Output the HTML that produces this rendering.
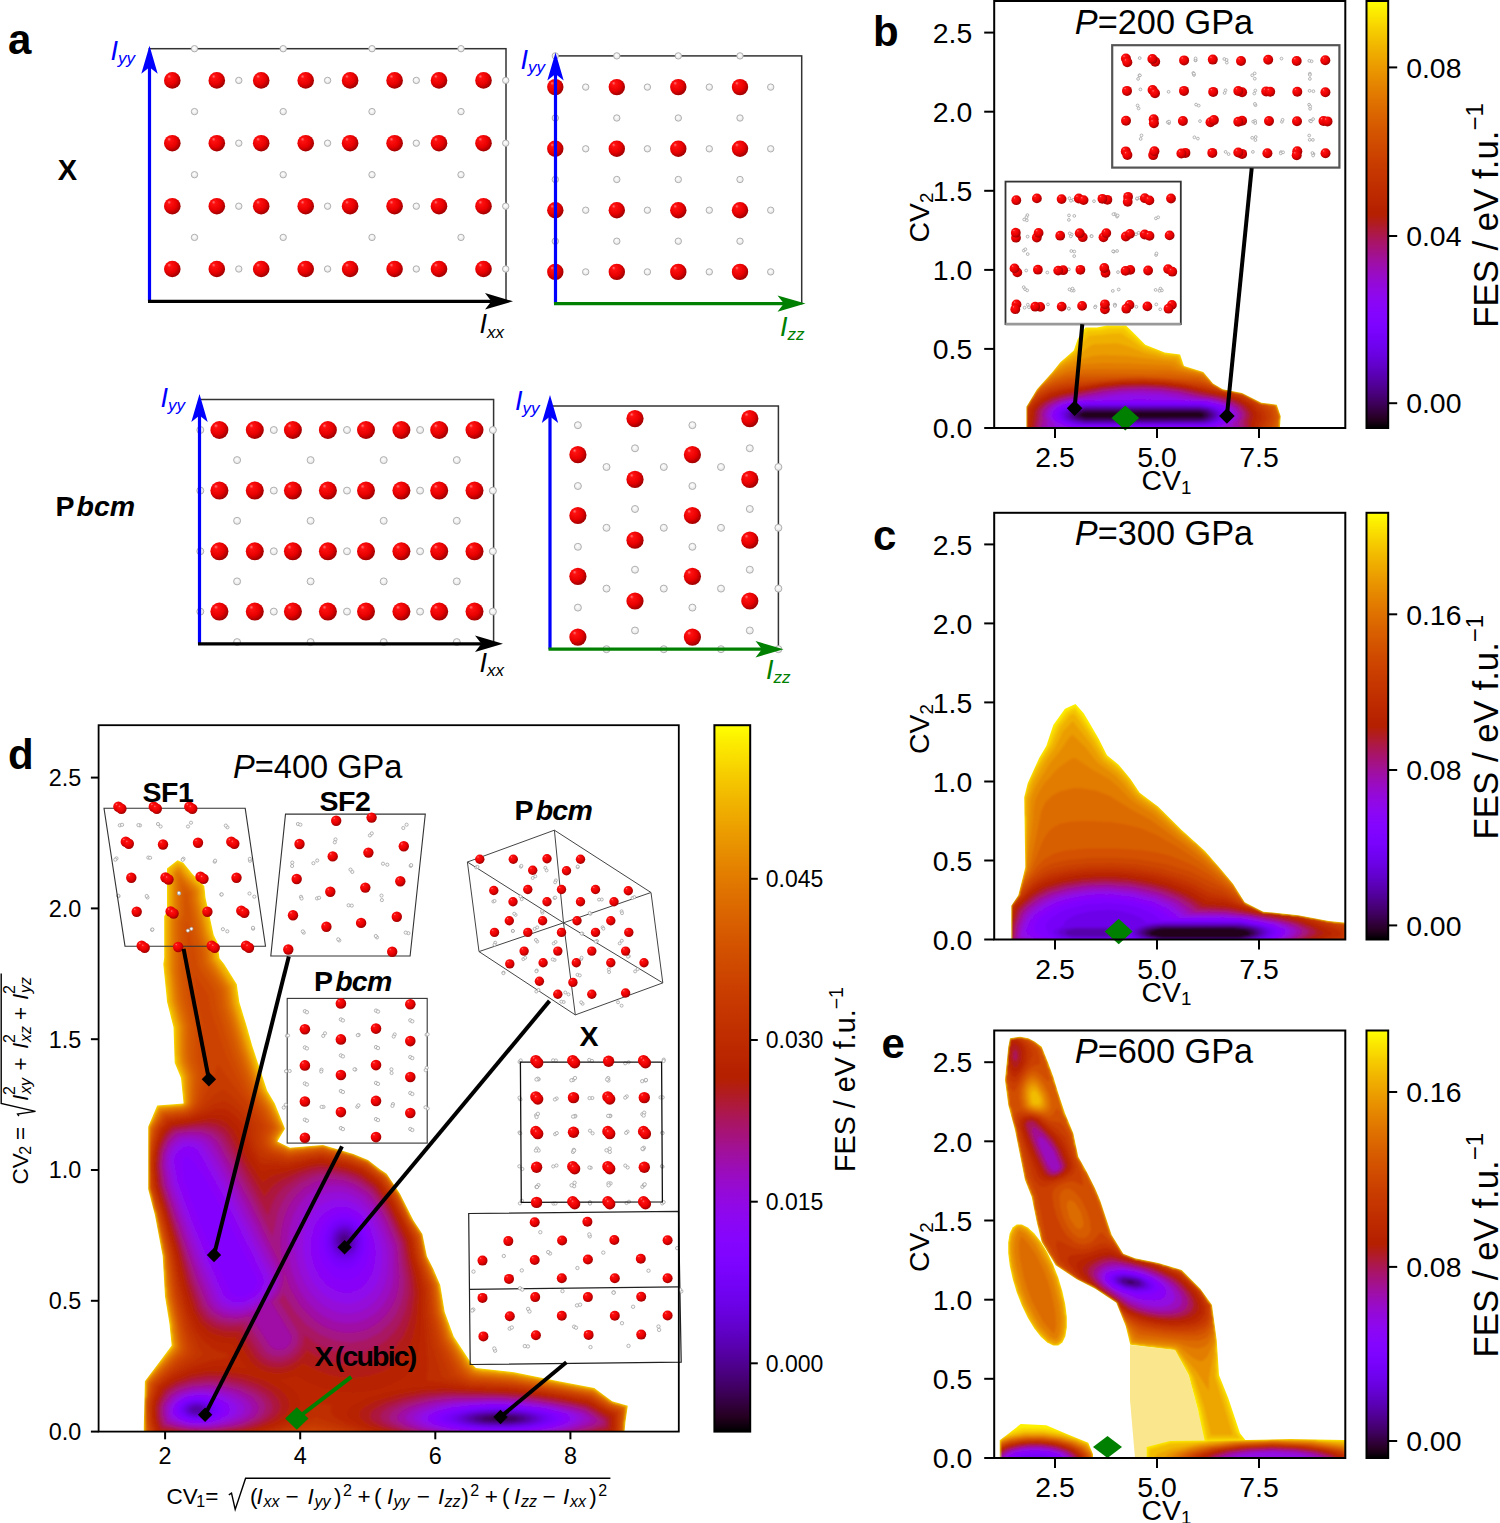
<!DOCTYPE html><html><head><meta charset="utf-8"><style>html,body{margin:0;padding:0;background:#fff;overflow:hidden}svg{display:block}</style></head><body><svg width="1500" height="1523" viewBox="0 0 1500 1523" font-family='"Liberation Sans", sans-serif'><defs><radialGradient id="rg" cx="0.4" cy="0.38" r="0.62" fx="0.3" fy="0.25"><stop offset="0" stop-color="#ff7878"/><stop offset="0.18" stop-color="#ff1010"/><stop offset="0.65" stop-color="#e80000"/><stop offset="1" stop-color="#a00000"/></radialGradient><radialGradient id="gg" cx="0.45" cy="0.4" r="0.6"><stop offset="0" stop-color="#ffffff"/><stop offset="1" stop-color="#e4e4e4"/></radialGradient><linearGradient id="cmapg" x1="0" y1="1" x2="0" y2="0"><stop offset="0" stop-color="#000000"/><stop offset="0.021" stop-color="#250021"/><stop offset="0.042" stop-color="#340042"/><stop offset="0.062" stop-color="#400062"/><stop offset="0.083" stop-color="#4a007f"/><stop offset="0.104" stop-color="#52009b"/><stop offset="0.125" stop-color="#5a00b4"/><stop offset="0.146" stop-color="#6101ca"/><stop offset="0.167" stop-color="#6801dd"/><stop offset="0.188" stop-color="#6e02ec"/><stop offset="0.208" stop-color="#7402f6"/><stop offset="0.229" stop-color="#7a03fd"/><stop offset="0.25" stop-color="#8004ff"/><stop offset="0.271" stop-color="#8505fd"/><stop offset="0.292" stop-color="#8a06f6"/><stop offset="0.312" stop-color="#8f08ec"/><stop offset="0.333" stop-color="#9309dd"/><stop offset="0.354" stop-color="#980bca"/><stop offset="0.375" stop-color="#9c0db4"/><stop offset="0.396" stop-color="#a0109b"/><stop offset="0.417" stop-color="#a5127f"/><stop offset="0.438" stop-color="#a91562"/><stop offset="0.458" stop-color="#ad1942"/><stop offset="0.479" stop-color="#b11c21"/><stop offset="0.5" stop-color="#b42000"/><stop offset="0.521" stop-color="#b82400"/><stop offset="0.542" stop-color="#bc2900"/><stop offset="0.562" stop-color="#bf2d00"/><stop offset="0.583" stop-color="#c33300"/><stop offset="0.604" stop-color="#c63800"/><stop offset="0.625" stop-color="#ca3e00"/><stop offset="0.646" stop-color="#cd4500"/><stop offset="0.667" stop-color="#d04c00"/><stop offset="0.688" stop-color="#d35300"/><stop offset="0.708" stop-color="#d75b00"/><stop offset="0.729" stop-color="#da6300"/><stop offset="0.75" stop-color="#dd6c00"/><stop offset="0.771" stop-color="#e07500"/><stop offset="0.792" stop-color="#e37f00"/><stop offset="0.812" stop-color="#e68900"/><stop offset="0.833" stop-color="#e99400"/><stop offset="0.854" stop-color="#ec9f00"/><stop offset="0.875" stop-color="#efab00"/><stop offset="0.896" stop-color="#f1b700"/><stop offset="0.917" stop-color="#f4c400"/><stop offset="0.938" stop-color="#f7d200"/><stop offset="0.958" stop-color="#fae000"/><stop offset="0.979" stop-color="#fcef00"/><stop offset="1" stop-color="#ffff00"/></linearGradient><clipPath id="clipdm"><path d="M143.8 1445 143.8 1425.9 144.9 1381.3 158.3 1363.4 171.7 1345.5 169.4 1323.2 165 1296.4 162.7 1256 154.9 1215 148.2 1189.3 148.2 1126.8 157.2 1105.6 183.6 1103.4 181 1078 174.7 1062.8 173.5 1027.3 167.1 1002 163.3 964 164.2 958 164.2 916.3 167 911.7 167 868.5 177.5 860.3 183.3 862.7 192.7 874.3 204.3 886 205.5 897.7 213.7 935 217.2 942 219.5 958.3 224.1 964 236.8 984.3 239.3 1002 247 1027.3 252 1045 257 1060.3 267.2 1090.7 274.8 1103.4 285 1128.7 277.3 1141.4 290 1147.7 323 1145 353.4 1154 368 1160 380 1169.2 386.7 1173.7 400 1193.8 413.5 1220.5 422.4 1234 426.9 1256.3 433.6 1269.6 440.3 1285.3 444.7 1312 453.7 1336.6 462.6 1350 471.5 1363.4 476 1367.9 514 1372.3 558.6 1381.3 594.3 1388 612.1 1401.3 627.8 1405.8 625.5 1421.4 623.3 1445Z"/></clipPath><clipPath id="clipd"><rect x="98.6" y="725.2" width="580.2" height="706.4"/></clipPath><filter id="bld" x="-5%" y="-5%" width="110%" height="110%"><feGaussianBlur stdDeviation="1.5"/></filter><clipPath id="clipbm"><path d="M1026.4 445 1026.4 426 1026.4 406.7 1037 389.3 1052.5 371.9 1060.3 362.2 1073.8 350.6 1077.7 339 1085.4 327.4 1097 327.4 1106.7 325.5 1126 325.5 1135.7 335.1 1145.3 344.8 1164.7 352.5 1180.1 354.5 1184 366 1203.3 371.9 1213 383.5 1222.7 389.3 1242 393.1 1261.4 402.8 1276.8 404.7 1280.7 416.3 1278.8 445Z"/></clipPath><clipPath id="clipb"><rect x="994.2" y="1" width="351.1" height="427"/></clipPath><filter id="blb" x="-5%" y="-5%" width="110%" height="110%"><feGaussianBlur stdDeviation="1"/></filter><clipPath id="clipcm"><path d="M1011.3 945 1011.3 937.3 1011.3 905.8 1018.3 895.3 1023 876.7 1025.3 867.3 1024.2 797.3 1027.7 783.3 1039.3 757.7 1046.3 746 1053.3 725 1065 708.7 1075.5 704 1083.7 713.3 1090.7 725 1098.8 739 1107 755.3 1118.7 764.7 1130.3 778.7 1139.7 792.7 1158.3 806.7 1181.7 830 1205 851 1221.3 869.7 1233 883.7 1244.7 902.3 1263.3 911.7 1298.3 915.2 1328.7 921 1350 923.3 1350 945Z"/></clipPath><clipPath id="clipc"><rect x="994.2" y="512.8" width="351.1" height="426.7"/></clipPath><filter id="blc" x="-5%" y="-5%" width="110%" height="110%"><feGaussianBlur stdDeviation="1"/></filter><clipPath id="clipe1m"><path d="M1010 1038.3 1020 1036.7 1028.3 1038.3 1035 1041.7 1041.7 1046.7 1048.3 1063.3 1053.3 1076.7 1058.3 1093.3 1065 1113.3 1073.3 1133.3 1078.3 1156.7 1086.7 1171.7 1095 1188.3 1100 1200 1111.7 1235 1123.3 1253.7 1135 1258.3 1158.3 1263 1181.7 1270 1200.3 1288.7 1212 1305 1216.7 1340 1219 1375 1228.3 1398.3 1240 1433.3 1247 1442 1205 1442 1198 1410 1188.7 1375 1175 1350 1130.3 1344.7 1125.7 1326 1116.3 1302.7 1095.3 1288.7 1076.7 1279.3 1055.7 1265.3 1041.7 1242 1036.7 1221.7 1031.7 1196.7 1025 1180 1020 1155 1015 1130 1008.3 1105 1005 1080 1008.3 1046.7Z"/></clipPath><clipPath id="clipe1"><rect x="994.2" y="1030.5" width="351.1" height="427.5"/></clipPath><filter id="ble1" x="-5%" y="-5%" width="110%" height="110%"><feGaussianBlur stdDeviation="1"/></filter><clipPath id="clipe2m"><path d="M1058.3 1345.5 1053.2 1345.6 1047.2 1342.6 1040.8 1336.8 1034.2 1328.3 1027.8 1317.7 1021.9 1305.4 1016.7 1292.2 1012.6 1278.5 1009.7 1265.2 1008.2 1252.9 1008.2 1242.2 1009.7 1233.6 1012.6 1227.6 1016.7 1224.5 1021.8 1224.4 1027.8 1227.4 1034.2 1233.2 1040.8 1241.7 1047.2 1252.3 1053.1 1264.6 1058.3 1277.8 1062.4 1291.5 1065.3 1304.8 1066.8 1317.1 1066.8 1327.8 1065.3 1336.4 1062.4 1342.4Z"/></clipPath><clipPath id="clipe2"><rect x="994.2" y="1030.5" width="351.1" height="427.5"/></clipPath><filter id="ble2" x="-5%" y="-5%" width="110%" height="110%"><feGaussianBlur stdDeviation="1"/></filter><clipPath id="clipe3m"><path d="M999.7 1465 999.7 1440.3 1009 1433.3 1020.7 1424 1046.3 1425.2 1065 1433.3 1088.3 1442.7 1093 1454.3 1093 1465Z"/></clipPath><clipPath id="clipe3"><rect x="994.2" y="1030.5" width="351.1" height="427.5"/></clipPath><filter id="ble3" x="-5%" y="-5%" width="110%" height="110%"><feGaussianBlur stdDeviation="1"/></filter><clipPath id="clipe4m"><path d="M1146.7 1465 1146.7 1447 1170 1441 1247 1440 1290 1439 1343.8 1440 1350 1440 1350 1465Z"/></clipPath><clipPath id="clipe4"><rect x="994.2" y="1030.5" width="351.1" height="427.5"/></clipPath><filter id="ble4" x="-5%" y="-5%" width="110%" height="110%"><feGaussianBlur stdDeviation="1"/></filter></defs><rect width="1500" height="1523" fill="#fff"/>
<rect x="149.3" y="48.7" width="356.7" height="252.3" fill="none" stroke="#333" stroke-width="1.5"/>
<circle cx="238.8" cy="80.4" r="3.2" fill="url(#gg)" stroke="#a8a8a8" stroke-width="0.9"/>
<circle cx="327.6" cy="80.4" r="3.2" fill="url(#gg)" stroke="#a8a8a8" stroke-width="0.9"/>
<circle cx="416.3" cy="80.4" r="3.2" fill="url(#gg)" stroke="#a8a8a8" stroke-width="0.9"/>
<circle cx="505.7" cy="80.4" r="3.2" fill="url(#gg)" stroke="#a8a8a8" stroke-width="0.9"/>
<circle cx="238.8" cy="143.2" r="3.2" fill="url(#gg)" stroke="#a8a8a8" stroke-width="0.9"/>
<circle cx="327.6" cy="143.2" r="3.2" fill="url(#gg)" stroke="#a8a8a8" stroke-width="0.9"/>
<circle cx="416.3" cy="143.2" r="3.2" fill="url(#gg)" stroke="#a8a8a8" stroke-width="0.9"/>
<circle cx="505.7" cy="143.2" r="3.2" fill="url(#gg)" stroke="#a8a8a8" stroke-width="0.9"/>
<circle cx="238.8" cy="206.2" r="3.2" fill="url(#gg)" stroke="#a8a8a8" stroke-width="0.9"/>
<circle cx="327.6" cy="206.2" r="3.2" fill="url(#gg)" stroke="#a8a8a8" stroke-width="0.9"/>
<circle cx="416.3" cy="206.2" r="3.2" fill="url(#gg)" stroke="#a8a8a8" stroke-width="0.9"/>
<circle cx="505.7" cy="206.2" r="3.2" fill="url(#gg)" stroke="#a8a8a8" stroke-width="0.9"/>
<circle cx="238.8" cy="269" r="3.2" fill="url(#gg)" stroke="#a8a8a8" stroke-width="0.9"/>
<circle cx="327.6" cy="269" r="3.2" fill="url(#gg)" stroke="#a8a8a8" stroke-width="0.9"/>
<circle cx="416.3" cy="269" r="3.2" fill="url(#gg)" stroke="#a8a8a8" stroke-width="0.9"/>
<circle cx="505.7" cy="269" r="3.2" fill="url(#gg)" stroke="#a8a8a8" stroke-width="0.9"/>
<circle cx="194.5" cy="48.7" r="3.2" fill="url(#gg)" stroke="#a8a8a8" stroke-width="0.9"/>
<circle cx="283.2" cy="48.7" r="3.2" fill="url(#gg)" stroke="#a8a8a8" stroke-width="0.9"/>
<circle cx="372" cy="48.7" r="3.2" fill="url(#gg)" stroke="#a8a8a8" stroke-width="0.9"/>
<circle cx="461" cy="48.7" r="3.2" fill="url(#gg)" stroke="#a8a8a8" stroke-width="0.9"/>
<circle cx="194.5" cy="111.6" r="3.2" fill="url(#gg)" stroke="#a8a8a8" stroke-width="0.9"/>
<circle cx="283.2" cy="111.6" r="3.2" fill="url(#gg)" stroke="#a8a8a8" stroke-width="0.9"/>
<circle cx="372" cy="111.6" r="3.2" fill="url(#gg)" stroke="#a8a8a8" stroke-width="0.9"/>
<circle cx="461" cy="111.6" r="3.2" fill="url(#gg)" stroke="#a8a8a8" stroke-width="0.9"/>
<circle cx="194.5" cy="174.7" r="3.2" fill="url(#gg)" stroke="#a8a8a8" stroke-width="0.9"/>
<circle cx="283.2" cy="174.7" r="3.2" fill="url(#gg)" stroke="#a8a8a8" stroke-width="0.9"/>
<circle cx="372" cy="174.7" r="3.2" fill="url(#gg)" stroke="#a8a8a8" stroke-width="0.9"/>
<circle cx="461" cy="174.7" r="3.2" fill="url(#gg)" stroke="#a8a8a8" stroke-width="0.9"/>
<circle cx="194.5" cy="237.4" r="3.2" fill="url(#gg)" stroke="#a8a8a8" stroke-width="0.9"/>
<circle cx="283.2" cy="237.4" r="3.2" fill="url(#gg)" stroke="#a8a8a8" stroke-width="0.9"/>
<circle cx="372" cy="237.4" r="3.2" fill="url(#gg)" stroke="#a8a8a8" stroke-width="0.9"/>
<circle cx="461" cy="237.4" r="3.2" fill="url(#gg)" stroke="#a8a8a8" stroke-width="0.9"/>
<circle cx="172.3" cy="80.4" r="8.3" fill="url(#rg)"/>
<circle cx="216.8" cy="80.4" r="8.3" fill="url(#rg)"/>
<circle cx="261.2" cy="80.4" r="8.3" fill="url(#rg)"/>
<circle cx="305.7" cy="80.4" r="8.3" fill="url(#rg)"/>
<circle cx="350.1" cy="80.4" r="8.3" fill="url(#rg)"/>
<circle cx="394.6" cy="80.4" r="8.3" fill="url(#rg)"/>
<circle cx="439" cy="80.4" r="8.3" fill="url(#rg)"/>
<circle cx="483.5" cy="80.4" r="8.3" fill="url(#rg)"/>
<circle cx="172.3" cy="143.2" r="8.3" fill="url(#rg)"/>
<circle cx="216.8" cy="143.2" r="8.3" fill="url(#rg)"/>
<circle cx="261.2" cy="143.2" r="8.3" fill="url(#rg)"/>
<circle cx="305.7" cy="143.2" r="8.3" fill="url(#rg)"/>
<circle cx="350.1" cy="143.2" r="8.3" fill="url(#rg)"/>
<circle cx="394.6" cy="143.2" r="8.3" fill="url(#rg)"/>
<circle cx="439" cy="143.2" r="8.3" fill="url(#rg)"/>
<circle cx="483.5" cy="143.2" r="8.3" fill="url(#rg)"/>
<circle cx="172.3" cy="206.2" r="8.3" fill="url(#rg)"/>
<circle cx="216.8" cy="206.2" r="8.3" fill="url(#rg)"/>
<circle cx="261.2" cy="206.2" r="8.3" fill="url(#rg)"/>
<circle cx="305.7" cy="206.2" r="8.3" fill="url(#rg)"/>
<circle cx="350.1" cy="206.2" r="8.3" fill="url(#rg)"/>
<circle cx="394.6" cy="206.2" r="8.3" fill="url(#rg)"/>
<circle cx="439" cy="206.2" r="8.3" fill="url(#rg)"/>
<circle cx="483.5" cy="206.2" r="8.3" fill="url(#rg)"/>
<circle cx="172.3" cy="269" r="8.3" fill="url(#rg)"/>
<circle cx="216.8" cy="269" r="8.3" fill="url(#rg)"/>
<circle cx="261.2" cy="269" r="8.3" fill="url(#rg)"/>
<circle cx="305.7" cy="269" r="8.3" fill="url(#rg)"/>
<circle cx="350.1" cy="269" r="8.3" fill="url(#rg)"/>
<circle cx="394.6" cy="269" r="8.3" fill="url(#rg)"/>
<circle cx="439" cy="269" r="8.3" fill="url(#rg)"/>
<circle cx="483.5" cy="269" r="8.3" fill="url(#rg)"/>
<line x1="149.5" y1="301" x2="149.5" y2="67.3" stroke="#0000ff" stroke-width="3.2"/><path d="M149.5 45.7 L157.7 73.7 L149.5 67.3 L141.3 73.7 Z" fill="#0000ff"/>
<line x1="148" y1="301.3" x2="491.4" y2="301.3" stroke="#000" stroke-width="3.2"/><path d="M513 301.3 L485 309.5 L491.4 301.3 L485 293.1 Z" fill="#000"/>
<text x="110.5" y="59.5" font-size="27" font-style="italic" fill="#0000ff">I<tspan font-size="17" dy="4.5">yy</tspan></text>
<text x="479.5" y="333" font-size="27" font-style="italic" fill="#000">I<tspan font-size="17" dy="4.5">xx</tspan></text>
<rect x="555.5" y="55.9" width="246.2" height="247.7" fill="none" stroke="#333" stroke-width="1.5"/>
<circle cx="585.7" cy="87.1" r="3.2" fill="url(#gg)" stroke="#a8a8a8" stroke-width="0.9"/>
<circle cx="647.4" cy="87.1" r="3.2" fill="url(#gg)" stroke="#a8a8a8" stroke-width="0.9"/>
<circle cx="709.3" cy="87.1" r="3.2" fill="url(#gg)" stroke="#a8a8a8" stroke-width="0.9"/>
<circle cx="770.7" cy="87.1" r="3.2" fill="url(#gg)" stroke="#a8a8a8" stroke-width="0.9"/>
<circle cx="585.7" cy="148.8" r="3.2" fill="url(#gg)" stroke="#a8a8a8" stroke-width="0.9"/>
<circle cx="647.4" cy="148.8" r="3.2" fill="url(#gg)" stroke="#a8a8a8" stroke-width="0.9"/>
<circle cx="709.3" cy="148.8" r="3.2" fill="url(#gg)" stroke="#a8a8a8" stroke-width="0.9"/>
<circle cx="770.7" cy="148.8" r="3.2" fill="url(#gg)" stroke="#a8a8a8" stroke-width="0.9"/>
<circle cx="585.7" cy="210.2" r="3.2" fill="url(#gg)" stroke="#a8a8a8" stroke-width="0.9"/>
<circle cx="647.4" cy="210.2" r="3.2" fill="url(#gg)" stroke="#a8a8a8" stroke-width="0.9"/>
<circle cx="709.3" cy="210.2" r="3.2" fill="url(#gg)" stroke="#a8a8a8" stroke-width="0.9"/>
<circle cx="770.7" cy="210.2" r="3.2" fill="url(#gg)" stroke="#a8a8a8" stroke-width="0.9"/>
<circle cx="585.7" cy="271.9" r="3.2" fill="url(#gg)" stroke="#a8a8a8" stroke-width="0.9"/>
<circle cx="647.4" cy="271.9" r="3.2" fill="url(#gg)" stroke="#a8a8a8" stroke-width="0.9"/>
<circle cx="709.3" cy="271.9" r="3.2" fill="url(#gg)" stroke="#a8a8a8" stroke-width="0.9"/>
<circle cx="770.7" cy="271.9" r="3.2" fill="url(#gg)" stroke="#a8a8a8" stroke-width="0.9"/>
<circle cx="555.3" cy="55.9" r="3.2" fill="url(#gg)" stroke="#a8a8a8" stroke-width="0.9"/>
<circle cx="616.8" cy="55.9" r="3.2" fill="url(#gg)" stroke="#a8a8a8" stroke-width="0.9"/>
<circle cx="678.3" cy="55.9" r="3.2" fill="url(#gg)" stroke="#a8a8a8" stroke-width="0.9"/>
<circle cx="740" cy="55.9" r="3.2" fill="url(#gg)" stroke="#a8a8a8" stroke-width="0.9"/>
<circle cx="555.3" cy="118" r="3.2" fill="url(#gg)" stroke="#a8a8a8" stroke-width="0.9"/>
<circle cx="616.8" cy="118" r="3.2" fill="url(#gg)" stroke="#a8a8a8" stroke-width="0.9"/>
<circle cx="678.3" cy="118" r="3.2" fill="url(#gg)" stroke="#a8a8a8" stroke-width="0.9"/>
<circle cx="740" cy="118" r="3.2" fill="url(#gg)" stroke="#a8a8a8" stroke-width="0.9"/>
<circle cx="555.3" cy="179.5" r="3.2" fill="url(#gg)" stroke="#a8a8a8" stroke-width="0.9"/>
<circle cx="616.8" cy="179.5" r="3.2" fill="url(#gg)" stroke="#a8a8a8" stroke-width="0.9"/>
<circle cx="678.3" cy="179.5" r="3.2" fill="url(#gg)" stroke="#a8a8a8" stroke-width="0.9"/>
<circle cx="740" cy="179.5" r="3.2" fill="url(#gg)" stroke="#a8a8a8" stroke-width="0.9"/>
<circle cx="555.3" cy="241.2" r="3.2" fill="url(#gg)" stroke="#a8a8a8" stroke-width="0.9"/>
<circle cx="616.8" cy="241.2" r="3.2" fill="url(#gg)" stroke="#a8a8a8" stroke-width="0.9"/>
<circle cx="678.3" cy="241.2" r="3.2" fill="url(#gg)" stroke="#a8a8a8" stroke-width="0.9"/>
<circle cx="740" cy="241.2" r="3.2" fill="url(#gg)" stroke="#a8a8a8" stroke-width="0.9"/>
<circle cx="555.3" cy="87.1" r="8.2" fill="url(#rg)"/>
<circle cx="616.8" cy="87.1" r="8.2" fill="url(#rg)"/>
<circle cx="678.3" cy="87.1" r="8.2" fill="url(#rg)"/>
<circle cx="740" cy="87.1" r="8.2" fill="url(#rg)"/>
<circle cx="555.3" cy="148.8" r="8.2" fill="url(#rg)"/>
<circle cx="616.8" cy="148.8" r="8.2" fill="url(#rg)"/>
<circle cx="678.3" cy="148.8" r="8.2" fill="url(#rg)"/>
<circle cx="740" cy="148.8" r="8.2" fill="url(#rg)"/>
<circle cx="555.3" cy="210.2" r="8.2" fill="url(#rg)"/>
<circle cx="616.8" cy="210.2" r="8.2" fill="url(#rg)"/>
<circle cx="678.3" cy="210.2" r="8.2" fill="url(#rg)"/>
<circle cx="740" cy="210.2" r="8.2" fill="url(#rg)"/>
<circle cx="555.3" cy="271.9" r="8.2" fill="url(#rg)"/>
<circle cx="616.8" cy="271.9" r="8.2" fill="url(#rg)"/>
<circle cx="678.3" cy="271.9" r="8.2" fill="url(#rg)"/>
<circle cx="740" cy="271.9" r="8.2" fill="url(#rg)"/>
<line x1="555.5" y1="303.6" x2="555.5" y2="74.1" stroke="#0000ff" stroke-width="3.2"/><path d="M555.5 52.5 L563.7 80.5 L555.5 74.1 L547.3 80.5 Z" fill="#0000ff"/>
<line x1="554" y1="303.6" x2="783.9" y2="303.6" stroke="#008000" stroke-width="3.2"/><path d="M805.5 303.6 L777.5 311.8 L783.9 303.6 L777.5 295.4 Z" fill="#008000"/>
<text x="520.5" y="68.5" font-size="27" font-style="italic" fill="#0000ff">I<tspan font-size="17" dy="4.5">yy</tspan></text>
<text x="780" y="335.5" font-size="27" font-style="italic" fill="#008000">I<tspan font-size="17" dy="4.5">zz</tspan></text>
<rect x="199.5" y="399.5" width="294.1" height="244.3" fill="none" stroke="#333" stroke-width="1.5"/>
<circle cx="200.3" cy="430" r="3.5" fill="url(#gg)" stroke="#a8a8a8" stroke-width="0.9"/>
<circle cx="273.8" cy="430" r="3.5" fill="url(#gg)" stroke="#a8a8a8" stroke-width="0.9"/>
<circle cx="347" cy="430" r="3.5" fill="url(#gg)" stroke="#a8a8a8" stroke-width="0.9"/>
<circle cx="420.1" cy="430" r="3.5" fill="url(#gg)" stroke="#a8a8a8" stroke-width="0.9"/>
<circle cx="492.9" cy="430" r="3.5" fill="url(#gg)" stroke="#a8a8a8" stroke-width="0.9"/>
<circle cx="200.3" cy="490.6" r="3.5" fill="url(#gg)" stroke="#a8a8a8" stroke-width="0.9"/>
<circle cx="273.8" cy="490.6" r="3.5" fill="url(#gg)" stroke="#a8a8a8" stroke-width="0.9"/>
<circle cx="347" cy="490.6" r="3.5" fill="url(#gg)" stroke="#a8a8a8" stroke-width="0.9"/>
<circle cx="420.1" cy="490.6" r="3.5" fill="url(#gg)" stroke="#a8a8a8" stroke-width="0.9"/>
<circle cx="492.9" cy="490.6" r="3.5" fill="url(#gg)" stroke="#a8a8a8" stroke-width="0.9"/>
<circle cx="200.3" cy="551.3" r="3.5" fill="url(#gg)" stroke="#a8a8a8" stroke-width="0.9"/>
<circle cx="273.8" cy="551.3" r="3.5" fill="url(#gg)" stroke="#a8a8a8" stroke-width="0.9"/>
<circle cx="347" cy="551.3" r="3.5" fill="url(#gg)" stroke="#a8a8a8" stroke-width="0.9"/>
<circle cx="420.1" cy="551.3" r="3.5" fill="url(#gg)" stroke="#a8a8a8" stroke-width="0.9"/>
<circle cx="492.9" cy="551.3" r="3.5" fill="url(#gg)" stroke="#a8a8a8" stroke-width="0.9"/>
<circle cx="200.3" cy="611.6" r="3.5" fill="url(#gg)" stroke="#a8a8a8" stroke-width="0.9"/>
<circle cx="273.8" cy="611.6" r="3.5" fill="url(#gg)" stroke="#a8a8a8" stroke-width="0.9"/>
<circle cx="347" cy="611.6" r="3.5" fill="url(#gg)" stroke="#a8a8a8" stroke-width="0.9"/>
<circle cx="420.1" cy="611.6" r="3.5" fill="url(#gg)" stroke="#a8a8a8" stroke-width="0.9"/>
<circle cx="492.9" cy="611.6" r="3.5" fill="url(#gg)" stroke="#a8a8a8" stroke-width="0.9"/>
<circle cx="237.1" cy="460.1" r="3.5" fill="url(#gg)" stroke="#a8a8a8" stroke-width="0.9"/>
<circle cx="310.6" cy="460.1" r="3.5" fill="url(#gg)" stroke="#a8a8a8" stroke-width="0.9"/>
<circle cx="383.7" cy="460.1" r="3.5" fill="url(#gg)" stroke="#a8a8a8" stroke-width="0.9"/>
<circle cx="456.8" cy="460.1" r="3.5" fill="url(#gg)" stroke="#a8a8a8" stroke-width="0.9"/>
<circle cx="237.1" cy="520.8" r="3.5" fill="url(#gg)" stroke="#a8a8a8" stroke-width="0.9"/>
<circle cx="310.6" cy="520.8" r="3.5" fill="url(#gg)" stroke="#a8a8a8" stroke-width="0.9"/>
<circle cx="383.7" cy="520.8" r="3.5" fill="url(#gg)" stroke="#a8a8a8" stroke-width="0.9"/>
<circle cx="456.8" cy="520.8" r="3.5" fill="url(#gg)" stroke="#a8a8a8" stroke-width="0.9"/>
<circle cx="237.1" cy="581.4" r="3.5" fill="url(#gg)" stroke="#a8a8a8" stroke-width="0.9"/>
<circle cx="310.6" cy="581.4" r="3.5" fill="url(#gg)" stroke="#a8a8a8" stroke-width="0.9"/>
<circle cx="383.7" cy="581.4" r="3.5" fill="url(#gg)" stroke="#a8a8a8" stroke-width="0.9"/>
<circle cx="456.8" cy="581.4" r="3.5" fill="url(#gg)" stroke="#a8a8a8" stroke-width="0.9"/>
<circle cx="237.1" cy="642.1" r="3.5" fill="url(#gg)" stroke="#a8a8a8" stroke-width="0.9"/>
<circle cx="310.6" cy="642.1" r="3.5" fill="url(#gg)" stroke="#a8a8a8" stroke-width="0.9"/>
<circle cx="383.7" cy="642.1" r="3.5" fill="url(#gg)" stroke="#a8a8a8" stroke-width="0.9"/>
<circle cx="456.8" cy="642.1" r="3.5" fill="url(#gg)" stroke="#a8a8a8" stroke-width="0.9"/>
<circle cx="219.4" cy="430" r="9" fill="url(#rg)"/>
<circle cx="254.8" cy="430" r="9" fill="url(#rg)"/>
<circle cx="292.9" cy="430" r="9" fill="url(#rg)"/>
<circle cx="327.9" cy="430" r="9" fill="url(#rg)"/>
<circle cx="366" cy="430" r="9" fill="url(#rg)"/>
<circle cx="401.4" cy="430" r="9" fill="url(#rg)"/>
<circle cx="439.2" cy="430" r="9" fill="url(#rg)"/>
<circle cx="474.5" cy="430" r="9" fill="url(#rg)"/>
<circle cx="219.4" cy="490.6" r="9" fill="url(#rg)"/>
<circle cx="254.8" cy="490.6" r="9" fill="url(#rg)"/>
<circle cx="292.9" cy="490.6" r="9" fill="url(#rg)"/>
<circle cx="327.9" cy="490.6" r="9" fill="url(#rg)"/>
<circle cx="366" cy="490.6" r="9" fill="url(#rg)"/>
<circle cx="401.4" cy="490.6" r="9" fill="url(#rg)"/>
<circle cx="439.2" cy="490.6" r="9" fill="url(#rg)"/>
<circle cx="474.5" cy="490.6" r="9" fill="url(#rg)"/>
<circle cx="219.4" cy="551.3" r="9" fill="url(#rg)"/>
<circle cx="254.8" cy="551.3" r="9" fill="url(#rg)"/>
<circle cx="292.9" cy="551.3" r="9" fill="url(#rg)"/>
<circle cx="327.9" cy="551.3" r="9" fill="url(#rg)"/>
<circle cx="366" cy="551.3" r="9" fill="url(#rg)"/>
<circle cx="401.4" cy="551.3" r="9" fill="url(#rg)"/>
<circle cx="439.2" cy="551.3" r="9" fill="url(#rg)"/>
<circle cx="474.5" cy="551.3" r="9" fill="url(#rg)"/>
<circle cx="219.4" cy="611.6" r="9" fill="url(#rg)"/>
<circle cx="254.8" cy="611.6" r="9" fill="url(#rg)"/>
<circle cx="292.9" cy="611.6" r="9" fill="url(#rg)"/>
<circle cx="327.9" cy="611.6" r="9" fill="url(#rg)"/>
<circle cx="366" cy="611.6" r="9" fill="url(#rg)"/>
<circle cx="401.4" cy="611.6" r="9" fill="url(#rg)"/>
<circle cx="439.2" cy="611.6" r="9" fill="url(#rg)"/>
<circle cx="474.5" cy="611.6" r="9" fill="url(#rg)"/>
<line x1="199.5" y1="643.8" x2="199.5" y2="415.6" stroke="#0000ff" stroke-width="3.2"/><path d="M199.5 394 L207.7 422 L199.5 415.6 L191.3 422 Z" fill="#0000ff"/>
<line x1="198" y1="643.8" x2="481.4" y2="643.8" stroke="#000" stroke-width="3.2"/><path d="M503 643.8 L475 652 L481.4 643.8 L475 635.6 Z" fill="#000"/>
<text x="160.5" y="406.5" font-size="27" font-style="italic" fill="#0000ff">I<tspan font-size="17" dy="4.5">yy</tspan></text>
<text x="479.5" y="671.5" font-size="27" font-style="italic" fill="#000">I<tspan font-size="17" dy="4.5">xx</tspan></text>
<rect x="549.7" y="406" width="228.7" height="243.2" fill="none" stroke="#333" stroke-width="1.5"/>
<circle cx="577.9" cy="425.2" r="3.5" fill="url(#gg)" stroke="#a8a8a8" stroke-width="0.9"/>
<circle cx="577.9" cy="486" r="3.5" fill="url(#gg)" stroke="#a8a8a8" stroke-width="0.9"/>
<circle cx="577.9" cy="546.8" r="3.5" fill="url(#gg)" stroke="#a8a8a8" stroke-width="0.9"/>
<circle cx="577.9" cy="607.6" r="3.5" fill="url(#gg)" stroke="#a8a8a8" stroke-width="0.9"/>
<circle cx="692.4" cy="425.2" r="3.5" fill="url(#gg)" stroke="#a8a8a8" stroke-width="0.9"/>
<circle cx="692.4" cy="486" r="3.5" fill="url(#gg)" stroke="#a8a8a8" stroke-width="0.9"/>
<circle cx="692.4" cy="546.8" r="3.5" fill="url(#gg)" stroke="#a8a8a8" stroke-width="0.9"/>
<circle cx="692.4" cy="607.6" r="3.5" fill="url(#gg)" stroke="#a8a8a8" stroke-width="0.9"/>
<circle cx="635" cy="448.3" r="3.5" fill="url(#gg)" stroke="#a8a8a8" stroke-width="0.9"/>
<circle cx="635" cy="509" r="3.5" fill="url(#gg)" stroke="#a8a8a8" stroke-width="0.9"/>
<circle cx="635" cy="569.7" r="3.5" fill="url(#gg)" stroke="#a8a8a8" stroke-width="0.9"/>
<circle cx="635" cy="630.5" r="3.5" fill="url(#gg)" stroke="#a8a8a8" stroke-width="0.9"/>
<circle cx="749.8" cy="448.3" r="3.5" fill="url(#gg)" stroke="#a8a8a8" stroke-width="0.9"/>
<circle cx="749.8" cy="509" r="3.5" fill="url(#gg)" stroke="#a8a8a8" stroke-width="0.9"/>
<circle cx="749.8" cy="569.7" r="3.5" fill="url(#gg)" stroke="#a8a8a8" stroke-width="0.9"/>
<circle cx="749.8" cy="630.5" r="3.5" fill="url(#gg)" stroke="#a8a8a8" stroke-width="0.9"/>
<circle cx="606.5" cy="467" r="3.5" fill="url(#gg)" stroke="#a8a8a8" stroke-width="0.9"/>
<circle cx="606.5" cy="527.8" r="3.5" fill="url(#gg)" stroke="#a8a8a8" stroke-width="0.9"/>
<circle cx="606.5" cy="588.6" r="3.5" fill="url(#gg)" stroke="#a8a8a8" stroke-width="0.9"/>
<circle cx="606.5" cy="649.2" r="3.5" fill="url(#gg)" stroke="#a8a8a8" stroke-width="0.9"/>
<circle cx="663.8" cy="467" r="3.5" fill="url(#gg)" stroke="#a8a8a8" stroke-width="0.9"/>
<circle cx="663.8" cy="527.8" r="3.5" fill="url(#gg)" stroke="#a8a8a8" stroke-width="0.9"/>
<circle cx="663.8" cy="588.6" r="3.5" fill="url(#gg)" stroke="#a8a8a8" stroke-width="0.9"/>
<circle cx="663.8" cy="649.2" r="3.5" fill="url(#gg)" stroke="#a8a8a8" stroke-width="0.9"/>
<circle cx="721" cy="467" r="3.5" fill="url(#gg)" stroke="#a8a8a8" stroke-width="0.9"/>
<circle cx="721" cy="527.8" r="3.5" fill="url(#gg)" stroke="#a8a8a8" stroke-width="0.9"/>
<circle cx="721" cy="588.6" r="3.5" fill="url(#gg)" stroke="#a8a8a8" stroke-width="0.9"/>
<circle cx="721" cy="649.2" r="3.5" fill="url(#gg)" stroke="#a8a8a8" stroke-width="0.9"/>
<circle cx="778.4" cy="467" r="3.5" fill="url(#gg)" stroke="#a8a8a8" stroke-width="0.9"/>
<circle cx="778.4" cy="527.8" r="3.5" fill="url(#gg)" stroke="#a8a8a8" stroke-width="0.9"/>
<circle cx="778.4" cy="588.6" r="3.5" fill="url(#gg)" stroke="#a8a8a8" stroke-width="0.9"/>
<circle cx="778.4" cy="649.2" r="3.5" fill="url(#gg)" stroke="#a8a8a8" stroke-width="0.9"/>
<circle cx="577.9" cy="454.7" r="8.6" fill="url(#rg)"/>
<circle cx="577.9" cy="515.5" r="8.6" fill="url(#rg)"/>
<circle cx="577.9" cy="576.3" r="8.6" fill="url(#rg)"/>
<circle cx="577.9" cy="637.1" r="8.6" fill="url(#rg)"/>
<circle cx="692.4" cy="454.7" r="8.6" fill="url(#rg)"/>
<circle cx="692.4" cy="515.5" r="8.6" fill="url(#rg)"/>
<circle cx="692.4" cy="576.3" r="8.6" fill="url(#rg)"/>
<circle cx="692.4" cy="637.1" r="8.6" fill="url(#rg)"/>
<circle cx="635" cy="418.6" r="8.6" fill="url(#rg)"/>
<circle cx="635" cy="479.4" r="8.6" fill="url(#rg)"/>
<circle cx="635" cy="540.2" r="8.6" fill="url(#rg)"/>
<circle cx="635" cy="601" r="8.6" fill="url(#rg)"/>
<circle cx="749.8" cy="418.6" r="8.6" fill="url(#rg)"/>
<circle cx="749.8" cy="479.4" r="8.6" fill="url(#rg)"/>
<circle cx="749.8" cy="540.2" r="8.6" fill="url(#rg)"/>
<circle cx="749.8" cy="601" r="8.6" fill="url(#rg)"/>
<line x1="550" y1="649.2" x2="550" y2="416.6" stroke="#0000ff" stroke-width="3.2"/><path d="M550 395 L558.2 423 L550 416.6 L541.8 423 Z" fill="#0000ff"/>
<line x1="548.5" y1="649.2" x2="761.9" y2="649.2" stroke="#008000" stroke-width="3.2"/><path d="M783.5 649.2 L755.5 657.4 L761.9 649.2 L755.5 641 Z" fill="#008000"/>
<text x="515" y="409.5" font-size="27" font-style="italic" fill="#0000ff">I<tspan font-size="17" dy="4.5">yy</tspan></text>
<text x="766" y="678.5" font-size="27" font-style="italic" fill="#008000">I<tspan font-size="17" dy="4.5">zz</tspan></text>
<text x="8" y="54" font-size="42" font-weight="bold">a</text>
<text x="57.8" y="179.5" font-size="29" font-weight="bold">X</text>
<text x="55.5" y="515.5" font-size="28.5" font-weight="bold">P<tspan font-style="italic" dx="2">bcm</tspan></text>
<g clip-path="url(#clipb)"><g clip-path="url(#clipbm)"><g filter="url(#blb)"><rect x="1018" y="317" width="271" height="119" fill="#fdf200"/><path d="M1279.8 430.5 1279.8 419.5 1280.8 418.5 1280.8 416.5 1276.5 405.2 1274.5 404.2 1261.5 403.1 1242.5 393.1 1221.5 389.1 1219.5 387.1 1213.5 384.2 1203.5 372.3 1184.5 366.3 1182.6 364.5 1179.5 354.4 1165.5 353.4 1145.5 345.5 1128.5 328.5 1124.5 325.7 1108.5 325.7 1101.5 327.6 1086.5 327.6 1079.5 336.5 1074.4 350.5 1058.4 364.5 1058.4 365.5 1048.3 376.5 1048.3 377.5 1039.2 386.5 1026.1 407.5 1026.5 430.9Z" fill="#f9db00" fill-rule="evenodd"/><path d="M1279.7 430.5 1279.7 419.5 1280.7 418.5 1280.7 416.5 1276.5 405.2 1274.5 404.2 1261.5 403.2 1242.5 393.2 1221.5 389.2 1219.5 387.2 1213.5 384.2 1203.5 372.3 1184.5 366.4 1182.6 364.5 1179.5 354.5 1165.5 353.5 1159.5 350.5 1144.5 345.8 1123.5 328.5 1109.5 328.5 1101.5 330.3 1087.5 330.7 1078.9 341.5 1074.5 350.5 1058.4 364.5 1058.4 365.5 1048.3 376.5 1048.3 377.5 1039.3 386.5 1026.2 407.5 1026.5 430.9Z" fill="#f4c400" fill-rule="evenodd"/><path d="M1279.7 430.5 1279.7 419.5 1280.7 418.5 1280.7 416.5 1276.5 405.3 1274.5 404.3 1261.5 403.2 1242.5 393.2 1221.5 389.2 1219.5 387.2 1213.5 384.3 1203.5 372.4 1184.5 366.4 1182.5 364.5 1181.5 359.7 1178.5 355.9 1164.5 354.8 1143.5 348.4 1121.5 333.3 1110.5 333.4 1102.5 334.8 1089.6 335.5 1083.5 341.6 1076 352.5 1062.5 360.5 1058.5 364.5 1054.4 370.5 1036.3 390.5 1026.2 407.5 1026.5 430.8Z" fill="#f0b000" fill-rule="evenodd"/><path d="M1279.6 430.5 1279.7 419.5 1280.7 418.5 1280.7 416.5 1276.5 405.3 1274.5 404.3 1261.5 403.3 1242.5 393.3 1221.5 389.2 1219.5 387.3 1213.5 384.3 1203.5 372.4 1186.5 367.5 1182.5 365.5 1176.5 358.2 1164.5 357.5 1144.5 352.8 1127.5 346.1 1117.5 343.3 1095.5 343.9 1092.5 344.8 1087.5 347.6 1078.5 354.9 1060.5 364.6 1054.5 369.5 1048.4 377.5 1039.3 386.5 1026.2 407.5 1026.5 430.8Z" fill="#eb9d00" fill-rule="evenodd"/><path d="M1279.6 430.5 1279.6 419.5 1280.6 418.5 1280.6 416.5 1276.6 405.5 1274.5 404.4 1261.5 403.3 1242.5 393.3 1221.5 389.3 1219.5 387.3 1213.5 384.3 1203.5 372.5 1182.5 367.8 1174.5 361.8 1126.5 355.7 1102.5 355.1 1092.5 356 1074.5 361 1063.5 365.7 1050.5 374.5 1039.4 386.5 1026.3 407.5 1026.5 430.8Z" fill="#e68b00" fill-rule="evenodd"/><path d="M1279.5 430.5 1279.6 419.5 1280.6 418.5 1280.6 416.5 1276.5 405.4 1274.5 404.4 1261.5 403.3 1242.5 393.3 1221.5 389.3 1219.5 387.4 1213.5 384.4 1206.5 376.5 1202.5 373.8 1181.5 370 1170.5 365.5 1129.5 363.4 1101.5 363.2 1083.5 364.3 1067.9 367.5 1058.5 371.8 1046.5 379.5 1036.4 390.5 1026.3 407.5 1026.5 430.7Z" fill="#e27b00" fill-rule="evenodd"/><path d="M1278.8 430.5 1279.5 419.5 1280.5 418.5 1280.5 416.5 1276.5 405.5 1274.5 404.5 1261.5 403.4 1242.5 393.4 1221.5 389.4 1219.5 387.4 1213.5 384.4 1209.5 380.5 1209.5 379.5 1201.5 375.5 1167.5 369.8 1095.5 369 1080.5 369.6 1068.5 371.4 1053.5 377.2 1041.5 384.5 1034.4 393.5 1033.4 396.5 1031.4 398.5 1026.3 407.5 1026.5 430.7Z" fill="#dd6c00" fill-rule="evenodd"/><path d="M1276.5 430.5 1279.7 417.5 1277.2 408.5 1274.5 404.9 1261.5 403.4 1242.5 393.4 1221.5 389.4 1211.5 382.5 1199.5 377.3 1169.5 374.2 1086.5 373.6 1065.5 375.8 1054.2 379.5 1038.5 388.5 1034.5 393.5 1033.4 396.5 1031.4 398.5 1026.4 407.5 1026.5 430.7Z" fill="#d85e00" fill-rule="evenodd"/><path d="M1273.4 430.5 1277.3 417.5 1276 411.5 1273.5 406.8 1266.1 403.5 1261.5 403.5 1242.5 393.5 1234.5 392.4 1233.5 391.5 1229.5 391.4 1228.5 390.5 1224.5 390.4 1215.5 385.5 1197.5 379.4 1140.5 376.4 1083.5 377.3 1068.5 378.6 1055.5 381.8 1045.5 386.1 1038.3 390.5 1034.5 393.5 1033.5 396.5 1031.5 398.5 1026.4 407.5 1026.5 430.6Z" fill="#d35100" fill-rule="evenodd"/><path d="M1269 430.5 1272.5 424.8 1274.4 417.5 1272.5 409.3 1242.5 393.7 1234.5 392.5 1233.5 391.5 1229.5 391.5 1228.5 390.5 1224.5 390.5 1203.5 383 1196.5 381.6 1161.5 378.4 1139.5 377.7 1067.5 381.8 1052.5 385.4 1039.5 391.7 1031.5 398.5 1026.5 407.5 1026.5 430.6Z" fill="#ce4600" fill-rule="evenodd"/><path d="M1264.5 430.5 1270.3 420.5 1271 417.5 1270.3 412.5 1264.5 407.4 1249.5 398.7 1237.5 393.7 1220.5 390 1202.5 384.9 1167.5 380.2 1146.5 379 1124.5 379.3 1062.5 385.3 1050.5 388.5 1041.5 392.7 1032.8 399.5 1026.5 407.5 1026.5 430.5Z" fill="#c83c00" fill-rule="evenodd"/><path d="M1261.4 430.5 1262.3 426.5 1266.7 418.5 1265.7 413.5 1263.5 410.4 1256.5 405 1242.5 397 1212.5 389 1189.5 384.5 1168.5 381.5 1149.5 380.3 1128.5 380.3 1107.5 381.8 1083.5 385.5 1065.5 387.2 1049.5 391.2 1039.5 396.2 1030.5 404.5 1027.6 409.5 1026.5 423.4 1026.5 430.5Z" fill="#c33300" fill-rule="evenodd"/><path d="M1258.3 430.5 1258.8 424.5 1261.8 418.5 1261 413.5 1253.7 405.5 1240.5 397.9 1215.5 391.3 1185.5 385.1 1164.5 382.4 1143.5 381.4 1123.5 381.8 1103.5 383.6 1063.5 389.8 1049.5 393.5 1039.5 398.7 1030.6 407.5 1029.1 411.5 1027.7 427.5 1027.8 430.5 1031.5 430.6Z" fill="#bd2a00" fill-rule="evenodd"/><path d="M1254.9 430.5 1255.1 423.5 1257.2 417.5 1256.1 412.5 1250 405.5 1239.9 399.5 1226.5 395.4 1185.8 386.5 1164.5 383.7 1143.5 382.7 1121.5 383.2 1100.5 385.3 1061.5 392.3 1049.5 395.8 1038.5 402 1032.5 408.5 1031.1 412.5 1029.5 427.5 1029.6 430.5 1032.5 430.5Z" fill="#b72300" fill-rule="evenodd"/><path d="M1251.4 430.5 1251.4 421.5 1253 416.5 1252.2 412.5 1247.4 406.5 1239.5 401.3 1225.5 396.7 1186.5 388.1 1165.5 385.2 1143.5 384 1122.5 384.5 1101.5 386.6 1062.5 394.1 1050.8 397.5 1040.5 403.2 1034.7 409.5 1031.6 427.5 1031.7 430.5 1032.5 430.5Z" fill="#b11d1b" fill-rule="evenodd"/><path d="M1247.6 430.5 1248.2 426.5 1247.3 421.5 1249.1 416.5 1248.4 412.5 1243.6 406.5 1235.5 401.6 1220.5 397 1184.5 389.3 1163.8 386.5 1143.5 385.5 1121.5 386.1 1100.5 388.3 1062.5 396 1052.5 399 1043.9 403.5 1037.8 409.5 1036.5 412.5 1036.5 417.5 1034.1 427.5 1034.2 430.5Z" fill="#ab174f" fill-rule="evenodd"/><path d="M1243.4 430.5 1244 426.5 1243.1 421.5 1245.3 416.5 1244.7 412.5 1240.5 407.1 1232.8 402.5 1219.5 398.3 1201.5 395.3 1181.5 390.5 1162.5 388 1143.5 387.1 1124.5 387.5 1104.3 389.5 1064.5 397.3 1054.5 400.3 1046.4 404.5 1040.5 410.5 1037.3 427.5 1037.4 430.5Z" fill="#a5127f" fill-rule="evenodd"/><path d="M1238.4 430.5 1239.2 426.5 1238.6 422.5 1241.4 417.5 1241.5 413.5 1237.5 407.7 1229.5 403 1213.5 398.4 1198.5 396.6 1177.5 391.8 1160.5 389.8 1143.5 388.9 1123.5 389.4 1104.5 391.5 1080.5 396.6 1067.5 398.4 1057.5 401.2 1048.9 405.5 1043.9 410.5 1042.5 414.5 1043.3 419.5 1041.2 427.5 1041.6 430.5Z" fill="#9e0eab" fill-rule="evenodd"/><path d="M1232.3 430.5 1232.9 423.5 1237 419.5 1238.2 414.5 1235.7 409.5 1229.5 405 1221.5 401.9 1211.5 399.4 1193.5 397.8 1178.5 394.4 1159.5 392 1140.5 391.2 1120.5 392 1069.5 399.6 1060.5 402 1052.8 405.5 1048 409.5 1045.8 414.5 1046.2 417.5 1047.9 420.5 1046.8 425.5 1047.7 430.5Z" fill="#970bce" fill-rule="evenodd"/><path d="M1223.7 430.5 1225.1 425.5 1231.5 421.5 1234.8 416.5 1233.8 411.5 1228.2 406.5 1220.5 403.2 1210.5 400.7 1185.5 399.2 1159.5 395.1 1127.5 394.6 1109.5 396.4 1094.5 399.2 1072.5 400.6 1062.5 403.1 1055.5 406.3 1050.7 410.5 1049 414.5 1050.6 419.5 1055 423.5 1055.1 427.5 1056.3 430.5Z" fill="#8f08e9" fill-rule="evenodd"/><path d="M1206.5 430.5 1208.8 428.5 1222.7 424.5 1228.5 421 1230.8 418.5 1231.7 415.5 1229.8 410.5 1226.1 407.5 1220.5 404.8 1205.5 401.3 1135.5 399.5 1120.3 400.5 1083.5 400.8 1073.5 401.8 1065.5 403.8 1058.5 406.8 1054 410.5 1052.2 414.5 1053.2 418.5 1056.1 421.5 1064.5 425.8 1070.4 427.5 1073.5 430.5Z" fill="#8806f9" fill-rule="evenodd"/><path d="M1203.7 427.5 1215.5 425.4 1224.3 421.5 1228.4 416.5 1227.3 411.5 1223.5 408.2 1217.5 405.4 1201.5 402.2 1085.5 402 1074.5 403.1 1064.5 405.9 1058.3 409.5 1055.3 414.5 1056.5 418.5 1061.5 422.6 1069.5 425.7 1080.5 427.5Z" fill="#8004ff" fill-rule="evenodd"/><path d="M1199.9 426.5 1211.5 425 1220.5 421.6 1224.9 417.5 1225.5 414.5 1224.8 412.5 1221.9 409.5 1216.1 406.5 1201.5 403.5 1086.5 403.3 1076.5 404.1 1067.3 406.5 1060.6 410.5 1058.4 414.5 1059.8 418.5 1064.5 422.1 1072.5 425 1081.5 426.3Z" fill="#7703f9" fill-rule="evenodd"/><path d="M1207 424.5 1214.5 422.5 1219.5 419.8 1222.2 416.5 1222.1 413.5 1219.8 410.5 1214.5 407.5 1200.5 404.7 1082.5 404.7 1074.5 405.9 1067.5 408.2 1062.9 411.5 1061.5 414.5 1063 418.5 1067.2 421.5 1073.5 423.8 1082.5 425.2 1197.5 425.3Z" fill="#6d02e9" fill-rule="evenodd"/><path d="M1205 423.5 1212.7 421.5 1217.7 418.5 1219.4 415.5 1217.6 411.5 1210.5 407.8 1199.5 405.9 1085.5 405.8 1077.5 406.7 1071.1 408.5 1066.2 411.5 1064.6 414.5 1065.4 417.5 1069.1 420.5 1075.5 422.8 1083.5 424Z" fill="#6301ce" fill-rule="evenodd"/><path d="M1202.5 422.5 1209.5 420.9 1214.2 418.5 1216.2 415.5 1215.2 412.5 1208.5 408.7 1198.5 407.2 1086.5 407.1 1073.5 409.4 1069.7 411.5 1067.8 414.5 1068.7 417.5 1072.5 420.1 1084.5 422.8Z" fill="#5700ab" fill-rule="evenodd"/><path d="M1205.4 420.5 1211.7 417.5 1212.9 415.5 1212.5 413.5 1207.5 410.1 1198.5 408.5 1085.5 408.5 1075.4 410.5 1072.2 412.5 1071.1 414.5 1072.3 417.5 1075.5 419.5 1085.5 421.4 1197.5 421.5Z" fill="#4a0080" fill-rule="evenodd"/><path d="M1202.2 419.5 1207.6 417.5 1209.2 414.5 1205.7 411.5 1198.5 410 1085.5 410 1078.2 411.5 1074.8 414.5 1075.3 416.5 1077.5 418.1 1085.5 419.9Z" fill="#39004f" fill-rule="evenodd"/><path d="M1201.3 417.5 1203.6 416.5 1204.5 414.5 1201.5 412.5 1197.5 411.9 1086.5 411.9 1082.5 412.5 1079.5 414.5 1080.5 416.5 1086.5 418Z" fill="#21001b" fill-rule="evenodd"/></g></g></g>
<rect x="1112.2" y="45.2" width="227.2" height="122.4" fill="#fff" stroke="#fff" stroke-width="1.3"/>
<circle cx="1139.7" cy="58.1" r="1.4" fill="#fbfbfb" stroke="#9a9a9a" stroke-width="0.7"/>
<circle cx="1195.6" cy="60.4" r="1.4" fill="#fbfbfb" stroke="#9a9a9a" stroke-width="0.7"/><circle cx="1195.5" cy="60.1" r="1.4" fill="#fbfbfb" stroke="#9a9a9a" stroke-width="0.7"/><circle cx="1195.6" cy="58.4" r="1.4" fill="#fbfbfb" stroke="#9a9a9a" stroke-width="0.7"/>
<circle cx="1224.3" cy="59" r="1.4" fill="#fbfbfb" stroke="#9a9a9a" stroke-width="0.7"/><circle cx="1226.8" cy="62.6" r="1.4" fill="#fbfbfb" stroke="#9a9a9a" stroke-width="0.7"/><circle cx="1226.6" cy="59.9" r="1.4" fill="#fbfbfb" stroke="#9a9a9a" stroke-width="0.7"/>
<circle cx="1281.5" cy="58.6" r="1.4" fill="#fbfbfb" stroke="#9a9a9a" stroke-width="0.7"/>
<circle cx="1311.6" cy="61.3" r="1.4" fill="#fbfbfb" stroke="#9a9a9a" stroke-width="0.7"/><circle cx="1309.3" cy="60.8" r="1.4" fill="#fbfbfb" stroke="#9a9a9a" stroke-width="0.7"/>
<circle cx="1140.4" cy="89.4" r="1.4" fill="#fbfbfb" stroke="#9a9a9a" stroke-width="0.7"/>
<circle cx="1168.6" cy="91.8" r="1.4" fill="#fbfbfb" stroke="#9a9a9a" stroke-width="0.7"/>
<circle cx="1225.5" cy="90.3" r="1.4" fill="#fbfbfb" stroke="#9a9a9a" stroke-width="0.7"/><circle cx="1224.6" cy="93" r="1.4" fill="#fbfbfb" stroke="#9a9a9a" stroke-width="0.7"/>
<circle cx="1254.3" cy="93.5" r="1.4" fill="#fbfbfb" stroke="#9a9a9a" stroke-width="0.7"/><circle cx="1255.3" cy="90.5" r="1.4" fill="#fbfbfb" stroke="#9a9a9a" stroke-width="0.7"/>
<circle cx="1309.6" cy="90.8" r="1.4" fill="#fbfbfb" stroke="#9a9a9a" stroke-width="0.7"/><circle cx="1313.4" cy="91.2" r="1.4" fill="#fbfbfb" stroke="#9a9a9a" stroke-width="0.7"/>
<circle cx="1169" cy="123.1" r="1.4" fill="#fbfbfb" stroke="#9a9a9a" stroke-width="0.7"/><circle cx="1167.7" cy="122.2" r="1.4" fill="#fbfbfb" stroke="#9a9a9a" stroke-width="0.7"/><circle cx="1169.1" cy="121.6" r="1.4" fill="#fbfbfb" stroke="#9a9a9a" stroke-width="0.7"/>
<circle cx="1200" cy="121.1" r="1.4" fill="#fbfbfb" stroke="#9a9a9a" stroke-width="0.7"/>
<circle cx="1253.2" cy="121.6" r="1.4" fill="#fbfbfb" stroke="#9a9a9a" stroke-width="0.7"/><circle cx="1255.1" cy="120.9" r="1.4" fill="#fbfbfb" stroke="#9a9a9a" stroke-width="0.7"/><circle cx="1255.3" cy="123.1" r="1.4" fill="#fbfbfb" stroke="#9a9a9a" stroke-width="0.7"/>
<circle cx="1281.9" cy="121.8" r="1.4" fill="#fbfbfb" stroke="#9a9a9a" stroke-width="0.7"/><circle cx="1282.6" cy="119.8" r="1.4" fill="#fbfbfb" stroke="#9a9a9a" stroke-width="0.7"/>
<circle cx="1310" cy="120.7" r="1.4" fill="#fbfbfb" stroke="#9a9a9a" stroke-width="0.7"/><circle cx="1313.1" cy="119.1" r="1.4" fill="#fbfbfb" stroke="#9a9a9a" stroke-width="0.7"/><circle cx="1311" cy="121.4" r="1.4" fill="#fbfbfb" stroke="#9a9a9a" stroke-width="0.7"/>
<circle cx="1228.6" cy="154.1" r="1.4" fill="#fbfbfb" stroke="#9a9a9a" stroke-width="0.7"/><circle cx="1225.6" cy="151.9" r="1.4" fill="#fbfbfb" stroke="#9a9a9a" stroke-width="0.7"/>
<circle cx="1252.9" cy="151.9" r="1.4" fill="#fbfbfb" stroke="#9a9a9a" stroke-width="0.7"/>
<circle cx="1281" cy="152.1" r="1.4" fill="#fbfbfb" stroke="#9a9a9a" stroke-width="0.7"/><circle cx="1280.8" cy="153.4" r="1.4" fill="#fbfbfb" stroke="#9a9a9a" stroke-width="0.7"/><circle cx="1283.1" cy="152.3" r="1.4" fill="#fbfbfb" stroke="#9a9a9a" stroke-width="0.7"/>
<circle cx="1313.5" cy="154" r="1.4" fill="#fbfbfb" stroke="#9a9a9a" stroke-width="0.7"/><circle cx="1312.4" cy="153" r="1.4" fill="#fbfbfb" stroke="#9a9a9a" stroke-width="0.7"/><circle cx="1313.1" cy="155.5" r="1.4" fill="#fbfbfb" stroke="#9a9a9a" stroke-width="0.7"/>
<circle cx="1139.4" cy="75.4" r="1.4" fill="#fbfbfb" stroke="#9a9a9a" stroke-width="0.7"/><circle cx="1139.9" cy="75.4" r="1.4" fill="#fbfbfb" stroke="#9a9a9a" stroke-width="0.7"/><circle cx="1138.1" cy="78.9" r="1.4" fill="#fbfbfb" stroke="#9a9a9a" stroke-width="0.7"/>
<circle cx="1194" cy="75" r="1.4" fill="#fbfbfb" stroke="#9a9a9a" stroke-width="0.7"/><circle cx="1193.3" cy="73" r="1.4" fill="#fbfbfb" stroke="#9a9a9a" stroke-width="0.7"/><circle cx="1193.9" cy="73.6" r="1.4" fill="#fbfbfb" stroke="#9a9a9a" stroke-width="0.7"/>
<circle cx="1254.7" cy="73.4" r="1.4" fill="#fbfbfb" stroke="#9a9a9a" stroke-width="0.7"/><circle cx="1252.2" cy="75.3" r="1.4" fill="#fbfbfb" stroke="#9a9a9a" stroke-width="0.7"/><circle cx="1254.8" cy="78.7" r="1.4" fill="#fbfbfb" stroke="#9a9a9a" stroke-width="0.7"/>
<circle cx="1309.8" cy="73.7" r="1.4" fill="#fbfbfb" stroke="#9a9a9a" stroke-width="0.7"/><circle cx="1309.9" cy="78.9" r="1.4" fill="#fbfbfb" stroke="#9a9a9a" stroke-width="0.7"/><circle cx="1309.9" cy="74.9" r="1.4" fill="#fbfbfb" stroke="#9a9a9a" stroke-width="0.7"/>
<circle cx="1137.6" cy="105.5" r="1.4" fill="#fbfbfb" stroke="#9a9a9a" stroke-width="0.7"/><circle cx="1138.6" cy="108.4" r="1.4" fill="#fbfbfb" stroke="#9a9a9a" stroke-width="0.7"/>
<circle cx="1196.1" cy="104.6" r="1.4" fill="#fbfbfb" stroke="#9a9a9a" stroke-width="0.7"/><circle cx="1198.7" cy="105.6" r="1.4" fill="#fbfbfb" stroke="#9a9a9a" stroke-width="0.7"/>
<circle cx="1255.5" cy="105.2" r="1.4" fill="#fbfbfb" stroke="#9a9a9a" stroke-width="0.7"/><circle cx="1254.9" cy="103.9" r="1.4" fill="#fbfbfb" stroke="#9a9a9a" stroke-width="0.7"/>
<circle cx="1310.1" cy="108.8" r="1.4" fill="#fbfbfb" stroke="#9a9a9a" stroke-width="0.7"/><circle cx="1309.1" cy="104.7" r="1.4" fill="#fbfbfb" stroke="#9a9a9a" stroke-width="0.7"/><circle cx="1310.2" cy="106.4" r="1.4" fill="#fbfbfb" stroke="#9a9a9a" stroke-width="0.7"/>
<circle cx="1140.7" cy="138.9" r="1.4" fill="#fbfbfb" stroke="#9a9a9a" stroke-width="0.7"/><circle cx="1141.5" cy="135.4" r="1.4" fill="#fbfbfb" stroke="#9a9a9a" stroke-width="0.7"/>
<circle cx="1197.9" cy="138.6" r="1.4" fill="#fbfbfb" stroke="#9a9a9a" stroke-width="0.7"/><circle cx="1194.4" cy="137.3" r="1.4" fill="#fbfbfb" stroke="#9a9a9a" stroke-width="0.7"/>
<circle cx="1255.4" cy="140.1" r="1.4" fill="#fbfbfb" stroke="#9a9a9a" stroke-width="0.7"/><circle cx="1255.7" cy="137" r="1.4" fill="#fbfbfb" stroke="#9a9a9a" stroke-width="0.7"/><circle cx="1252.2" cy="137.8" r="1.4" fill="#fbfbfb" stroke="#9a9a9a" stroke-width="0.7"/>
<circle cx="1309.7" cy="139.8" r="1.4" fill="#fbfbfb" stroke="#9a9a9a" stroke-width="0.7"/><circle cx="1312.9" cy="139.9" r="1.4" fill="#fbfbfb" stroke="#9a9a9a" stroke-width="0.7"/><circle cx="1309.2" cy="135.5" r="1.4" fill="#fbfbfb" stroke="#9a9a9a" stroke-width="0.7"/>
<circle cx="1125.9" cy="58.5" r="5" fill="url(#rg)"/>
<circle cx="1127.3" cy="62.3" r="5" fill="url(#rg)"/>
<circle cx="1155.2" cy="61.8" r="5" fill="url(#rg)"/>
<circle cx="1152.4" cy="59" r="5" fill="url(#rg)"/>
<circle cx="1184.1" cy="60.4" r="5" fill="url(#rg)"/>
<circle cx="1212.8" cy="59.6" r="5" fill="url(#rg)"/>
<circle cx="1241" cy="61" r="5" fill="url(#rg)"/>
<circle cx="1268.2" cy="59.8" r="5" fill="url(#rg)"/>
<circle cx="1296.7" cy="61" r="5" fill="url(#rg)"/>
<circle cx="1325.3" cy="60.2" r="5" fill="url(#rg)"/>
<circle cx="1127" cy="90.9" r="5" fill="url(#rg)"/>
<circle cx="1152.6" cy="90" r="5" fill="url(#rg)"/>
<circle cx="1155" cy="93.2" r="5" fill="url(#rg)"/>
<circle cx="1184" cy="90.9" r="5" fill="url(#rg)"/>
<circle cx="1213.2" cy="91.9" r="5" fill="url(#rg)"/>
<circle cx="1242.1" cy="92.2" r="5" fill="url(#rg)"/>
<circle cx="1238.3" cy="91" r="5" fill="url(#rg)"/>
<circle cx="1266.2" cy="91.4" r="5" fill="url(#rg)"/>
<circle cx="1270.2" cy="91.8" r="5" fill="url(#rg)"/>
<circle cx="1297.3" cy="91.7" r="5" fill="url(#rg)"/>
<circle cx="1325.4" cy="92.3" r="5" fill="url(#rg)"/>
<circle cx="1126" cy="120.7" r="5" fill="url(#rg)"/>
<circle cx="1153.7" cy="119.2" r="5" fill="url(#rg)"/>
<circle cx="1153.9" cy="123.2" r="5" fill="url(#rg)"/>
<circle cx="1182.9" cy="121" r="5" fill="url(#rg)"/>
<circle cx="1210.5" cy="122.3" r="5" fill="url(#rg)"/>
<circle cx="1213.9" cy="120.1" r="5" fill="url(#rg)"/>
<circle cx="1242.1" cy="120.7" r="5" fill="url(#rg)"/>
<circle cx="1238.3" cy="121.7" r="5" fill="url(#rg)"/>
<circle cx="1269" cy="121" r="5" fill="url(#rg)"/>
<circle cx="1297" cy="121.3" r="5" fill="url(#rg)"/>
<circle cx="1323.5" cy="121" r="5" fill="url(#rg)"/>
<circle cx="1327.5" cy="121.4" r="5" fill="url(#rg)"/>
<circle cx="1125.8" cy="151.4" r="5" fill="url(#rg)"/>
<circle cx="1127.4" cy="155" r="5" fill="url(#rg)"/>
<circle cx="1153.2" cy="155.1" r="5" fill="url(#rg)"/>
<circle cx="1154.4" cy="151.3" r="5" fill="url(#rg)"/>
<circle cx="1185.4" cy="152.9" r="5" fill="url(#rg)"/>
<circle cx="1181.4" cy="153.5" r="5" fill="url(#rg)"/>
<circle cx="1212.3" cy="152.9" r="5" fill="url(#rg)"/>
<circle cx="1242.1" cy="153.9" r="5" fill="url(#rg)"/>
<circle cx="1238.3" cy="152.5" r="5" fill="url(#rg)"/>
<circle cx="1267.4" cy="153.3" r="5" fill="url(#rg)"/>
<circle cx="1297.3" cy="151.2" r="5" fill="url(#rg)"/>
<circle cx="1296.7" cy="155.2" r="5" fill="url(#rg)"/>
<circle cx="1325.5" cy="153.3" r="5" fill="url(#rg)"/>
<rect x="1112.2" y="45.2" width="227.2" height="122.4" fill="none" stroke="#555" stroke-width="2.2"/>
<rect x="1005.5" y="181.6" width="175.3" height="142.5" fill="#fff" stroke="#fff" stroke-width="1.3"/>
<circle cx="1073.3" cy="199.8" r="1.4" fill="#fbfbfb" stroke="#9a9a9a" stroke-width="0.7"/><circle cx="1069.4" cy="198.2" r="1.4" fill="#fbfbfb" stroke="#9a9a9a" stroke-width="0.7"/><circle cx="1071" cy="200.8" r="1.4" fill="#fbfbfb" stroke="#9a9a9a" stroke-width="0.7"/>
<circle cx="1094" cy="201.2" r="1.4" fill="#fbfbfb" stroke="#9a9a9a" stroke-width="0.7"/>
<circle cx="1139.5" cy="197.8" r="1.4" fill="#fbfbfb" stroke="#9a9a9a" stroke-width="0.7"/><circle cx="1137.2" cy="198.9" r="1.4" fill="#fbfbfb" stroke="#9a9a9a" stroke-width="0.7"/><circle cx="1137" cy="198.4" r="1.4" fill="#fbfbfb" stroke="#9a9a9a" stroke-width="0.7"/>
<circle cx="1027.6" cy="236.6" r="1.4" fill="#fbfbfb" stroke="#9a9a9a" stroke-width="0.7"/>
<circle cx="1071.7" cy="234.5" r="1.4" fill="#fbfbfb" stroke="#9a9a9a" stroke-width="0.7"/><circle cx="1069.7" cy="233.4" r="1.4" fill="#fbfbfb" stroke="#9a9a9a" stroke-width="0.7"/><circle cx="1070.8" cy="236.4" r="1.4" fill="#fbfbfb" stroke="#9a9a9a" stroke-width="0.7"/>
<circle cx="1091.4" cy="236" r="1.4" fill="#fbfbfb" stroke="#9a9a9a" stroke-width="0.7"/><circle cx="1091.7" cy="236.2" r="1.4" fill="#fbfbfb" stroke="#9a9a9a" stroke-width="0.7"/>
<circle cx="1136" cy="234.3" r="1.4" fill="#fbfbfb" stroke="#9a9a9a" stroke-width="0.7"/><circle cx="1138.6" cy="232.8" r="1.4" fill="#fbfbfb" stroke="#9a9a9a" stroke-width="0.7"/>
<circle cx="1026.2" cy="270.5" r="1.4" fill="#fbfbfb" stroke="#9a9a9a" stroke-width="0.7"/>
<circle cx="1047.3" cy="272.5" r="1.4" fill="#fbfbfb" stroke="#9a9a9a" stroke-width="0.7"/>
<circle cx="1068.9" cy="269.3" r="1.4" fill="#fbfbfb" stroke="#9a9a9a" stroke-width="0.7"/>
<circle cx="1118" cy="272.1" r="1.4" fill="#fbfbfb" stroke="#9a9a9a" stroke-width="0.7"/>
<circle cx="1028.9" cy="307.2" r="1.4" fill="#fbfbfb" stroke="#9a9a9a" stroke-width="0.7"/><circle cx="1027.8" cy="304.7" r="1.4" fill="#fbfbfb" stroke="#9a9a9a" stroke-width="0.7"/><circle cx="1024.6" cy="307.7" r="1.4" fill="#fbfbfb" stroke="#9a9a9a" stroke-width="0.7"/>
<circle cx="1048" cy="304.4" r="1.4" fill="#fbfbfb" stroke="#9a9a9a" stroke-width="0.7"/>
<circle cx="1068.9" cy="308.6" r="1.4" fill="#fbfbfb" stroke="#9a9a9a" stroke-width="0.7"/><circle cx="1068.8" cy="308.6" r="1.4" fill="#fbfbfb" stroke="#9a9a9a" stroke-width="0.7"/>
<circle cx="1095.5" cy="306.4" r="1.4" fill="#fbfbfb" stroke="#9a9a9a" stroke-width="0.7"/><circle cx="1095.1" cy="307.4" r="1.4" fill="#fbfbfb" stroke="#9a9a9a" stroke-width="0.7"/>
<circle cx="1115.1" cy="304.8" r="1.4" fill="#fbfbfb" stroke="#9a9a9a" stroke-width="0.7"/><circle cx="1114.7" cy="304.6" r="1.4" fill="#fbfbfb" stroke="#9a9a9a" stroke-width="0.7"/><circle cx="1114.9" cy="305.9" r="1.4" fill="#fbfbfb" stroke="#9a9a9a" stroke-width="0.7"/>
<circle cx="1136.4" cy="306.8" r="1.4" fill="#fbfbfb" stroke="#9a9a9a" stroke-width="0.7"/>
<circle cx="1160.2" cy="309.3" r="1.4" fill="#fbfbfb" stroke="#9a9a9a" stroke-width="0.7"/><circle cx="1156.3" cy="304.4" r="1.4" fill="#fbfbfb" stroke="#9a9a9a" stroke-width="0.7"/>
<circle cx="1027.4" cy="215.1" r="1.4" fill="#fbfbfb" stroke="#9a9a9a" stroke-width="0.7"/><circle cx="1026.8" cy="220.3" r="1.4" fill="#fbfbfb" stroke="#9a9a9a" stroke-width="0.7"/><circle cx="1024.2" cy="219.5" r="1.4" fill="#fbfbfb" stroke="#9a9a9a" stroke-width="0.7"/><circle cx="1026.5" cy="217.2" r="1.4" fill="#fbfbfb" stroke="#9a9a9a" stroke-width="0.7"/>
<circle cx="1074.3" cy="215.9" r="1.4" fill="#fbfbfb" stroke="#9a9a9a" stroke-width="0.7"/><circle cx="1069" cy="215.4" r="1.4" fill="#fbfbfb" stroke="#9a9a9a" stroke-width="0.7"/><circle cx="1068.9" cy="219.9" r="1.4" fill="#fbfbfb" stroke="#9a9a9a" stroke-width="0.7"/>
<circle cx="1117" cy="216.6" r="1.4" fill="#fbfbfb" stroke="#9a9a9a" stroke-width="0.7"/><circle cx="1114.9" cy="214.1" r="1.4" fill="#fbfbfb" stroke="#9a9a9a" stroke-width="0.7"/><circle cx="1113.4" cy="214.2" r="1.4" fill="#fbfbfb" stroke="#9a9a9a" stroke-width="0.7"/><circle cx="1117.7" cy="215.5" r="1.4" fill="#fbfbfb" stroke="#9a9a9a" stroke-width="0.7"/>
<circle cx="1155.9" cy="218.4" r="1.4" fill="#fbfbfb" stroke="#9a9a9a" stroke-width="0.7"/><circle cx="1158.2" cy="217.3" r="1.4" fill="#fbfbfb" stroke="#9a9a9a" stroke-width="0.7"/>
<circle cx="1027.7" cy="254.1" r="1.4" fill="#fbfbfb" stroke="#9a9a9a" stroke-width="0.7"/><circle cx="1023.8" cy="250.6" r="1.4" fill="#fbfbfb" stroke="#9a9a9a" stroke-width="0.7"/><circle cx="1025.4" cy="249.3" r="1.4" fill="#fbfbfb" stroke="#9a9a9a" stroke-width="0.7"/>
<circle cx="1074.2" cy="256.1" r="1.4" fill="#fbfbfb" stroke="#9a9a9a" stroke-width="0.7"/><circle cx="1071.3" cy="251" r="1.4" fill="#fbfbfb" stroke="#9a9a9a" stroke-width="0.7"/><circle cx="1074.3" cy="251.5" r="1.4" fill="#fbfbfb" stroke="#9a9a9a" stroke-width="0.7"/>
<circle cx="1113.8" cy="251.6" r="1.4" fill="#fbfbfb" stroke="#9a9a9a" stroke-width="0.7"/><circle cx="1113.1" cy="251.3" r="1.4" fill="#fbfbfb" stroke="#9a9a9a" stroke-width="0.7"/><circle cx="1117.1" cy="251" r="1.4" fill="#fbfbfb" stroke="#9a9a9a" stroke-width="0.7"/>
<circle cx="1156.1" cy="255" r="1.4" fill="#fbfbfb" stroke="#9a9a9a" stroke-width="0.7"/><circle cx="1156.5" cy="253.4" r="1.4" fill="#fbfbfb" stroke="#9a9a9a" stroke-width="0.7"/>
<circle cx="1023.7" cy="287.2" r="1.4" fill="#fbfbfb" stroke="#9a9a9a" stroke-width="0.7"/><circle cx="1025.1" cy="289.2" r="1.4" fill="#fbfbfb" stroke="#9a9a9a" stroke-width="0.7"/><circle cx="1027.2" cy="290.4" r="1.4" fill="#fbfbfb" stroke="#9a9a9a" stroke-width="0.7"/>
<circle cx="1073.7" cy="290.6" r="1.4" fill="#fbfbfb" stroke="#9a9a9a" stroke-width="0.7"/><circle cx="1071.7" cy="290.5" r="1.4" fill="#fbfbfb" stroke="#9a9a9a" stroke-width="0.7"/><circle cx="1072.5" cy="288.6" r="1.4" fill="#fbfbfb" stroke="#9a9a9a" stroke-width="0.7"/><circle cx="1069.5" cy="289.4" r="1.4" fill="#fbfbfb" stroke="#9a9a9a" stroke-width="0.7"/>
<circle cx="1112.8" cy="290.9" r="1.4" fill="#fbfbfb" stroke="#9a9a9a" stroke-width="0.7"/><circle cx="1118.7" cy="289.5" r="1.4" fill="#fbfbfb" stroke="#9a9a9a" stroke-width="0.7"/>
<circle cx="1160.4" cy="288.6" r="1.4" fill="#fbfbfb" stroke="#9a9a9a" stroke-width="0.7"/><circle cx="1161.9" cy="290.4" r="1.4" fill="#fbfbfb" stroke="#9a9a9a" stroke-width="0.7"/><circle cx="1159.5" cy="290.8" r="1.4" fill="#fbfbfb" stroke="#9a9a9a" stroke-width="0.7"/><circle cx="1155.6" cy="289.9" r="1.4" fill="#fbfbfb" stroke="#9a9a9a" stroke-width="0.7"/>
<circle cx="1016.3" cy="200.2" r="4.9" fill="url(#rg)"/>
<circle cx="1036.9" cy="198.4" r="4.9" fill="url(#rg)"/>
<circle cx="1061.6" cy="199.1" r="4.9" fill="url(#rg)"/>
<circle cx="1078.8" cy="198.5" r="4.9" fill="url(#rg)"/>
<circle cx="1083.6" cy="200.1" r="4.9" fill="url(#rg)"/>
<circle cx="1107.4" cy="199.8" r="4.9" fill="url(#rg)"/>
<circle cx="1102.4" cy="198.8" r="4.9" fill="url(#rg)"/>
<circle cx="1128.1" cy="196.8" r="4.9" fill="url(#rg)"/>
<circle cx="1127.7" cy="201.8" r="4.9" fill="url(#rg)"/>
<circle cx="1144.8" cy="198.2" r="4.9" fill="url(#rg)"/>
<circle cx="1149.4" cy="200.4" r="4.9" fill="url(#rg)"/>
<circle cx="1171" cy="198.5" r="4.9" fill="url(#rg)"/>
<circle cx="1016" cy="237.7" r="4.9" fill="url(#rg)"/>
<circle cx="1015.8" cy="232.7" r="4.9" fill="url(#rg)"/>
<circle cx="1036.8" cy="237.5" r="4.9" fill="url(#rg)"/>
<circle cx="1038.6" cy="232.9" r="4.9" fill="url(#rg)"/>
<circle cx="1060.2" cy="235.7" r="4.9" fill="url(#rg)"/>
<circle cx="1082.7" cy="237.2" r="4.9" fill="url(#rg)"/>
<circle cx="1079.7" cy="233.2" r="4.9" fill="url(#rg)"/>
<circle cx="1103.5" cy="237.3" r="4.9" fill="url(#rg)"/>
<circle cx="1106.3" cy="233.1" r="4.9" fill="url(#rg)"/>
<circle cx="1125.8" cy="236.5" r="4.9" fill="url(#rg)"/>
<circle cx="1130" cy="233.9" r="4.9" fill="url(#rg)"/>
<circle cx="1144.7" cy="234.5" r="4.9" fill="url(#rg)"/>
<circle cx="1149.5" cy="235.9" r="4.9" fill="url(#rg)"/>
<circle cx="1169.6" cy="235.4" r="4.9" fill="url(#rg)"/>
<circle cx="1017.3" cy="272.4" r="4.9" fill="url(#rg)"/>
<circle cx="1014.5" cy="268.4" r="4.9" fill="url(#rg)"/>
<circle cx="1037.9" cy="269.7" r="4.9" fill="url(#rg)"/>
<circle cx="1063.2" cy="270.2" r="4.9" fill="url(#rg)"/>
<circle cx="1058.2" cy="270.6" r="4.9" fill="url(#rg)"/>
<circle cx="1080.4" cy="269.8" r="4.9" fill="url(#rg)"/>
<circle cx="1105.5" cy="272.8" r="4.9" fill="url(#rg)"/>
<circle cx="1104.3" cy="268" r="4.9" fill="url(#rg)"/>
<circle cx="1130.3" cy="269.9" r="4.9" fill="url(#rg)"/>
<circle cx="1125.5" cy="270.9" r="4.9" fill="url(#rg)"/>
<circle cx="1148.1" cy="270.5" r="4.9" fill="url(#rg)"/>
<circle cx="1168.1" cy="269.1" r="4.9" fill="url(#rg)"/>
<circle cx="1172.3" cy="271.7" r="4.9" fill="url(#rg)"/>
<circle cx="1016.5" cy="304.4" r="4.9" fill="url(#rg)"/>
<circle cx="1015.3" cy="309.2" r="4.9" fill="url(#rg)"/>
<circle cx="1040.2" cy="306.9" r="4.9" fill="url(#rg)"/>
<circle cx="1035.2" cy="306.7" r="4.9" fill="url(#rg)"/>
<circle cx="1061.7" cy="306.6" r="4.9" fill="url(#rg)"/>
<circle cx="1082.1" cy="305.9" r="4.9" fill="url(#rg)"/>
<circle cx="1104.9" cy="309.3" r="4.9" fill="url(#rg)"/>
<circle cx="1104.9" cy="304.3" r="4.9" fill="url(#rg)"/>
<circle cx="1129.5" cy="304.9" r="4.9" fill="url(#rg)"/>
<circle cx="1126.3" cy="308.7" r="4.9" fill="url(#rg)"/>
<circle cx="1147.4" cy="306.4" r="4.9" fill="url(#rg)"/>
<circle cx="1171.9" cy="304.9" r="4.9" fill="url(#rg)"/>
<circle cx="1168.5" cy="308.7" r="4.9" fill="url(#rg)"/>
<rect x="1005.5" y="181.6" width="175.3" height="142.5" fill="none" stroke="#333" stroke-width="1.8"/>
<line x1="1005.5" y1="324.1" x2="1180.8" y2="324.1" stroke="#999" stroke-width="2.6"/>
<line x1="1082.3" y1="324.3" x2="1074.6" y2="408.3" stroke="#000" stroke-width="4"/>
<line x1="1251.7" y1="168.1" x2="1226.9" y2="416" stroke="#000" stroke-width="4"/>
<path d="M1074.6 400.5L1082.4 408.3L1074.6 416.1L1066.8 408.3Z" fill="#000"/>
<path d="M1226.9 408.2L1234.7 416L1226.9 423.8L1219.1 416Z" fill="#000"/>
<path d="M1125.3 405.5L1139.1 418L1125.3 430.5L1111.5 418Z" fill="#008000"/>
<rect x="994.2" y="1" width="351.1" height="427" fill="none" stroke="#000" stroke-width="2"/>
<line x1="984.2" y1="428" x2="994.2" y2="428" stroke="#000" stroke-width="2"/>
<text x="972.2" y="438.2" font-size="28.4" text-anchor="end">0.0</text>
<line x1="984.2" y1="348.9" x2="994.2" y2="348.9" stroke="#000" stroke-width="2"/>
<text x="972.2" y="359.1" font-size="28.4" text-anchor="end">0.5</text>
<line x1="984.2" y1="269.9" x2="994.2" y2="269.9" stroke="#000" stroke-width="2"/>
<text x="972.2" y="280.1" font-size="28.4" text-anchor="end">1.0</text>
<line x1="984.2" y1="190.8" x2="994.2" y2="190.8" stroke="#000" stroke-width="2"/>
<text x="972.2" y="201" font-size="28.4" text-anchor="end">1.5</text>
<line x1="984.2" y1="111.7" x2="994.2" y2="111.7" stroke="#000" stroke-width="2"/>
<text x="972.2" y="121.9" font-size="28.4" text-anchor="end">2.0</text>
<line x1="984.2" y1="32.6" x2="994.2" y2="32.6" stroke="#000" stroke-width="2"/>
<text x="972.2" y="42.9" font-size="28.4" text-anchor="end">2.5</text>
<line x1="1055" y1="428" x2="1055" y2="438" stroke="#000" stroke-width="2"/>
<text x="1055" y="467.4" font-size="28.4" text-anchor="middle">2.5</text>
<line x1="1157" y1="428" x2="1157" y2="438" stroke="#000" stroke-width="2"/>
<text x="1157" y="467.4" font-size="28.4" text-anchor="middle">5.0</text>
<line x1="1259" y1="428" x2="1259" y2="438" stroke="#000" stroke-width="2"/>
<text x="1259" y="467.4" font-size="28.4" text-anchor="middle">7.5</text>
<text x="1166.4" y="490.4" font-size="28.4" text-anchor="middle">CV<tspan font-size="18.7" dy="3.5">1</tspan></text>
<text transform="translate(929 217.5) rotate(-90)" font-size="28.4" text-anchor="middle">CV<tspan font-size="18.7" dy="3.5">2</tspan></text>
<text x="1164" y="33.5" font-size="34.3" text-anchor="middle"><tspan font-style="italic">P</tspan>=200 GPa</text>
<text x="873" y="46.4" font-size="42" font-weight="bold">b</text>
<rect x="1366.5" y="1" width="21.7" height="427" fill="url(#cmapg)"/>
<rect x="1366.5" y="1" width="21.7" height="427" fill="none" stroke="#000" stroke-width="2"/>
<line x1="1388.2" y1="67.4" x2="1397.2" y2="67.4" stroke="#000" stroke-width="2"/>
<text x="1406.2" y="77.6" font-size="28.4">0.08</text>
<line x1="1388.2" y1="236" x2="1397.2" y2="236" stroke="#000" stroke-width="2"/>
<text x="1406.2" y="246.2" font-size="28.4">0.04</text>
<line x1="1388.2" y1="403.2" x2="1397.2" y2="403.2" stroke="#000" stroke-width="2"/>
<text x="1406.2" y="413.4" font-size="28.4">0.00</text>
<text transform="translate(1497.8 215.5) rotate(-90)" font-size="34.8" text-anchor="middle">FES / eV f.u.<tspan font-size="24" dy="-15">−1</tspan></text>
<g clip-path="url(#clipc)"><g clip-path="url(#clipcm)"><g filter="url(#blc)"><rect x="1003" y="696" width="351" height="252" fill="#fdf200"/><path d="M1348.9 942.5 1348.5 923.2 1326.5 921.1 1325.5 920.1 1321.5 920.1 1320.5 919.1 1316.5 919.1 1315.5 918.1 1310.5 918.1 1309.5 917.1 1305.5 917.1 1304.5 916.1 1300.5 916.1 1299.5 915.1 1291.5 915.1 1290.5 914.1 1281.5 914.1 1280.5 913.1 1263.5 912.1 1245.5 903.1 1234.8 887.5 1233.8 884.5 1223.7 873.5 1218.7 866.5 1211.7 859.5 1211.7 858.5 1195.5 842.3 1194.5 842.3 1185.5 833.3 1184.5 833.3 1156.5 805.4 1143.5 796.4 1137.6 790.5 1131.6 780.5 1123.6 771.5 1123.6 770.5 1114.5 761.5 1106.5 755.5 1098.5 738.5 1093.5 732.1 1082.5 714.4 1076.8 707.5 1074.5 706.2 1065.5 710.4 1053 728.5 1049.5 736.5 1047.5 744.5 1041.5 755.5 1039.5 757.5 1038.5 761.5 1029.4 779.5 1029.4 781.5 1027.4 784.5 1027.4 787.5 1026.4 788.5 1025.4 795.5 1024.4 796.5 1024.4 815.5 1025.4 816.5 1025.3 870.5 1024.3 871.5 1024.2 874.5 1023.2 875.5 1023.2 878.5 1022.2 879.5 1022.2 882.5 1021.2 883.5 1021.2 886.5 1019.2 891.5 1019.1 894.5 1011.1 905.5 1011.5 943Z" fill="#f9db00" fill-rule="evenodd"/><path d="M1348.8 942.5 1348.5 923.2 1326.5 921.2 1325.5 920.2 1321.5 920.2 1320.5 919.2 1316.5 919.2 1315.5 918.2 1310.5 918.1 1309.5 917.1 1305.5 917.1 1304.5 916.1 1300.5 916.1 1299.5 915.1 1291.5 915.1 1290.5 914.1 1281.5 914.1 1280.5 913.1 1263.5 912.1 1245.5 903.2 1239.8 895.5 1233.7 884.5 1223.7 873.5 1218.7 866.5 1211.6 859.5 1211.6 858.5 1195.5 842.4 1194.5 842.4 1185.5 833.4 1184.5 833.4 1156.5 805.4 1143.5 796.5 1137.5 790.5 1131.5 780.5 1123.4 770.5 1105.9 756.5 1096.3 739.5 1080.1 715.5 1075.1 709.5 1074.5 708.9 1067.5 712.5 1057.4 725.5 1048.9 745.5 1033.6 770.5 1033.5 772.5 1027.5 784.5 1025.5 795.5 1024.5 796.5 1024.4 815.5 1025.4 816.5 1025.3 870.5 1024.3 871.5 1024.3 874.5 1023.3 875.5 1023.3 878.5 1022.3 879.5 1022.2 882.5 1021.2 883.5 1021.2 886.5 1019.2 891.5 1019.2 894.5 1011.1 905.5 1011.5 942.9Z" fill="#f4c400" fill-rule="evenodd"/><path d="M1348.8 942.5 1348.5 923.2 1326.5 921.2 1325.5 920.2 1321.5 920.2 1320.5 919.2 1316.5 919.2 1315.5 918.2 1310.5 918.2 1309.5 917.2 1305.5 917.2 1304.5 916.2 1300.5 916.2 1299.5 915.2 1291.5 915.2 1290.5 914.2 1281.5 914.2 1280.5 913.2 1263.5 912.1 1245.5 903.2 1239.7 895.5 1233.7 884.5 1223.6 873.5 1218.6 866.5 1211.6 859.5 1211.6 858.5 1195.5 842.4 1194.5 842.4 1185.5 833.5 1184.5 833.5 1156.5 805.6 1142.5 796.7 1136.9 791.5 1129.5 781.1 1121 771.5 1113.5 764.7 1104.5 758.5 1094.2 741.5 1077.1 717.5 1073.5 713.8 1069.7 715.5 1060.5 726.7 1051.3 746.5 1042.5 759.5 1031.2 780.5 1025 797.5 1024.5 815.5 1025.5 816.5 1025.4 870.5 1024.4 871.5 1024.3 874.5 1023.3 875.5 1023.3 878.5 1022.3 879.5 1022.3 882.5 1021.3 883.5 1021.3 886.5 1019.2 891.5 1019.2 894.5 1011.2 905.5 1011.5 942.9Z" fill="#f0b000" fill-rule="evenodd"/><path d="M1348.7 942.5 1348.5 923.3 1326.5 921.2 1325.5 920.2 1321.5 920.2 1320.5 919.2 1316.5 919.2 1315.5 918.2 1310.5 918.2 1309.5 917.2 1305.5 917.2 1304.5 916.2 1300.5 916.2 1299.5 915.2 1291.5 915.2 1290.5 914.2 1281.5 914.2 1280.5 913.2 1263.5 912.2 1245.5 903.3 1239.7 895.5 1233.6 884.5 1223.6 873.5 1218.6 866.5 1211.5 859.5 1211.5 858.5 1195.5 842.5 1194.5 842.5 1182.5 832.5 1155.5 807.9 1141.2 798.5 1135.5 793.5 1127.3 782.5 1118.5 773.1 1102.1 760.5 1090.8 743.5 1073.5 722 1072.5 721.3 1063.5 730.5 1054.5 748.3 1045.1 761.5 1033.8 781.5 1027.3 798.5 1025.5 838.1 1025.4 870.5 1024.4 871.5 1024.4 874.5 1023.4 875.5 1023.4 878.5 1022.4 879.5 1022.3 882.5 1021.3 883.5 1021.3 886.5 1019.3 891.5 1019.3 894.5 1011.2 905.5 1011.5 942.9Z" fill="#eb9d00" fill-rule="evenodd"/><path d="M1348.7 942.5 1348.5 923.3 1326.5 921.3 1325.5 920.3 1321.5 920.3 1320.5 919.3 1316.5 919.3 1315.5 918.3 1310.5 918.3 1309.5 917.3 1305.5 917.3 1304.5 916.3 1300.5 916.2 1299.5 915.3 1291.5 915.2 1290.5 914.2 1281.5 914.2 1280.5 913.2 1263.5 912.2 1245.5 903.3 1239.6 895.5 1233.6 884.5 1216.5 864.5 1194.7 844.5 1182.5 835.4 1154.5 810.6 1139.5 800.9 1133.1 795.5 1124.2 784.5 1115.3 775.5 1097.5 762.6 1085.5 747.1 1072.5 734.6 1069.5 737.1 1060.2 750.5 1049.5 763.5 1034.9 787.5 1030.4 799.5 1025.5 870.5 1024.5 871.5 1024.4 874.5 1023.4 875.5 1023.4 878.5 1022.4 879.5 1022.4 882.5 1021.4 883.5 1021.4 886.5 1019.3 891.5 1019.3 894.5 1011.3 905.5 1011.5 942.9Z" fill="#e68b00" fill-rule="evenodd"/><path d="M1348.7 942.5 1348.5 923.4 1326.5 921.3 1325.5 920.3 1321.5 920.3 1320.5 919.3 1316.5 919.3 1315.5 918.3 1310.5 918.3 1309.5 917.3 1305.5 917.3 1304.5 916.3 1300.5 916.3 1299.5 915.3 1291.5 915.3 1290.5 914.3 1281.5 914.3 1280.5 913.3 1263.5 912.3 1245.5 903.3 1239.6 895.5 1233.5 884.5 1228.4 878.5 1195.5 848.5 1180.5 837.4 1152.5 813.8 1136.5 804 1129.5 798.5 1119.5 787.9 1109.5 779.3 1092.1 769.5 1075.5 758.2 1073.5 758 1069.5 760.1 1057.7 768.5 1043.6 784.5 1038.8 792.5 1035.2 800.5 1033.5 810.1 1033.5 816.5 1026.1 869.5 1023.5 875.5 1023.5 878.5 1022.5 879.5 1022.4 882.5 1020.4 887.5 1019.3 894.5 1011.3 905.5 1011.5 942.8Z" fill="#e27b00" fill-rule="evenodd"/><path d="M1348.6 942.5 1348.5 923.4 1326.5 921.4 1325.5 920.4 1321.5 920.4 1320.5 919.4 1316.5 919.3 1315.5 918.3 1310.5 918.3 1309.5 917.3 1305.5 917.3 1304.5 916.3 1300.5 916.3 1299.5 915.3 1291.5 915.3 1290.5 914.3 1281.5 914.3 1280.5 913.3 1263.5 912.3 1245.5 903.4 1239.6 895.5 1236.5 889.5 1232.5 885 1205.5 861 1191.5 849.7 1150.5 819.7 1130.5 808.9 1109.5 795.7 1095.5 790.6 1082.5 788.6 1074.5 788 1060.5 791.2 1052.5 795.4 1045.3 802.5 1041.5 810.5 1030.8 861.5 1028 870.5 1022.5 879.5 1019.4 894.5 1011.3 905.5 1011.5 942.8Z" fill="#dd6c00" fill-rule="evenodd"/><path d="M1348.6 942.5 1348.5 923.5 1326.5 921.4 1325.5 920.4 1321.5 920.4 1320.5 919.4 1316.5 919.4 1315.5 918.4 1310.5 918.4 1309.5 917.4 1305.5 917.4 1304.5 916.4 1300.5 916.4 1299.5 915.4 1291.5 915.3 1290.5 914.4 1281.5 914.3 1280.5 913.3 1263.5 912.3 1245.5 903.4 1239.5 894.5 1230.5 885.9 1202.2 863.5 1177.5 847 1155.5 834.6 1141.5 828.4 1125.5 824.4 1111.5 822.3 1085.5 820.9 1070.5 821.7 1059.5 824 1051.5 828.7 1047.5 833.1 1043.5 839.5 1030.7 870.5 1021.5 884.3 1019.4 894.5 1011.4 905.5 1011.5 942.8Z" fill="#d85e00" fill-rule="evenodd"/><path d="M1348.5 942.5 1348.5 923.5 1326.5 921.4 1325.5 920.4 1321.5 920.4 1320.5 919.4 1316.5 919.4 1315.5 918.4 1310.5 918.4 1309.5 917.4 1305.5 917.4 1304.5 916.4 1300.5 916.4 1299.5 915.4 1291.5 915.4 1290.5 914.4 1281.5 914.4 1280.5 913.4 1263.5 912.4 1245.5 903.5 1240.5 897.6 1228.5 887.5 1207.4 873.5 1191.5 864.5 1170.5 856 1157.5 852.7 1141.5 850.2 1115.5 848.5 1087.5 848.6 1064.5 850.7 1053.5 853.9 1044.5 859.3 1037.5 866.3 1023.4 884.5 1019.5 891.5 1019.5 894.5 1011.4 905.5 1011.5 942.7Z" fill="#d35100" fill-rule="evenodd"/><path d="M1348 942.5 1348.5 932.5 1347.5 925 1333.5 922.5 1332.5 921.5 1326.5 921.5 1325.5 920.5 1316.5 919.5 1315.5 918.5 1310.5 918.4 1309.5 917.5 1305.5 917.4 1304.5 916.4 1300.5 916.4 1299.5 915.4 1291.5 915.4 1290.5 914.4 1281.5 914.4 1280.5 913.4 1263.5 912.4 1245.5 903.5 1225.5 889.1 1190.5 871.8 1165.5 863.9 1137.5 859.3 1113.5 857.7 1088.5 858 1066.5 860.2 1051.5 863.8 1041.5 869.1 1030.8 878.5 1022.5 888.8 1019.5 894.5 1011.4 905.5 1011.5 942.7Z" fill="#ce4600" fill-rule="evenodd"/><path d="M1337 942.5 1346 940.5 1346.3 931.5 1345.5 927 1315.5 918.6 1310.5 918.5 1309.5 917.5 1305.5 917.5 1304.5 916.5 1300.5 916.5 1299.5 915.5 1291.5 915.5 1290.5 914.5 1281.5 914.4 1280.5 913.4 1263.5 912.4 1252.5 906.5 1242.5 903.3 1222.5 891.5 1208.5 887.1 1197.5 881.1 1185.5 876 1161.5 869 1136.5 864.8 1113.5 863.2 1091.5 863.4 1069.5 865.4 1052.5 869.1 1043.5 872.9 1033.7 879.5 1024.1 889.5 1020.2 895.5 1015.8 899.5 1011.5 905.5 1011.5 942.7Z" fill="#c83c00" fill-rule="evenodd"/><path d="M1325.4 942.5 1343.5 938.6 1343.6 929.5 1314.5 920.1 1298.5 916 1291.5 915.5 1290.3 914.5 1281.5 914.5 1280.5 913.5 1271.5 913.5 1270.5 912.5 1263.5 912.5 1258.5 909.5 1243.5 905.5 1225.5 896.7 1208.5 892.4 1193.5 884.3 1178.5 878.5 1157.5 872.7 1133.5 868.8 1111.5 867.3 1089.5 867.7 1068.5 869.9 1051.5 873.8 1041.5 878 1033.1 883.5 1017 900.5 1011.5 907.7 1011.5 942.6Z" fill="#c33300" fill-rule="evenodd"/><path d="M1315.6 942.5 1340.5 935.5 1340.5 932.5 1338.5 930.8 1329.5 927.2 1302.5 918.5 1279.5 914.2 1263.5 912.5 1242.5 906.7 1225.5 900 1208.5 897.1 1189.5 887.1 1167.5 879.1 1148.5 874.7 1128.5 871.9 1106.5 870.7 1084.5 871.6 1064.5 874.3 1048.5 878.6 1037.5 883.8 1028.8 890.5 1013.7 906.5 1011.5 913.3 1011.5 942.6Z" fill="#bd2a00" fill-rule="evenodd"/><path d="M1307 942.5 1322 938.5 1333.1 933.5 1322.5 927.4 1302.5 920.2 1288.5 916.9 1262.5 913.4 1223.5 902.8 1206.5 900.9 1189.5 891.2 1169.5 883.4 1147.5 877.9 1123.5 874.6 1102.5 873.9 1081.5 875.1 1062.5 878 1046.5 882.7 1038.5 886.5 1031.5 891.3 1017.8 904.5 1015.1 907.5 1011.5 919.6 1011.5 942.6Z" fill="#b72300" fill-rule="evenodd"/><path d="M1299.4 942.5 1316.1 937.5 1321.9 934.5 1323.6 932.5 1312.5 925.8 1296.5 920.2 1278.5 916.6 1262.5 914.6 1227.5 906.4 1204.5 904.3 1186.5 893.7 1165.5 885.5 1141.5 879.9 1116.5 877.1 1095.5 877 1074.5 879 1055.5 882.9 1041.5 888.1 1030.5 895.3 1016.8 908.5 1013.5 918 1011.5 928 1011.5 942.5Z" fill="#b11d1b" fill-rule="evenodd"/><path d="M1292.4 942.5 1308.4 937.5 1315 933.5 1315.7 931.5 1311.5 928.5 1301.5 923.9 1287.5 919.8 1262.5 915.8 1228.5 908.9 1201.5 907.2 1191.5 900.2 1180.5 894.6 1167.5 889.5 1153.5 885.4 1129.5 881.1 1105.5 879.7 1083.5 880.8 1063.5 884 1046.5 889.1 1034.5 895.4 1023.5 904.5 1018.5 910 1013.7 924.5 1011.7 942.5Z" fill="#ab174f" fill-rule="evenodd"/><path d="M1285.9 942.5 1301.6 937.5 1306.6 934.5 1309.1 931.5 1305.5 928.7 1296.5 924.2 1277.5 919.2 1228.5 911 1197.5 909.6 1188.1 902.5 1179 897.5 1165.5 892.1 1150.5 887.7 1128.5 883.8 1105.5 882.5 1084.5 883.5 1065.5 886.5 1048.5 891.4 1036.5 897.4 1025.5 905.9 1020 912.5 1015.4 925.5 1013.4 942.5Z" fill="#a5127f" fill-rule="evenodd"/><path d="M1279.7 942.5 1290.6 939.5 1297.4 936.5 1301.1 933.5 1302.1 930.5 1295.5 926.3 1286.5 923 1250.5 915.7 1224.5 912.6 1194.5 912 1177.4 900.5 1157.5 892.7 1132.5 887.2 1106.5 885.3 1086.5 886.1 1067.5 889 1051.5 893.5 1038.5 899.5 1027.8 907.5 1022.5 913.5 1017.5 926 1015.3 940.5 1019.5 942.5Z" fill="#9e0eab" fill-rule="evenodd"/><path d="M1273.8 942.5 1289.8 937.5 1294.3 934.5 1296.3 930.5 1287.5 925.5 1277.5 922.3 1249.5 916.9 1222.5 914.3 1189.5 913.8 1173.5 902.6 1156.5 895.7 1133.5 890.4 1108.5 888.2 1090.5 888.7 1072.5 891.1 1056.5 895 1043.1 900.5 1031.3 908.5 1025.5 914.5 1020.5 924.9 1017.9 937.5 1019.8 939.5 1027.1 942.5Z" fill="#970bce" fill-rule="evenodd"/><path d="M1267.9 942.5 1284.6 937.5 1289 934.5 1290.6 930.5 1286.5 927.4 1276.5 923.7 1246.5 917.8 1220.5 915.9 1185.5 915.9 1170.5 905.5 1155.5 898.9 1133.5 893.5 1110.5 891.3 1093.5 891.5 1076.5 893.5 1061.5 896.8 1048.8 901.5 1037 908.5 1030 914.5 1024.5 923.3 1021.1 934.5 1022.5 936.5 1026.5 939.1 1037 942.5Z" fill="#8f08e9" fill-rule="evenodd"/><path d="M1261.8 942.5 1273.5 939.9 1281.5 936.5 1284.8 933.5 1284.9 929.5 1273 924.5 1244.5 918.9 1221.5 917.5 1179 917.5 1166.9 908.5 1151.5 901.5 1133.5 896.9 1113.5 894.7 1097.5 894.6 1082.5 896 1066.5 899 1056 902.5 1045.5 907.7 1035.7 914.5 1029.5 922.2 1025.9 930.5 1028.5 934.8 1034.5 938.5 1042.5 940.9 1053.2 942.5Z" fill="#8806f9" fill-rule="evenodd"/><path d="M1255.2 942.5 1266.1 940.5 1275 937.5 1279.3 934.5 1280.4 932.5 1280.3 930.5 1276.3 927.5 1266.5 924.3 1243.5 920.1 1225.5 919.1 1172.5 918.9 1160.3 910.5 1147.5 904.8 1132 900.5 1115.5 898.4 1100.5 898.1 1086.5 899.2 1074.5 901.3 1063.3 904.5 1051.6 909.5 1042.3 915.5 1036.4 921.5 1034.1 927.5 1035.7 932.5 1041.5 936.5 1049.5 938.8 1064.5 941.1 1101.5 941.8 1134.5 941.1 1144.8 942.5Z" fill="#8004ff" fill-rule="evenodd"/><path d="M1247.1 942.5 1260.9 940.5 1270.5 937.5 1274.9 934.5 1275.9 932.5 1275.6 930.5 1273.5 928.5 1265.5 925.5 1241.5 921.2 1162 920.5 1152.8 913.5 1139.5 907.8 1124.5 904.3 1107.5 902.7 1085.5 904.3 1065.7 909.5 1057.2 913.5 1051.2 917.5 1046.5 922.5 1045.1 926.5 1047.9 933.5 1050.5 935.8 1057.6 938.5 1069.5 940.3 1111.5 940.5 1129.5 937.7 1139.5 940.6 1152.9 942.5Z" fill="#7703f9" fill-rule="evenodd"/><path d="M1248.4 941.5 1259.5 939.6 1266.5 937.3 1270.7 934.5 1271.6 932.5 1271.1 930.5 1267.5 928 1259.5 925.5 1238.5 922.1 1165.5 921.9 1146.5 922.8 1140.5 917.6 1132.5 914 1121.5 911.2 1109.5 909.8 1091.5 910.7 1075.5 914.7 1066.8 919.5 1064 922.5 1063.5 925.5 1054.6 929.5 1052.8 932.5 1055.4 935.5 1059.5 937.2 1073.5 939.3 1113.5 939.1 1123.5 937.5 1129.5 934.9 1133.9 937.5 1140 939.5 1158.5 942.1 1234.5 942.3Z" fill="#6d02e9" fill-rule="evenodd"/><path d="M1248.9 940.5 1258.5 938.6 1263.9 936.5 1266.5 934.5 1267.2 931.5 1264.2 928.5 1259.5 926.9 1240.5 923.5 1165.5 923.2 1153.5 923.9 1142.5 925.9 1135.5 928.7 1133.3 930.5 1132.6 932.5 1134.6 935.5 1139.5 937.9 1157.5 941.1 1234.5 941.4ZM1115.3 937.5 1123.5 935.1 1125.3 933.5 1125.3 931.5 1120.5 928.6 1112.5 927.1 1076.5 926.9 1063.9 928.5 1059.6 930.5 1058.4 932.5 1061.5 935.6 1071.5 937.8Z" fill="#6301ce" fill-rule="evenodd"/><path d="M1238.6 940.5 1248.9 939.5 1257.2 937.5 1262.5 934.5 1263 931.5 1261 929.5 1256.5 927.5 1241.5 924.8 1165.5 924.5 1154.5 925.1 1145.5 926.8 1139 929.5 1136.7 932.5 1138.6 935.5 1142.8 937.5 1158.5 940.3ZM1114.9 935.5 1118.8 933.5 1118.4 931.5 1109.5 929.1 1074.5 929.1 1067.5 930.4 1064.9 932.5 1067.5 934.9 1074.5 936.3 1107.5 936.4Z" fill="#5700ab" fill-rule="evenodd"/><path d="M1240.2 939.5 1254.5 936.8 1258.4 934.5 1259.2 932.5 1256.3 929.5 1250.6 927.5 1233.5 925.8 1159.5 926 1146 928.5 1142.2 930.5 1140.8 932.5 1141.6 934.5 1145.5 936.8 1159.8 939.5Z" fill="#4a0080" fill-rule="evenodd"/><path d="M1240.1 938.5 1250.6 936.5 1254.3 934.5 1255 932.5 1253.2 930.5 1247.8 928.5 1233.5 927 1161.5 927.2 1150.5 929 1146.8 930.5 1145 932.5 1145.7 934.5 1149.4 936.5 1161.5 938.6Z" fill="#39004f" fill-rule="evenodd"/><path d="M1238.6 937.5 1248.1 935.5 1249.8 934.5 1250.5 932.5 1244.7 929.5 1233.5 928.4 1163.5 928.5 1154.5 929.7 1149.5 932.5 1150.2 934.5 1151.9 935.5 1162.5 937.6Z" fill="#21001b" fill-rule="evenodd"/></g></g></g>
<path d="M1118.7 918.7L1132.7 931.5L1118.7 944.3L1104.7 931.5Z" fill="#008000"/>
<rect x="994.2" y="512.8" width="351.1" height="426.7" fill="none" stroke="#000" stroke-width="2"/>
<line x1="984.2" y1="939.5" x2="994.2" y2="939.5" stroke="#000" stroke-width="2"/>
<text x="972.2" y="949.7" font-size="28.4" text-anchor="end">0.0</text>
<line x1="984.2" y1="860.5" x2="994.2" y2="860.5" stroke="#000" stroke-width="2"/>
<text x="972.2" y="870.7" font-size="28.4" text-anchor="end">0.5</text>
<line x1="984.2" y1="781.5" x2="994.2" y2="781.5" stroke="#000" stroke-width="2"/>
<text x="972.2" y="791.7" font-size="28.4" text-anchor="end">1.0</text>
<line x1="984.2" y1="702.4" x2="994.2" y2="702.4" stroke="#000" stroke-width="2"/>
<text x="972.2" y="712.7" font-size="28.4" text-anchor="end">1.5</text>
<line x1="984.2" y1="623.4" x2="994.2" y2="623.4" stroke="#000" stroke-width="2"/>
<text x="972.2" y="633.6" font-size="28.4" text-anchor="end">2.0</text>
<line x1="984.2" y1="544.4" x2="994.2" y2="544.4" stroke="#000" stroke-width="2"/>
<text x="972.2" y="554.6" font-size="28.4" text-anchor="end">2.5</text>
<line x1="1055" y1="939.5" x2="1055" y2="949.5" stroke="#000" stroke-width="2"/>
<text x="1055" y="978.9" font-size="28.4" text-anchor="middle">2.5</text>
<line x1="1157" y1="939.5" x2="1157" y2="949.5" stroke="#000" stroke-width="2"/>
<text x="1157" y="978.9" font-size="28.4" text-anchor="middle">5.0</text>
<line x1="1259" y1="939.5" x2="1259" y2="949.5" stroke="#000" stroke-width="2"/>
<text x="1259" y="978.9" font-size="28.4" text-anchor="middle">7.5</text>
<text x="1166.4" y="1001.9" font-size="28.4" text-anchor="middle">CV<tspan font-size="18.7" dy="3.5">1</tspan></text>
<text transform="translate(929 729.1) rotate(-90)" font-size="28.4" text-anchor="middle">CV<tspan font-size="18.7" dy="3.5">2</tspan></text>
<text x="1164" y="545.3" font-size="34.3" text-anchor="middle"><tspan font-style="italic">P</tspan>=300 GPa</text>
<text x="873" y="550.3" font-size="42" font-weight="bold">c</text>
<rect x="1366.5" y="512.8" width="21.7" height="426.7" fill="url(#cmapg)"/>
<rect x="1366.5" y="512.8" width="21.7" height="426.7" fill="none" stroke="#000" stroke-width="2"/>
<line x1="1388.2" y1="614.3" x2="1397.2" y2="614.3" stroke="#000" stroke-width="2"/>
<text x="1406.2" y="624.5" font-size="28.4">0.16</text>
<line x1="1388.2" y1="770" x2="1397.2" y2="770" stroke="#000" stroke-width="2"/>
<text x="1406.2" y="780.2" font-size="28.4">0.08</text>
<line x1="1388.2" y1="925.4" x2="1397.2" y2="925.4" stroke="#000" stroke-width="2"/>
<text x="1406.2" y="935.6" font-size="28.4">0.00</text>
<text transform="translate(1497.8 727.1) rotate(-90)" font-size="34.8" text-anchor="middle">FES / eV f.u.<tspan font-size="24" dy="-15">−1</tspan></text>
<path d="M1130 1345 1175 1350 1188.7 1375 1198 1410 1205 1433 1206 1448 1150 1452 1146.7 1458 1135 1458 1130 1400Z" fill="#f5c800" fill-opacity="0.45"/><g clip-path="url(#clipe1)"><g clip-path="url(#clipe1m)"><g filter="url(#ble1)"><rect x="997" y="1028" width="258" height="422" fill="#fdf100"/><path d="M1244.4 1440.5 1238 1431.5 1227.2 1396.5 1218.5 1375.5 1218.5 1367.5 1217.5 1366.5 1217.6 1352.5 1216.6 1351.5 1216.7 1339.5 1215.7 1338.5 1215.7 1331.5 1214.7 1330.5 1214.8 1324.5 1213.8 1323.5 1213.8 1316.5 1212.8 1315.5 1211.8 1304.5 1208.8 1301.5 1201.9 1290.5 1181.5 1270.2 1176.5 1268.2 1173.5 1268.1 1166.5 1265.1 1163.5 1265.1 1159.5 1263.1 1156.5 1263.1 1155.5 1262.1 1141.5 1260.1 1140.5 1259.1 1136.5 1259.1 1122.9 1253.5 1110.8 1233.5 1100.8 1201.5 1098.8 1198.5 1098.8 1196.5 1086.8 1171.5 1084.8 1169.5 1081.8 1162.5 1077.8 1156.5 1076.8 1148.5 1074.8 1143.5 1074.8 1139.5 1073.8 1138.5 1073.8 1134.5 1067.8 1121.5 1067.8 1119.5 1064.8 1114.5 1057.8 1091.5 1056.8 1090.5 1056.8 1087.5 1053.8 1080.5 1053.8 1077.5 1051.8 1074.5 1050.8 1069.5 1048.8 1066.5 1047.8 1061.5 1045.8 1058.5 1045.8 1056.5 1043.8 1053.5 1043.8 1051.5 1041.8 1047.5 1034.5 1041.2 1028.5 1038.2 1024.5 1038.2 1023.5 1037.2 1015.5 1037.1 1014.5 1038.1 1010.5 1038.1 1009.1 1041.5 1009.1 1045.5 1008.1 1046.5 1007.1 1064.5 1006.1 1065.5 1006.1 1074.5 1005.2 1075.5 1005.2 1083.5 1006.2 1084.5 1006.2 1090.5 1007.2 1091.5 1008.2 1105.5 1010.2 1109.5 1012.2 1120.5 1015.2 1128.5 1017.2 1142.5 1018.2 1143.5 1018.2 1147.5 1019.2 1148.5 1019.2 1152.5 1020.2 1153.5 1020.2 1157.5 1021.2 1158.5 1021.2 1162.5 1022.2 1163.5 1022.2 1167.5 1023.2 1168.5 1023.2 1172.5 1024.2 1173.5 1024.2 1177.5 1026.2 1181.5 1026.2 1183.5 1028.2 1186.5 1028.2 1188.5 1030.2 1191.5 1030.2 1193.5 1032.2 1196.5 1034.2 1210.5 1035.2 1211.5 1035.2 1215.5 1036.2 1216.5 1036.2 1220.5 1037.2 1221.5 1037.2 1224.5 1039.2 1229.5 1041.2 1240.5 1044.2 1246.5 1046.2 1248.5 1047.2 1251.5 1056.5 1265.8 1077.5 1279.9 1094.5 1287.9 1117.1 1303.5 1117.1 1305.5 1119.1 1308.5 1119.1 1310.5 1121.2 1313.5 1121.2 1315.5 1123.2 1318.5 1123.2 1320.5 1125.2 1323.5 1126.3 1328.5 1127.3 1329.5 1127.3 1332.5 1128.3 1333.5 1130.5 1344.6 1144.5 1345.6 1145.5 1346.6 1153.5 1346.6 1154.5 1347.6 1161.5 1347.6 1162.5 1348.6 1170.5 1348.6 1171.5 1349.6 1174.5 1349.6 1176.4 1351.5 1189.5 1375.5 1191.5 1385.5 1193.5 1389.5 1193.6 1392.5 1194.6 1393.5 1199.9 1412.5 1205 1438.5 1206.5 1441Z" fill="#f8d500" fill-rule="evenodd"/><path d="M1240 1438.5 1236.1 1432.5 1225.1 1397.5 1217.5 1376.5 1217.5 1352.5 1216.5 1351.5 1216.6 1339.5 1215.6 1338.5 1215.7 1331.5 1214.7 1330.5 1214.7 1324.5 1213.7 1323.5 1213.8 1316.5 1212.8 1315.5 1211.8 1304.5 1208.8 1301.5 1201.8 1290.5 1181.5 1270.2 1176.5 1268.2 1173.5 1268.2 1166.5 1265.2 1163.5 1265.2 1159.5 1263.2 1156.5 1263.2 1155.5 1262.2 1141.5 1260.1 1140.5 1259.1 1136.5 1259.1 1122.8 1253.5 1110.8 1233.5 1100.7 1201.5 1098.7 1198.5 1098.7 1196.5 1086.8 1171.5 1084.8 1169.5 1081.8 1162.5 1077.8 1156.5 1076.8 1148.5 1074.8 1143.5 1074.8 1139.5 1073.8 1138.5 1073.8 1134.5 1067.8 1121.5 1067.8 1119.5 1064.7 1114.5 1057.7 1091.5 1056.7 1090.5 1056.7 1087.5 1053.7 1080.5 1053.7 1077.5 1051.7 1074.5 1050.7 1069.5 1048.7 1066.5 1047.8 1061.5 1045.8 1058.5 1045.8 1056.5 1043.8 1053.5 1043.8 1051.5 1041.8 1047.5 1034.5 1041.2 1028.5 1038.2 1024.5 1038.2 1023.5 1037.2 1015.5 1037.2 1014.5 1038.1 1010.5 1038.1 1009.1 1041.5 1009.1 1045.5 1008.1 1046.5 1007.1 1064.5 1006.2 1065.5 1006.2 1074.5 1005.2 1075.5 1005.2 1083.5 1006.2 1084.5 1006.2 1090.5 1007.2 1091.5 1008.2 1105.5 1010.2 1109.5 1012.2 1120.5 1015.2 1128.5 1017.2 1142.5 1018.2 1143.5 1018.2 1147.5 1019.2 1148.5 1019.2 1152.5 1020.2 1153.5 1020.2 1157.5 1021.2 1158.5 1021.2 1162.5 1022.2 1163.5 1022.2 1167.5 1023.2 1168.5 1023.2 1172.5 1024.2 1173.5 1024.2 1177.5 1026.2 1181.5 1026.2 1183.5 1028.2 1186.5 1028.2 1188.5 1030.2 1191.5 1030.2 1193.5 1032.2 1196.5 1034.2 1210.5 1035.2 1211.5 1035.2 1215.5 1036.2 1216.5 1036.2 1220.5 1037.2 1221.5 1037.2 1224.5 1039.2 1229.5 1041.2 1240.5 1044.2 1246.5 1046.2 1248.5 1047.2 1251.5 1056.5 1265.8 1077.5 1279.8 1094.5 1287.9 1117.1 1303.5 1117.1 1305.5 1119.2 1308.5 1119.2 1310.5 1121.2 1313.5 1121.2 1315.5 1123.3 1318.5 1123.3 1320.5 1125.3 1323.5 1126.3 1328.5 1127.3 1329.5 1130.5 1344.6 1144.5 1345.6 1145.5 1346.6 1153.5 1346.6 1154.5 1347.6 1161.5 1347.6 1162.5 1348.6 1170.5 1348.6 1171.5 1349.5 1174.5 1349.5 1176.5 1351.5 1177.5 1354.5 1185.7 1366.5 1191.6 1377.5 1201.7 1411.5 1207.5 1438.6Z" fill="#f2bc00" fill-rule="evenodd"/><path d="M1232.9 1434.5 1214.8 1376.5 1215.4 1369.5 1214.8 1366.5 1216.5 1353.5 1215.8 1351.5 1216.6 1339.5 1215.6 1338.5 1215.6 1331.5 1214.6 1330.5 1214.7 1324.5 1213.7 1323.5 1213.7 1316.5 1212.7 1315.5 1211.7 1304.5 1208.8 1301.5 1201.8 1290.5 1181.5 1270.3 1176.5 1268.3 1173.5 1268.2 1166.5 1265.2 1163.5 1265.2 1159.5 1263.2 1156.5 1263.2 1155.5 1262.2 1141.5 1260.2 1140.5 1259.2 1136.5 1259.2 1122.8 1253.5 1110.7 1233.5 1100.7 1201.5 1098.7 1198.5 1098.7 1196.5 1086.7 1171.5 1084.7 1169.5 1081.7 1162.5 1077.7 1156.5 1076.7 1148.5 1074.7 1143.5 1074.7 1139.5 1073.7 1138.5 1073.7 1134.5 1067.7 1121.5 1067.7 1119.5 1064.7 1114.5 1057.7 1091.5 1056.7 1090.5 1056.7 1087.5 1053.7 1080.5 1053.7 1077.5 1051.7 1074.5 1050.7 1069.5 1048.7 1066.5 1047.7 1061.5 1045.7 1058.5 1045.7 1056.5 1043.7 1053.5 1043.7 1051.5 1041.7 1047.5 1034.5 1041.3 1028.5 1038.3 1024.5 1038.3 1023.5 1037.3 1015.5 1037.2 1014.5 1038.2 1010.5 1038.2 1009.2 1041.5 1009.2 1045.5 1008.2 1046.5 1007.2 1064.5 1006.2 1065.5 1006.2 1074.5 1005.3 1075.5 1005.3 1083.5 1006.3 1084.5 1006.3 1090.5 1007.3 1091.5 1008.3 1105.5 1010.3 1109.5 1012.3 1120.5 1015.3 1128.5 1017.3 1142.5 1018.3 1143.5 1018.3 1147.5 1019.3 1148.5 1019.3 1152.5 1020.3 1153.5 1020.3 1157.5 1021.3 1158.5 1021.3 1162.5 1022.3 1163.5 1022.3 1167.5 1023.3 1168.5 1023.3 1172.5 1024.3 1173.5 1024.3 1177.5 1026.3 1181.5 1026.3 1183.5 1028.3 1186.5 1028.3 1188.5 1030.3 1191.5 1030.3 1193.5 1032.3 1196.5 1034.3 1210.5 1035.3 1211.5 1035.3 1215.5 1036.3 1216.5 1036.3 1220.5 1037.3 1221.5 1037.3 1224.5 1039.3 1229.5 1041.3 1240.5 1044.3 1246.5 1046.3 1248.5 1047.3 1251.5 1056.5 1265.7 1077.5 1279.8 1094.5 1287.8 1117.2 1303.5 1117.2 1305.5 1119.2 1308.5 1119.2 1310.5 1121.3 1313.5 1121.3 1315.5 1123.3 1318.5 1123.3 1320.5 1125.4 1323.5 1126.4 1328.5 1127.4 1329.5 1130.5 1344.5 1136.5 1344.5 1137.5 1345.5 1144.5 1345.5 1145.5 1346.4 1153.5 1346.5 1163.5 1348.2 1170.5 1348.3 1176.7 1350.5 1187.5 1365.6 1194.3 1377.5 1203.9 1406.5 1210.6 1434.5 1211.5 1435.3 1231.5 1435.3ZM1038.5 1104.8 1033.5 1104.5 1031.5 1101.8 1030.6 1094.5 1031.5 1091.9 1033.2 1090.5 1035.5 1090.9 1037.2 1092.5 1040.4 1098.5 1040.6 1102.5Z" fill="#eda500" fill-rule="evenodd"/><path d="M1208.6 1390.5 1209 1377.5 1216.1 1340.5 1211.7 1304.5 1208.7 1301.5 1201.7 1290.5 1181.5 1270.3 1176.5 1268.3 1173.5 1268.3 1166.5 1265.3 1163.5 1265.3 1159.5 1263.3 1156.5 1263.3 1155.5 1262.3 1141.5 1260.2 1140.5 1259.2 1136.5 1259.2 1122.7 1253.5 1110.7 1233.5 1100.6 1201.5 1098.6 1198.5 1098.6 1196.5 1086.7 1171.5 1084.7 1169.5 1081.7 1162.5 1077.7 1156.5 1076.7 1148.5 1074.7 1143.5 1074.7 1139.5 1073.7 1138.5 1073.7 1134.5 1067.7 1121.5 1067.7 1119.5 1064.6 1114.5 1057.6 1091.5 1056.6 1090.5 1056.6 1087.5 1053.6 1080.5 1053.6 1077.5 1051.6 1074.5 1050.6 1069.5 1048.6 1066.5 1047.7 1061.5 1045.7 1058.5 1045.7 1056.5 1043.7 1053.5 1043.7 1051.5 1041.7 1047.5 1034.5 1041.3 1028.5 1038.3 1024.5 1038.3 1023.5 1037.3 1015.5 1037.2 1014.5 1038.2 1010.5 1038.2 1009.2 1041.5 1009.2 1045.5 1008.2 1046.5 1007.2 1064.5 1006.2 1065.5 1006.3 1074.5 1005.3 1075.5 1005.3 1083.5 1006.3 1084.5 1006.3 1090.5 1007.3 1091.5 1008.3 1105.5 1010.3 1109.5 1012.3 1120.5 1015.3 1128.5 1017.3 1142.5 1018.3 1143.5 1018.3 1147.5 1019.3 1148.5 1019.3 1152.5 1020.3 1153.5 1020.3 1157.5 1021.3 1158.5 1021.3 1162.5 1022.3 1163.5 1022.3 1167.5 1023.3 1168.5 1023.3 1172.5 1024.3 1173.5 1024.3 1177.5 1026.3 1181.5 1026.3 1183.5 1028.3 1186.5 1028.3 1188.5 1030.3 1191.5 1030.3 1193.5 1032.3 1196.5 1034.3 1210.5 1035.3 1211.5 1035.3 1215.5 1036.3 1216.5 1036.3 1220.5 1037.3 1221.5 1037.3 1224.5 1039.3 1229.5 1041.3 1240.5 1044.3 1246.5 1046.3 1248.5 1047.3 1251.5 1056.5 1265.7 1077.5 1279.7 1094.5 1287.8 1117.2 1303.5 1119.3 1310.5 1125.4 1323.5 1126.5 1328.5 1127.5 1329.5 1127.5 1332.5 1131.8 1342.5 1138.5 1343.9 1170.5 1346.7 1176.5 1348.1 1196.5 1371.5ZM1038.5 1107.5 1031.5 1105.8 1030 1104.5 1028.9 1101.5 1028 1096.5 1028.3 1091.5 1030.1 1087.5 1032.5 1085.9 1035.5 1086.6 1038.5 1089.4 1043 1098.5 1042.9 1104.5 1041.3 1106.5Z" fill="#e89000" fill-rule="evenodd"/><path d="M1202.9 1360.5 1207.4 1356.5 1211.5 1347.4 1213.7 1341.5 1215.5 1331.9 1214.5 1330.5 1214.6 1324.5 1213.6 1323.5 1213.6 1316.5 1212.6 1315.5 1211.6 1304.5 1208.7 1301.5 1201.7 1290.5 1181.5 1270.4 1176.5 1268.3 1173.5 1268.3 1166.5 1265.3 1163.5 1265.3 1159.5 1263.3 1156.5 1263.3 1155.5 1262.3 1141.5 1260.3 1140.5 1259.3 1136.5 1259.3 1122.7 1253.5 1110.6 1233.5 1100.6 1201.5 1098.6 1198.5 1098.6 1196.5 1086.6 1171.5 1084.6 1169.5 1081.6 1162.5 1077.6 1156.5 1076.6 1148.5 1074.6 1143.5 1074.6 1139.5 1073.6 1138.5 1073.6 1134.5 1067.6 1121.5 1067.6 1119.5 1064.6 1114.5 1057.6 1091.5 1056.6 1090.5 1056.6 1087.5 1053.6 1080.5 1053.6 1077.5 1051.6 1074.5 1050.6 1069.5 1048.6 1066.5 1047.6 1061.5 1045.6 1058.5 1045.6 1056.5 1043.6 1053.5 1043.6 1051.5 1041.6 1047.5 1034.5 1041.4 1028.5 1038.4 1024.5 1038.4 1023.5 1037.3 1015.5 1037.3 1014.5 1038.3 1010.5 1038.3 1009.2 1041.5 1009.2 1045.5 1008.2 1046.5 1007.3 1064.5 1006.3 1065.5 1006.3 1074.5 1005.3 1075.5 1005.4 1083.5 1006.4 1084.5 1006.4 1090.5 1007.4 1091.5 1008.4 1105.5 1010.4 1109.5 1012.4 1120.5 1015.4 1128.5 1017.4 1142.5 1018.4 1143.5 1018.4 1147.5 1019.4 1148.5 1019.4 1152.5 1020.4 1153.5 1020.4 1157.5 1021.4 1158.5 1021.4 1162.5 1022.4 1163.5 1022.4 1167.5 1023.4 1168.5 1023.4 1172.5 1024.4 1173.5 1024.4 1177.5 1026.4 1181.5 1026.4 1183.5 1028.4 1186.5 1028.4 1188.5 1030.4 1191.5 1030.4 1193.5 1032.4 1196.5 1034.4 1210.5 1035.4 1211.5 1035.4 1215.5 1036.4 1216.5 1036.4 1220.5 1037.4 1221.5 1037.4 1224.5 1039.4 1229.5 1041.4 1240.5 1044.4 1246.5 1046.4 1248.5 1047.4 1251.5 1056.5 1265.6 1077.5 1279.7 1094.5 1287.8 1117.2 1303.5 1119.3 1310.5 1125.5 1323.5 1125.5 1325.5 1133.6 1340.5 1139.5 1341.9 1176.5 1345.6 1180.1 1347.5 1193.5 1358.2 1200.5 1361.3ZM1042.5 1108.8 1039.5 1109.5 1034.5 1108.9 1028.1 1105.5 1026.2 1098.5 1026 1091.5 1028 1085.5 1031.5 1082.4 1034.5 1082.5 1037.5 1084.4 1043.9 1094.5 1045.7 1103.5 1044.9 1106.5Z" fill="#e27d00" fill-rule="evenodd"/><path d="M1198.3 1348.5 1203.5 1347 1208.4 1343.5 1213.2 1333.5 1214.5 1324.5 1213.5 1323.5 1213.6 1316.5 1212.6 1315.5 1211.6 1304.5 1208.6 1301.5 1201.6 1290.5 1181.5 1270.4 1176.5 1268.4 1173.5 1268.4 1166.5 1265.4 1163.5 1265.4 1159.5 1263.4 1156.5 1263.3 1155.5 1262.4 1141.5 1260.3 1140.5 1259.3 1136.5 1259.3 1122.7 1253.5 1110.6 1233.5 1100.5 1201.5 1098.5 1198.5 1098.5 1196.5 1086.6 1171.5 1084.6 1169.5 1081.6 1162.5 1077.6 1156.5 1076.6 1148.5 1074.6 1143.5 1074.6 1139.5 1073.6 1138.5 1073.6 1134.5 1067.6 1121.5 1067.6 1119.5 1064.5 1114.5 1057.5 1091.5 1056.5 1090.5 1056.5 1087.5 1053.5 1080.5 1053.5 1077.5 1051.5 1074.5 1050.5 1069.5 1048.5 1066.5 1047.6 1061.5 1045.6 1058.5 1045.6 1056.5 1043.6 1053.5 1043.6 1051.5 1041.6 1047.5 1034.5 1041.4 1028.5 1038.4 1024.5 1038.4 1023.5 1037.4 1015.5 1037.3 1014.5 1038.3 1010.5 1038.3 1009.3 1041.5 1009.3 1045.5 1008.3 1046.5 1007.3 1064.5 1006.3 1065.5 1006.4 1074.5 1005.4 1075.5 1005.4 1083.5 1006.4 1084.5 1006.4 1090.5 1007.4 1091.5 1008.4 1105.5 1010.4 1109.5 1012.4 1120.5 1015.4 1128.5 1017.4 1142.5 1018.4 1143.5 1018.4 1147.5 1019.4 1148.5 1019.4 1152.5 1020.4 1153.5 1020.4 1157.5 1021.4 1158.5 1021.4 1162.5 1022.4 1163.5 1022.4 1167.5 1023.4 1168.5 1023.4 1172.5 1024.4 1173.5 1024.4 1177.5 1026.4 1181.5 1026.4 1183.5 1028.4 1186.5 1028.4 1188.5 1030.4 1191.5 1030.4 1193.5 1032.4 1196.5 1034.4 1210.5 1035.4 1211.5 1035.4 1215.5 1036.4 1216.5 1036.4 1220.5 1037.4 1221.5 1037.4 1224.5 1039.4 1229.5 1041.4 1240.5 1050.4 1256.5 1052.4 1258.5 1053.4 1261.5 1056.5 1265.6 1077.5 1279.6 1094.5 1287.7 1115.5 1301.7 1117.3 1303.5 1117.3 1305.5 1123.5 1318.5 1123.5 1320.5 1135.5 1337.7 1140.5 1339 1176.5 1342.5 1189.5 1347.2ZM1044.5 1110.6 1040.5 1111.2 1033.5 1110.1 1028.5 1108.1 1025.9 1105.5 1024 1097.5 1024.2 1089.5 1026.5 1083.3 1030.5 1079.3 1033.5 1078.7 1037.5 1080.7 1041.6 1085.5 1045.9 1093.5 1047.8 1099.5 1048.2 1104.5 1047 1108.5Z" fill="#dd6c00" fill-rule="evenodd"/><path d="M1199.1 1340.5 1204.5 1338.7 1208.5 1335.7 1212.5 1326.9 1213.5 1316.5 1212.5 1315.5 1211.5 1304.5 1208.6 1301.5 1201.6 1290.5 1181.5 1270.4 1176.5 1268.4 1173.5 1268.4 1166.5 1265.4 1163.5 1265.4 1159.5 1263.4 1156.5 1263.4 1155.5 1262.4 1141.5 1260.4 1140.5 1259.4 1136.5 1259.4 1132.5 1257.4 1130.5 1257.4 1127.5 1255.4 1125.5 1255.4 1122.6 1253.5 1110.5 1233.5 1110.5 1231.5 1109.5 1230.5 1109.5 1228.5 1108.4 1227.5 1100.4 1203.5 1100.4 1201.5 1095.4 1191.5 1095.5 1189.5 1086.5 1171.5 1084.5 1169.5 1081.5 1162.5 1077.5 1156.5 1076.5 1148.5 1074.5 1143.5 1074.5 1139.5 1073.5 1138.5 1073.5 1134.5 1067.5 1121.5 1067.5 1119.5 1064.2 1114.5 1059 1100.5 1050.4 1069.5 1048.4 1066.5 1047.5 1061.5 1045.5 1058.5 1045.5 1056.5 1043.5 1053.5 1043.5 1051.5 1041.5 1047.5 1034.5 1041.5 1028.5 1038.5 1024.5 1038.4 1023.5 1037.4 1015.5 1037.4 1014.5 1038.4 1010.5 1038.3 1009.3 1041.5 1009.3 1045.5 1008.3 1046.5 1007.4 1064.5 1006.4 1065.5 1006.4 1074.5 1005.4 1075.5 1005.5 1083.5 1006.5 1084.5 1006.5 1090.5 1007.5 1091.5 1008.5 1105.5 1010.5 1109.5 1012.5 1120.5 1015.4 1128.5 1017.5 1142.5 1018.5 1143.5 1018.5 1147.5 1019.5 1148.5 1019.5 1152.5 1020.5 1153.5 1020.5 1157.5 1021.5 1158.5 1021.5 1162.5 1022.5 1163.5 1022.5 1167.5 1023.5 1168.5 1023.5 1172.5 1024.5 1173.5 1024.5 1177.5 1026.5 1181.5 1026.5 1183.5 1028.5 1186.5 1028.5 1188.5 1030.5 1191.5 1030.5 1193.5 1032.5 1196.5 1034.5 1210.5 1035.5 1211.5 1035.5 1215.5 1036.5 1216.5 1036.5 1220.5 1037.5 1221.5 1037.5 1224.5 1039.5 1229.5 1041.5 1240.5 1050.5 1256.5 1052.5 1258.5 1053.5 1261.5 1056.5 1265.5 1077.5 1279.6 1094.5 1287.7 1115.5 1301.7 1117.3 1303.5 1117.4 1305.5 1119.4 1308.5 1119.4 1310.5 1121.4 1313.5 1122.5 1317.5 1133.5 1330 1139.3 1334.5 1189.5 1340.7ZM1046.5 1112.8 1041.5 1113 1032.5 1111.3 1027.5 1109.4 1023.9 1106.5 1021.8 1097.5 1022.1 1089.5 1025.5 1080.7 1030.5 1075.7 1034.5 1075.3 1039.5 1078.5 1044.2 1084.5 1048.9 1093.5 1050.7 1099.5 1051 1106.5 1049.6 1110.5ZM1081.5 1228.8 1078.5 1229.1 1075.5 1227.3 1069.5 1218.4 1066.6 1206.5 1067.5 1201.7 1069.5 1200 1072.5 1200.7 1075.5 1203.2 1081.1 1212.5 1083.6 1222.5 1083.1 1226.5Z" fill="#d75c00" fill-rule="evenodd"/><path d="M1196.5 1335.5 1204.5 1333 1210.1 1326.5 1212.2 1317.5 1211.5 1304.5 1208.5 1301.5 1201.5 1290.5 1181.5 1270.5 1176.5 1268.5 1173.5 1268.5 1166.5 1265.5 1163.5 1265.4 1159.5 1263.4 1156.5 1263.4 1155.5 1262.4 1141.5 1260.4 1140.5 1259.4 1136.5 1259.4 1132.5 1257.4 1130.5 1257.4 1127.5 1255.4 1125.5 1255.4 1122.6 1253.5 1118.5 1246.5 1112.8 1240.5 1108.8 1234.5 1095.9 1197.5 1077 1157.5 1070.9 1132.5 1059.9 1111.5 1057.5 1108.6 1056.5 1108.8 1052.5 1115 1048.5 1116.4 1027.5 1111.2 1021.3 1107.5 1019.2 1098.5 1019.5 1090.5 1022.7 1081.5 1027.5 1074.4 1031.5 1071.5 1035.5 1071.3 1040.8 1074.5 1046.5 1080.6 1048.5 1081.3 1050 1079.5 1043.6 1057.5 1039.9 1048.5 1038.1 1046.5 1027.5 1039 1023.5 1037.5 1015.5 1037.4 1014.5 1038.4 1010.5 1038.4 1010.4 1040.5 1009.4 1041.5 1009.4 1045.5 1008.4 1046.5 1008.4 1054.5 1007.4 1055.5 1007.4 1064.5 1006.4 1065.5 1006.5 1074.5 1005.5 1075.5 1005.5 1078.5 1007.7 1089.5 1009 1091.5 1010.5 1104.1 1012.4 1108.5 1014.6 1127.5 1015.5 1128.5 1015.8 1132.5 1021.4 1153.5 1025.9 1176.5 1033.9 1195.5 1038.2 1219.5 1043 1239.5 1056.5 1264.2 1077.5 1279.5 1094.5 1287.6 1115.5 1301.6 1117.4 1303.5 1117.4 1305.5 1121.7 1314.5 1130.5 1323.5 1138.5 1329 1143.5 1330.9 1166.5 1334.3 1186.5 1335.8ZM1083.5 1238.6 1077.9 1237.5 1072.5 1233.6 1067.5 1226.8 1063.1 1217.5 1060.1 1206.5 1059.4 1197.5 1060.5 1192.5 1064.5 1188.8 1069.5 1188.4 1075.5 1192.4 1081.5 1200.1 1087.2 1211.5 1090.2 1221.5 1090.8 1230.5 1088.5 1236Z" fill="#d14e00" fill-rule="evenodd"/><path d="M1013.9 1091.5 1015.5 1090.2 1022.5 1077.5 1027.5 1070.6 1032.5 1066.3 1039.2 1064.5 1040 1062.5 1039.9 1058.5 1037.1 1049.5 1027.5 1041.1 1019.9 1037.5 1010.5 1038.4 1010.4 1040.5 1009.4 1041.5 1009.4 1045.5 1008.4 1046.5 1007.4 1064.5 1006.5 1065.5 1006.7 1076.5 1010.4 1088.5ZM1194 1331.5 1203.5 1328.6 1207.5 1324.2 1210 1318.5 1210 1305.5 1200.4 1290.5 1181.5 1272.2 1159.5 1263.5 1151.5 1262.5 1150.5 1261.5 1146.5 1261.5 1145.5 1260.5 1141.5 1260.4 1140.5 1259.5 1136.5 1259.4 1132.5 1257.4 1130.5 1257.4 1127.5 1255.5 1125.5 1255.5 1123.5 1254.5 1115.5 1245.5 1101.5 1232.6 1099.5 1233.6 1092.6 1241.5 1088.5 1243.6 1084.5 1244.4 1079.5 1244 1075.3 1242.5 1066.7 1235.5 1062.1 1228.5 1057.1 1217.5 1053.8 1206.5 1052.3 1195.5 1052.9 1191.5 1054.8 1188.5 1058.7 1185.5 1065.2 1182.5 1073.5 1181.3 1082.5 1185.5 1083.4 1184.5 1081.3 1174.5 1078.2 1164.5 1075 1157.5 1069.5 1136.5 1064 1126.5 1060.3 1122.5 1050.5 1121.1 1041.6 1116.5 1035.5 1114.5 1020.5 1111.5 1017.5 1112 1015.8 1114.5 1015.3 1118.5 1016 1126.5 1028.3 1175.5 1037.1 1195.5 1045.7 1238.5 1057.9 1262.5 1077.5 1279.5 1094.5 1287.6 1115.5 1301.6 1117.4 1303.5 1119.7 1310.5 1127.6 1318.5 1136.5 1324.4 1145.5 1327.6 1164.5 1330.7 1181.5 1332Z" fill="#cb4100" fill-rule="evenodd"/><path d="M1015.3 1082.5 1018.5 1079.4 1029 1063.5 1032.7 1054.5 1030.7 1048.5 1026.5 1043.3 1021.5 1039.7 1015.5 1037.6 1014.5 1038.5 1010.5 1038.5 1010.5 1040.5 1009.5 1041.5 1006.9 1065.5 1010.1 1080.5 1012.5 1082.6ZM1046.9 1186.5 1066.2 1178.5 1071.3 1175.5 1074.3 1172.5 1075.5 1166.5 1070.9 1151.5 1065.5 1137.5 1058.2 1129.5 1037.8 1116.5 1028.5 1114.5 1021.5 1114.9 1019.5 1116 1017.9 1118.5 1017.5 1125.5 1032.1 1174.5 1034.8 1180.5 1038.5 1185.2 1042.5 1187.2ZM1188.1 1328.5 1198.5 1326.3 1204.5 1322.5 1206.7 1319.5 1208 1314.5 1208.2 1306.5 1199.4 1291.5 1180.5 1273.3 1158.5 1264.4 1145.5 1260.7 1141.5 1260.5 1140.5 1259.5 1136.5 1259.5 1122.9 1254.5 1113.5 1246.7 1105.5 1243 1101.5 1243.3 1088.7 1248.5 1081.5 1249.2 1072.5 1247.4 1059.5 1241.1 1056.4 1240.5 1055.9 1246.5 1059 1257.5 1060.4 1260.5 1064.9 1265.5 1078.5 1278.3 1085.5 1283.3 1094.5 1287.5 1115.5 1301.6 1117.5 1303.5 1117.5 1305.5 1120.5 1309.5 1130.5 1318.2 1140.5 1323 1153.5 1326.2 1171.5 1328.5Z" fill="#c53600" fill-rule="evenodd"/><path d="M1016.6 1076.5 1021.1 1071.5 1025.5 1063.5 1027.4 1057.5 1027.5 1052.5 1025.5 1046.7 1021.5 1042 1017.5 1039.7 1011.5 1039 1009.5 1041.5 1009.5 1045.5 1008.5 1046.5 1008.5 1054.5 1007.5 1055.5 1008.3 1066.5 1010.2 1072.5 1012.5 1076.5 1014.5 1077.4ZM1051.7 1181.5 1063.5 1177.2 1068.5 1173.7 1071 1170.5 1072.1 1167.5 1072 1163.5 1067.7 1151.5 1064 1143.5 1059.4 1136.5 1039.5 1119.1 1031.5 1116.2 1023.5 1116.8 1020 1120.5 1019.4 1125.5 1025.2 1144.5 1034.5 1168.5 1038.3 1176.5 1041 1179.5 1045.5 1181.5ZM1185.2 1325.5 1194.5 1323.7 1200.8 1320.5 1204.9 1314.5 1205.8 1307.5 1202.4 1299.5 1197.5 1292 1186.5 1280.9 1177.5 1273.6 1154.5 1264.5 1122.5 1255.7 1112.5 1249.4 1107.5 1248 1101.5 1248.5 1086.5 1253.3 1071.5 1254.9 1067.7 1257.5 1067.6 1260.5 1069.3 1264.5 1079.2 1276.5 1096.5 1289.5 1115.5 1301.5 1123.4 1310.5 1131.5 1316.4 1141.5 1320.6 1155.5 1323.9 1170.5 1325.7Z" fill="#be2c00" fill-rule="evenodd"/><path d="M1017.4 1071.5 1020.5 1067.7 1023 1062.5 1024.2 1052.5 1022.5 1047.5 1019.8 1043.5 1017.5 1041.8 1012.5 1040.8 1010.9 1042.5 1009.2 1047.5 1008.9 1059.5 1011.5 1069.9 1014.5 1072.4ZM1055.8 1178.5 1064.5 1174.2 1067.5 1171.2 1069.3 1167.5 1069.1 1162.5 1063.1 1148.5 1055.3 1136.5 1037.5 1119.6 1031.5 1117.6 1025.1 1118.5 1021.8 1122.5 1022.4 1129.5 1031.5 1153.5 1039.9 1171.5 1042.1 1175.5 1045.5 1178.1 1050.5 1179.2ZM1183.8 1322.5 1191.5 1320.7 1197.5 1317.6 1201.1 1313.5 1202.4 1308.5 1200.5 1301.4 1196 1293.5 1186.6 1283.5 1176.8 1275.5 1157.5 1267 1124.5 1257.8 1109.5 1251.9 1099.5 1253.2 1081.4 1259.5 1077.2 1262.5 1076.4 1265.5 1077.1 1268.5 1080.5 1274.3 1083.6 1277.5 1100.1 1290.5 1116.5 1301.3 1123.5 1308.6 1130.4 1313.5 1141.5 1318.1 1155.5 1321.4 1170.5 1323Z" fill="#b82400" fill-rule="evenodd"/><path d="M1017.3 1066.5 1020.7 1060.5 1021.2 1052.5 1019 1046.5 1014.5 1043.4 1013.5 1043.7 1010.8 1048.5 1010.2 1057.5 1013.5 1066.5 1015.5 1067.4ZM1056.5 1176.5 1063.7 1172.5 1067.1 1166.5 1066.6 1162.5 1060.8 1149.5 1052.9 1137.5 1036.5 1121.1 1031.5 1119.1 1026.5 1120.2 1023.9 1123.5 1024.6 1128.5 1032.1 1148.5 1042 1169.5 1044.5 1173.9 1047.5 1176.3 1051.5 1177.2ZM1182.1 1319.5 1189.5 1317.4 1195.4 1313.5 1197.7 1309.5 1197.6 1303.5 1194.1 1295.5 1190.2 1290.5 1181.1 1281.5 1173.5 1276.1 1153.5 1267.3 1110.5 1255.2 1103.5 1255.8 1095.7 1258.5 1087.5 1262.5 1083.5 1266.5 1082.9 1269.5 1083.6 1272.5 1089.9 1280.5 1100.5 1289.2 1117.4 1300.5 1125.5 1308 1131 1311.5 1141.5 1315.7 1155.5 1319 1169.5 1320.3Z" fill="#b11c1f" fill-rule="evenodd"/><path d="M1015.9 1060.5 1017.3 1058.5 1017.3 1053.5 1016.5 1051 1014.5 1050 1013.5 1052 1013.2 1058.5 1014.5 1060.4ZM1057.3 1174.5 1063.1 1170.5 1064.9 1165.5 1058.1 1149.5 1051.5 1139.4 1041.5 1128.8 1033.5 1121.7 1028.5 1121.8 1026.9 1123.5 1026.6 1125.5 1029 1133.5 1036.4 1152.5 1044.3 1168.5 1046.6 1172.5 1049.1 1174.5 1052.5 1175.3ZM1170.4 1317.5 1179.5 1316.5 1186.5 1314.2 1191.3 1310.5 1193.2 1305.5 1192.2 1299.5 1188.2 1292.5 1180.8 1284.5 1173 1278.5 1152.5 1268.8 1112.5 1258.5 1106.5 1258.8 1099.5 1261 1093.2 1264.5 1089.3 1268.5 1088.5 1271.5 1089 1274.5 1094 1281.5 1104.5 1290.4 1118.3 1299.5 1128.5 1307.7 1136.5 1311.6 1147.5 1314.9 1159.5 1317Z" fill="#aa165a" fill-rule="evenodd"/><path d="M1057.6 1172.5 1061.4 1169.5 1062.5 1165.5 1055.5 1149.6 1050.2 1141.5 1043.5 1134.1 1036.5 1128.4 1032.5 1127.3 1032.1 1132.5 1034.7 1141.5 1046.5 1167.4 1050.5 1172.7 1053.5 1173.4ZM1166.6 1314.5 1175.5 1313.6 1181.8 1311.5 1185.8 1308.5 1188 1303.5 1187.3 1298.5 1183.3 1291.5 1175.6 1283.5 1168.4 1278.5 1156.5 1272.4 1147.5 1269 1129.5 1264.2 1115.5 1261.8 1109.5 1261.8 1103.1 1263.5 1097.5 1266.7 1094 1270.5 1093.2 1273.5 1093.7 1276.5 1099.5 1284.2 1107.5 1290.7 1129.5 1305.8 1137.5 1309.4 1146.5 1312.1 1156.5 1313.9Z" fill="#a21191" fill-rule="evenodd"/><path d="M1056.8 1170.5 1059.1 1168.5 1059.7 1166.5 1053.6 1151.5 1045.5 1140.4 1041.5 1137.2 1038.5 1136.9 1038.1 1140.5 1039.5 1145.9 1046.5 1161.7 1052.2 1170.5ZM1169.9 1310.5 1175.5 1308.9 1179.5 1306.4 1181.8 1302.5 1181.8 1298.5 1179.8 1293.5 1175.3 1287.5 1169.7 1282.5 1162 1277.5 1142.5 1269.5 1119.5 1264.8 1112.5 1264.8 1106.5 1266.1 1101.5 1268.6 1098 1272.5 1097.3 1275.5 1098.1 1278.5 1103.5 1285.3 1130.5 1303.4 1140.4 1307.5 1150.5 1310 1160.5 1311Z" fill="#9a0cbf" fill-rule="evenodd"/><path d="M1163.2 1306.5 1168.5 1305.3 1172.9 1302.5 1174.6 1299.5 1174.6 1295.5 1172.4 1290.5 1169.3 1286.5 1163.6 1281.5 1157.2 1277.5 1141.5 1271.1 1122.5 1267.4 1109.5 1268.4 1104.9 1270.5 1101.8 1273.5 1101.3 1278.5 1105.5 1284.5 1113.5 1290.4 1130.5 1300 1146.5 1305.5 1155.5 1306.7Z" fill="#9209e2" fill-rule="evenodd"/><path d="M1155 1300.5 1160.5 1299.4 1164 1297.5 1166.1 1294.5 1166.3 1291.5 1164.8 1287.5 1161.4 1283.5 1151.5 1276.9 1136.5 1271.7 1122.5 1269.5 1110.5 1270.9 1106.5 1273.2 1104.7 1275.5 1104.4 1278.5 1106.5 1282.5 1110.8 1286.5 1118.5 1291.1 1137.5 1298.6 1146.5 1300.3Z" fill="#8906f8" fill-rule="evenodd"/><path d="M1152.1 1294.5 1158.4 1291.5 1159.4 1289.5 1159 1286.5 1154.8 1281.5 1145.5 1276.3 1133.5 1272.7 1121.5 1271.4 1112.5 1272.8 1107.8 1276.5 1107.6 1279.5 1110.2 1283.5 1114.5 1286.8 1121.5 1290.4 1137.5 1294.9Z" fill="#8004ff" fill-rule="evenodd"/><path d="M1148.4 1291.5 1153.7 1288.5 1153.6 1284.5 1149.6 1280.5 1141.5 1276.5 1131.5 1273.9 1121.5 1273.1 1114.5 1274.4 1110.8 1277.5 1110.8 1280.5 1113.1 1283.5 1122.5 1289 1135.5 1292.1Z" fill="#7502f8" fill-rule="evenodd"/><path d="M1145 1289.5 1148.9 1287.5 1149.6 1284.5 1145.8 1280.5 1139.5 1277.4 1130.5 1275.1 1122.5 1274.7 1116.5 1275.9 1113.8 1278.5 1113.8 1280.5 1116 1283.5 1124.5 1288 1135.5 1290.2Z" fill="#6a01e2" fill-rule="evenodd"/><path d="M1142.7 1287.5 1145.3 1285.5 1144.6 1282.5 1140.5 1279.6 1135.5 1277.7 1123.5 1276.3 1118.7 1277.5 1116.9 1279.5 1117.3 1281.5 1119.2 1283.5 1126.5 1287 1135.5 1288.4Z" fill="#5e01bf" fill-rule="evenodd"/><path d="M1135.9 1286.5 1139.9 1285.5 1141 1283.5 1139.5 1281.5 1135.7 1279.5 1125.5 1278 1122.5 1278.6 1120.7 1280.5 1121.6 1282.5 1125.5 1284.8Z" fill="#4f0091" fill-rule="evenodd"/><path d="M1134.3 1283.5 1134.7 1282.5 1131.5 1280.8 1128 1280.5 1126.4 1281.5 1129.5 1283.6Z" fill="#3d005a" fill-rule="evenodd"/></g></g></g><g clip-path="url(#clipe2)"><g clip-path="url(#clipe2m)"><g filter="url(#ble2)"><rect x="1000" y="1216" width="75" height="138" fill="#fdf100"/><path d="M1057.6 1345.5 1062.6 1341.5 1065.6 1334.5 1065.6 1329.5 1066.6 1328.5 1066.6 1315.5 1065.6 1314.5 1065.6 1307.5 1064.6 1306.5 1064.6 1301.5 1062.6 1296.5 1061.6 1288.5 1058.6 1281.5 1058.6 1278.5 1054.6 1270.5 1053.6 1265.5 1045.6 1249.5 1037.6 1237.5 1027.5 1227.4 1021.5 1224.4 1017.5 1224.4 1012.4 1228.5 1009.4 1235.5 1009.4 1240.5 1008.4 1241.5 1008.4 1254.5 1009.4 1255.5 1009.4 1262.5 1010.4 1263.5 1010.4 1268.5 1012.4 1273.5 1013.4 1281.5 1016.4 1288.5 1016.4 1291.5 1020.4 1299.5 1021.4 1304.5 1029.4 1320.5 1037.4 1332.5 1047.5 1342.6 1053.5 1345.6Z" fill="#f8d500" fill-rule="evenodd"/><path d="M1057.5 1345.5 1062.5 1341.5 1065.5 1334.5 1065.5 1329.5 1066.5 1328.5 1066.5 1315.5 1065.5 1314.5 1065.5 1307.5 1064.5 1306.5 1064.5 1301.5 1062.5 1296.5 1061.5 1288.5 1058.5 1281.5 1058.5 1278.5 1054.5 1270.5 1053.5 1265.5 1045.5 1249.5 1037.5 1237.5 1027.5 1227.5 1021.5 1224.5 1017.5 1224.5 1012.5 1228.5 1009.5 1235.5 1009.5 1240.5 1008.5 1241.5 1008.5 1254.5 1009.5 1255.5 1009.5 1262.5 1010.5 1263.5 1010.5 1268.5 1012.5 1273.5 1013.5 1281.5 1016.5 1288.5 1016.5 1291.5 1020.5 1299.5 1021.5 1304.5 1029.5 1320.5 1037.5 1332.5 1047.5 1342.5 1053.5 1345.5Z" fill="#f2bc00" fill-rule="evenodd"/><path d="M1057.2 1344.5 1061.9 1340.5 1064.9 1333.5 1064.9 1329.5 1065.9 1327.5 1065.9 1316.5 1064.9 1314.5 1063.9 1302.5 1057.9 1279.5 1052.9 1266.5 1044.9 1250.5 1039.3 1241.5 1027.5 1228.7 1020.5 1225.1 1018.5 1225.1 1015.5 1226.7 1013.1 1229.5 1010.1 1236.5 1010.1 1240.5 1009.1 1242.5 1010.1 1261.5 1013.1 1276.5 1017.1 1290.5 1022.1 1303.5 1030.1 1319.5 1035.7 1328.5 1047.5 1341.3 1054.5 1344.9Z" fill="#eda500" fill-rule="evenodd"/><path d="M1056.3 1342.5 1059.5 1340.3 1062.8 1332.5 1063.8 1317.5 1061.8 1303.5 1055.8 1280.5 1049.9 1265.5 1037.5 1242.7 1026.5 1230.6 1019.5 1227.2 1016.7 1228.5 1015.1 1230.5 1012.2 1237.5 1011.2 1243.5 1011.2 1252.5 1013.2 1266.5 1019.2 1289.5 1025.1 1304.5 1037.5 1327.3 1048.7 1339.5Z" fill="#e89000" fill-rule="evenodd"/><path d="M1055.8 1339.5 1058.2 1336.5 1059.9 1331.5 1060.9 1318.5 1058.9 1304.5 1052.6 1280.5 1047.2 1266.5 1035.1 1244.5 1025.2 1233.5 1019.5 1230.4 1017.9 1231.5 1015.1 1238.5 1014.1 1251.5 1016.1 1265.5 1022.4 1289.5 1027.8 1303.5 1039.9 1325.5 1050.5 1337.1Z" fill="#e27d00" fill-rule="evenodd"/><path d="M1054.7 1332.5 1056.3 1324.5 1055.3 1311.5 1051.3 1292.5 1048 1281.5 1043.5 1269.5 1036.5 1255.5 1027.6 1242.5 1022.5 1237.4 1020.5 1236.7 1018.7 1245.5 1019.7 1258.5 1023.7 1277.5 1027 1288.5 1032 1301.5 1043.5 1322.5 1052.5 1332.6 1053.5 1333.5Z" fill="#dd6c00" fill-rule="evenodd"/></g></g></g><g clip-path="url(#clipe3)"><g clip-path="url(#clipe3m)"><g filter="url(#ble3)"><rect x="991" y="1416" width="110" height="50" fill="#fdf100"/><path d="M1092.8 1460.5 1092.7 1453.5 1087.5 1442.4 1085.5 1442.4 1082.5 1440.4 1080.5 1440.4 1077.5 1438.4 1075.5 1438.4 1062.5 1432.5 1050.5 1429.6 1044.5 1428.4 1022.5 1428 1011.5 1431.8 1000.3 1440.5 1000.5 1461Z" fill="#f8d500" fill-rule="evenodd"/><path d="M1092.7 1460.5 1092.7 1453.5 1087.5 1442.6 1085.5 1442.5 1077.5 1438.7 1059.5 1433.8 1043.5 1431.4 1023.5 1431.4 1007.5 1435 1000.4 1440.5 1000.5 1461Z" fill="#f2bc00" fill-rule="evenodd"/><path d="M1092.7 1460.5 1092.6 1453.5 1090.6 1450.5 1089.5 1446.5 1087.3 1444.5 1076.5 1440 1060.5 1435.7 1043.5 1433.3 1024.5 1433.3 1003.5 1437.6 1000.4 1440.5 1000.5 1460.9Z" fill="#eda500" fill-rule="evenodd"/><path d="M1092.6 1460.5 1092.6 1453.5 1090.5 1449.2 1086 1445.5 1075.5 1441 1060.5 1437 1043.5 1434.7 1025.5 1434.7 1009.5 1437.2 1000.5 1440.5 1000.5 1460.9Z" fill="#e89000" fill-rule="evenodd"/><path d="M1092.6 1460.5 1092.5 1453.7 1084.8 1446.5 1075.5 1442.3 1060.5 1438.2 1043.5 1435.9 1026.5 1435.9 1013.5 1437.5 1000.5 1441.2 1000.5 1460.9Z" fill="#e27d00" fill-rule="evenodd"/><path d="M1092.5 1460.5 1092.5 1457.4 1091.2 1454.5 1083.8 1447.5 1071.5 1442.2 1059.5 1439.1 1043.5 1437 1026.5 1437 1010.5 1439.2 1000.5 1442.4 1000.5 1460.8Z" fill="#dd6c00" fill-rule="evenodd"/><path d="M1091.5 1460.5 1089.4 1454.5 1082.5 1448.2 1071.5 1443.3 1057.5 1439.7 1042.5 1437.9 1026.5 1438 1010.5 1440.2 1000.5 1443.6 1000.5 1460.8Z" fill="#d75c00" fill-rule="evenodd"/><path d="M1089.9 1460.5 1087.5 1454.5 1080.5 1448.6 1069.5 1443.8 1055.5 1440.3 1041.5 1438.8 1025.5 1439 1010.5 1441.2 1000.5 1444.8 1000.5 1460.8Z" fill="#d14e00" fill-rule="evenodd"/><path d="M1088.1 1460.5 1085.6 1454.5 1079.5 1449.5 1068.5 1444.6 1054.5 1441.1 1040.5 1439.7 1024.5 1440 1009.5 1442.4 1000.5 1446 1000.5 1460.7Z" fill="#cb4100" fill-rule="evenodd"/><path d="M1085.9 1460.5 1084.3 1455.5 1077 1449.5 1065.5 1444.7 1052.5 1441.8 1038.5 1440.5 1023.5 1441 1008.5 1443.7 1000.5 1447.2 1000.5 1460.7Z" fill="#c53600" fill-rule="evenodd"/><path d="M1083.7 1460.5 1083.3 1457.5 1081.4 1454.5 1074.5 1449.5 1064.5 1445.5 1050.9 1442.5 1036.5 1441.4 1022.5 1442.1 1008.5 1444.8 1000.5 1448.5 1000.5 1460.7Z" fill="#be2c00" fill-rule="evenodd"/><path d="M1081.5 1460.5 1080 1455.5 1073.5 1450.5 1062.5 1446 1048.5 1443.2 1034.5 1442.3 1020.5 1443.3 1008.5 1445.9 1000.5 1449.9 1000.5 1460.6Z" fill="#b82400" fill-rule="evenodd"/><path d="M1079.1 1460.5 1077.6 1455.5 1070.7 1450.5 1060 1446.5 1046.5 1444 1032.5 1443.3 1019.4 1444.5 1007.5 1447.5 1000.5 1451.4 1000.5 1460.6Z" fill="#b11c1f" fill-rule="evenodd"/><path d="M1076.6 1460.5 1076.4 1457.5 1075.1 1455.5 1068.5 1450.9 1057.5 1447.1 1044.5 1444.9 1030.5 1444.5 1017.5 1446 1007.5 1448.8 1000.5 1453.1 1000.5 1460.6Z" fill="#aa165a" fill-rule="evenodd"/><path d="M1073.8 1460.5 1073.7 1457.5 1072.4 1455.5 1066.3 1451.5 1054.5 1447.7 1041.5 1445.8 1028.5 1445.8 1015.5 1447.7 1006.5 1450.7 1000.5 1455.3 1000.5 1460.5Z" fill="#a21191" fill-rule="evenodd"/><path d="M1070.6 1460.5 1070.8 1457.5 1069.4 1455.5 1062.5 1451.5 1050.5 1448.3 1036.5 1447 1022.5 1447.8 1010.8 1450.5 1003.4 1454.5 1001.8 1456.5 1001 1459.5 1001.5 1460.5Z" fill="#9a0cbf" fill-rule="evenodd"/><path d="M1066.8 1460.5 1067.6 1458.5 1066.9 1456.5 1060.5 1452.5 1049.5 1449.7 1037.5 1448.5 1024.5 1449.1 1013.5 1451.2 1006.2 1454.5 1003.5 1458.5 1003.6 1460.5Z" fill="#9209e2" fill-rule="evenodd"/><path d="M1061.7 1460.5 1063.4 1457.5 1059.5 1454.2 1050.5 1451.5 1038.5 1450.3 1026.5 1450.6 1015.5 1452.4 1008.5 1455.4 1006.6 1458.5 1008.3 1460.5Z" fill="#8906f8" fill-rule="evenodd"/><path d="M1053.8 1460.5 1057.8 1458.5 1058.2 1457.5 1056.5 1455.5 1050.9 1453.5 1041.5 1452.2 1021.5 1453 1014.5 1455 1011.8 1457.5 1013.5 1459.5 1016.2 1460.5Z" fill="#8004ff" fill-rule="evenodd"/><path d="M1044.3 1459.5 1049 1458.5 1050.6 1457.5 1050.3 1456.5 1044.3 1454.5 1032.5 1453.9 1021.5 1455.5 1019.4 1457.5 1027.5 1459.7Z" fill="#7502f8" fill-rule="evenodd"/></g></g></g><g clip-path="url(#clipe4)"><g clip-path="url(#clipe4m)"><g filter="url(#ble4)"><rect x="1138" y="1431" width="216" height="35" fill="#fdf100"/><path d="M1348.9 1460.5 1348.5 1440.4 1317.5 1440.4 1316.5 1439.4 1268.5 1439.3 1267.5 1440.3 1168.5 1441.5 1167.5 1442.5 1156.5 1444.5 1155.5 1445.5 1147.5 1447.5 1147.5 1460.6Z" fill="#f8d500" fill-rule="evenodd"/><path d="M1348.9 1460.5 1348.5 1441.1 1317.5 1440.4 1316.5 1439.5 1272.5 1439.4 1268.5 1439.4 1267.5 1440.4 1208.5 1440.5 1207.5 1441.5 1170.5 1443.6 1149.9 1449.5 1148 1460.5Z" fill="#f2bc00" fill-rule="evenodd"/><path d="M1348.8 1460.5 1348.5 1444.5 1346.8 1443.5 1305.3 1439.5 1226.4 1440.5 1209.5 1441.9 1171.5 1448.5 1158.8 1453.5 1156.5 1454.9 1155 1457.5 1156 1460.5Z" fill="#eda500" fill-rule="evenodd"/><path d="M1348.8 1460.5 1348.5 1446.6 1345.5 1445.2 1313.5 1441.2 1275.5 1439.8 1231.5 1441.3 1195.5 1445.8 1172.5 1451.9 1166.6 1455.5 1164.5 1459.5 1164.6 1460.5 1204.5 1460.9Z" fill="#e89000" fill-rule="evenodd"/><path d="M1348.7 1460.5 1348.5 1448.4 1343.5 1446.3 1312.5 1442.3 1275.5 1440.7 1234.5 1442.2 1202.5 1446.1 1188.5 1449.1 1178.4 1452.5 1173.3 1455.5 1170.5 1459.5 1170.5 1460.5 1204.5 1460.8Z" fill="#e27d00" fill-rule="evenodd"/><path d="M1348.7 1460.5 1348.5 1449.9 1342.5 1447.5 1310.5 1443.1 1272.5 1441.5 1234.5 1443.1 1203.5 1447.2 1191.5 1450 1181.9 1453.5 1177.4 1456.5 1175.4 1460.5Z" fill="#dd6c00" fill-rule="evenodd"/><path d="M1348.7 1460.5 1348.5 1451.5 1341.5 1448.6 1310.5 1444 1272.5 1442.3 1238.5 1443.7 1210.5 1447 1197.5 1449.9 1187.5 1453.2 1181.9 1456.5 1179.7 1460.5Z" fill="#d75c00" fill-rule="evenodd"/><path d="M1348.6 1460.5 1348.5 1453.1 1339.5 1449.4 1309.5 1444.8 1272.5 1443.1 1239.5 1444.4 1211.5 1447.9 1191.2 1453.5 1186.1 1456.5 1183.6 1460.5Z" fill="#d14e00" fill-rule="evenodd"/><path d="M1348.6 1460.5 1348 1454.5 1342.5 1451.6 1334.9 1449.5 1306.5 1445.3 1272.5 1443.9 1239.5 1445.2 1212.5 1448.8 1194.5 1454 1189 1457.5 1187.4 1460.5Z" fill="#cb4100" fill-rule="evenodd"/><path d="M1348.5 1460.5 1348.5 1457.3 1345.2 1454.5 1338.5 1451.6 1329.7 1449.5 1303.5 1445.9 1272.5 1444.6 1240.5 1446 1214.5 1449.5 1197.5 1454.5 1192.9 1457.5 1191.2 1460.5Z" fill="#c53600" fill-rule="evenodd"/><path d="M1347.8 1460.5 1346.1 1457.5 1341.9 1454.5 1326.5 1450 1301.5 1446.6 1272.5 1445.4 1243.5 1446.5 1218.5 1449.8 1201.7 1454.5 1196.8 1457.5 1195 1460.5Z" fill="#be2c00" fill-rule="evenodd"/><path d="M1345 1460.5 1343 1457.5 1339.5 1455.2 1323.7 1450.5 1300.5 1447.4 1272.5 1446.2 1243.5 1447.4 1220.3 1450.5 1204.5 1455.2 1200.9 1457.5 1199 1460.5Z" fill="#b82400" fill-rule="evenodd"/><path d="M1340.8 1460.5 1338.8 1457.5 1335.5 1455.5 1321.5 1451.3 1299.5 1448.2 1272.5 1447 1245.5 1448.1 1223.5 1451.1 1208.5 1455.5 1205.2 1457.5 1203.2 1460.5Z" fill="#b11c1f" fill-rule="evenodd"/><path d="M1336.1 1460.5 1334 1457.5 1330.5 1455.5 1316.3 1451.5 1295.5 1448.9 1272.5 1448 1248.5 1448.9 1227.7 1451.5 1213.5 1455.5 1210 1457.5 1207.9 1460.5Z" fill="#aa165a" fill-rule="evenodd"/><path d="M1330.6 1460.5 1329.7 1458.5 1326.8 1456.5 1314 1452.5 1294.5 1449.9 1272.5 1449 1249.5 1450 1230 1452.5 1217.2 1456.5 1214.3 1458.5 1213.4 1460.5Z" fill="#a21191" fill-rule="evenodd"/><path d="M1323.7 1460.5 1322.8 1458.5 1319.6 1456.5 1309.7 1453.5 1294.5 1451.3 1272.5 1450.3 1250.5 1451.3 1234.3 1453.5 1224.4 1456.5 1221.2 1458.5 1220.3 1460.5Z" fill="#9a0cbf" fill-rule="evenodd"/><path d="M1313 1460.5 1313.2 1459.5 1311.2 1457.5 1301.5 1454.5 1274.5 1452.1 1258.9 1452.5 1242.5 1454.5 1235 1456.5 1230.8 1459.5 1231 1460.5Z" fill="#9209e2" fill-rule="evenodd"/></g></g></g>
<path d="M1107.5 1436L1122 1447L1107.5 1458L1093 1447Z" fill="#008000"/>
<rect x="994.2" y="1030.5" width="351.1" height="427.5" fill="none" stroke="#000" stroke-width="2"/>
<line x1="984.2" y1="1458" x2="994.2" y2="1458" stroke="#000" stroke-width="2"/>
<text x="972.2" y="1468.2" font-size="28.4" text-anchor="end">0.0</text>
<line x1="984.2" y1="1378.8" x2="994.2" y2="1378.8" stroke="#000" stroke-width="2"/>
<text x="972.2" y="1389.1" font-size="28.4" text-anchor="end">0.5</text>
<line x1="984.2" y1="1299.7" x2="994.2" y2="1299.7" stroke="#000" stroke-width="2"/>
<text x="972.2" y="1309.9" font-size="28.4" text-anchor="end">1.0</text>
<line x1="984.2" y1="1220.5" x2="994.2" y2="1220.5" stroke="#000" stroke-width="2"/>
<text x="972.2" y="1230.7" font-size="28.4" text-anchor="end">1.5</text>
<line x1="984.2" y1="1141.3" x2="994.2" y2="1141.3" stroke="#000" stroke-width="2"/>
<text x="972.2" y="1151.6" font-size="28.4" text-anchor="end">2.0</text>
<line x1="984.2" y1="1062.2" x2="994.2" y2="1062.2" stroke="#000" stroke-width="2"/>
<text x="972.2" y="1072.4" font-size="28.4" text-anchor="end">2.5</text>
<line x1="1055" y1="1458" x2="1055" y2="1468" stroke="#000" stroke-width="2"/>
<text x="1055" y="1497.4" font-size="28.4" text-anchor="middle">2.5</text>
<line x1="1157" y1="1458" x2="1157" y2="1468" stroke="#000" stroke-width="2"/>
<text x="1157" y="1497.4" font-size="28.4" text-anchor="middle">5.0</text>
<line x1="1259" y1="1458" x2="1259" y2="1468" stroke="#000" stroke-width="2"/>
<text x="1259" y="1497.4" font-size="28.4" text-anchor="middle">7.5</text>
<text x="1166.4" y="1520.4" font-size="28.4" text-anchor="middle">CV<tspan font-size="18.7" dy="3.5">1</tspan></text>
<text transform="translate(929 1247.2) rotate(-90)" font-size="28.4" text-anchor="middle">CV<tspan font-size="18.7" dy="3.5">2</tspan></text>
<text x="1164" y="1063" font-size="34.3" text-anchor="middle"><tspan font-style="italic">P</tspan>=600 GPa</text>
<text x="881.5" y="1057.8" font-size="42" font-weight="bold">e</text>
<rect x="1366.5" y="1030.5" width="21.7" height="427.5" fill="url(#cmapg)"/>
<rect x="1366.5" y="1030.5" width="21.7" height="427.5" fill="none" stroke="#000" stroke-width="2"/>
<line x1="1388.2" y1="1092" x2="1397.2" y2="1092" stroke="#000" stroke-width="2"/>
<text x="1406.2" y="1102.2" font-size="28.4">0.16</text>
<line x1="1388.2" y1="1266.9" x2="1397.2" y2="1266.9" stroke="#000" stroke-width="2"/>
<text x="1406.2" y="1277.1" font-size="28.4">0.08</text>
<line x1="1388.2" y1="1441" x2="1397.2" y2="1441" stroke="#000" stroke-width="2"/>
<text x="1406.2" y="1451.2" font-size="28.4">0.00</text>
<text transform="translate(1497.8 1245.2) rotate(-90)" font-size="34.8" text-anchor="middle">FES / eV f.u.<tspan font-size="24" dy="-15">−1</tspan></text>
<g clip-path="url(#clipd)"><g clip-path="url(#clipdm)"><g filter="url(#bld)"><rect x="135" y="852" width="501" height="588" fill="#fdf600"/><path d="M623.8 1434.5 623.8 1432.5 624.8 1431.5 624.8 1421.5 625.8 1420.5 626.7 1408.5 627.7 1406.5 626.5 1405.3 623.5 1405.3 619.5 1403.3 616.5 1403.3 611.5 1401.3 594.5 1388.3 592.5 1388.3 591.5 1387.3 586.5 1387.3 585.5 1386.3 581.5 1386.3 580.5 1385.3 576.5 1385.3 575.5 1384.3 565.5 1383.3 564.5 1382.3 560.5 1382.3 559.5 1381.3 555.5 1381.3 554.5 1380.3 550.5 1380.3 549.5 1379.3 545.5 1379.3 544.5 1378.3 540.5 1378.3 539.5 1377.3 535.5 1377.3 534.5 1376.3 530.5 1376.3 529.5 1375.3 525.5 1375.3 524.5 1374.4 520.5 1374.4 519.5 1373.4 515.5 1373.4 514.5 1372.4 507.5 1372.4 506.5 1371.4 498.5 1371.4 497.5 1370.4 490.5 1370.4 489.5 1369.4 481.5 1369.4 480.5 1368.4 476.5 1368.4 469.6 1361.5 453.7 1337.5 452.7 1333.5 450.7 1330.5 448.7 1322.5 446.7 1319.5 446.7 1317.5 443.7 1310.5 443.7 1305.5 442.7 1304.5 442.7 1299.5 441.7 1298.5 441.7 1293.5 440.7 1292.5 439.7 1283.5 436.7 1278.5 436.7 1276.5 433.7 1271.5 433.7 1269.5 426.8 1256.5 425.8 1249.5 424.8 1248.5 424.8 1244.5 423.8 1243.5 423.8 1239.5 422.8 1238.5 422.8 1234.5 411.8 1218.5 399.8 1193.5 395.8 1188.5 394.8 1185.5 388.8 1176.5 384.5 1172.2 380.5 1170.2 366.5 1159.2 364.5 1159.2 351.5 1153.2 348.5 1153.2 347.5 1152.2 342.5 1151.2 341.5 1150.2 338.5 1150.2 334.5 1148.2 331.5 1148.2 324.5 1145.2 305.5 1146.3 304.5 1147.3 292.5 1147.3 290.5 1148.3 277.7 1141.5 277.7 1139.5 284.7 1129.5 284.7 1127.5 279.6 1117.5 279.6 1115.5 275.6 1107.5 275.6 1105.5 265.6 1088.5 263.6 1080.5 255.6 1058.5 252.6 1047.5 251.6 1046.5 251.6 1043.5 250.6 1042.5 249.6 1036.5 247.6 1032.5 247.6 1029.5 245.6 1025.5 245.6 1022.5 241.6 1012.5 241.6 1009.5 239.6 1005.5 239.6 1003.5 238.6 1002.5 238.6 996.5 237.6 995.5 236.6 984.5 225.6 966.5 218.6 957.5 217.6 944.5 213.6 936.5 212.6 930.5 211.6 929.5 210.6 920.5 209.6 919.5 208.6 911.5 206.6 906.5 206.6 902.5 204.6 897.5 204.6 888.5 203.6 887.5 203.6 885.5 189.6 871.5 189.6 870.5 182.5 862.4 180.5 862.4 177.5 860.4 173.5 863.4 167.4 868.5 167.4 912.5 164.4 916.5 164.4 962.5 163.4 963.5 163.4 965.5 164.4 966.5 164.4 975.5 165.4 976.5 165.4 985.5 166.4 986.5 167.4 1003.5 168.4 1004.5 168.4 1007.5 170.4 1011.5 173.4 1026.5 174.4 1027.5 174.4 1056.5 175.4 1057.5 175.4 1064.5 181.4 1077.5 182.4 1092.5 183.4 1093.5 183.4 1101.5 184.3 1102.5 181.5 1104.3 158.5 1105.4 156.4 1107.5 156.3 1109.5 148.3 1126.5 148.2 1154.5 148.2 1189.5 149.2 1190.5 149.2 1193.5 150.2 1194.5 153.2 1209.5 155.2 1213.5 155.2 1217.5 156.2 1218.5 156.2 1222.5 157.2 1223.5 157.2 1228.5 158.2 1229.5 158.2 1233.5 159.2 1234.5 159.2 1238.5 160.2 1239.5 160.2 1243.5 161.2 1244.5 161.2 1249.5 162.2 1250.5 162.3 1254.5 163.3 1255.5 163.3 1269.5 164.3 1270.5 164.3 1287.5 165.3 1288.5 165.3 1298.5 166.3 1299.5 166.3 1305.5 167.3 1306.5 167.3 1311.5 168.3 1312.5 168.3 1317.5 169.3 1318.5 169.3 1323.5 170.3 1324.5 170.3 1333.5 171.3 1334.5 171.4 1343.5 172.4 1345.5 145.3 1380.5 145.2 1397.5 144.2 1398.5 144.2 1434.5Z" fill="#fae300" fill-rule="evenodd"/><path d="M623.7 1434.5 623.7 1432.5 624.7 1431.5 624.8 1421.5 625.8 1420.5 626.7 1408.5 627.7 1406.5 626.5 1405.3 623.5 1405.3 619.5 1403.3 616.5 1403.3 611.5 1401.3 594.5 1388.4 592.5 1388.4 591.5 1387.4 586.5 1387.4 585.5 1386.4 581.5 1386.4 580.5 1385.4 576.5 1385.4 575.5 1384.4 565.5 1383.4 564.5 1382.4 560.5 1382.4 559.5 1381.4 555.5 1381.4 554.5 1380.4 550.5 1380.4 549.5 1379.4 545.5 1379.4 544.5 1378.4 540.5 1378.4 539.5 1377.4 535.5 1377.4 534.5 1376.4 530.5 1376.4 529.5 1375.4 525.5 1375.4 524.5 1374.4 520.5 1374.4 519.5 1373.4 515.5 1373.4 514.5 1372.4 507.5 1372.4 506.5 1371.4 498.5 1371.4 497.5 1370.4 490.5 1370.4 489.5 1369.4 481.5 1369.4 480.5 1368.4 476.5 1368.4 469.6 1361.5 453.6 1337.5 452.6 1333.5 450.6 1330.5 448.6 1322.5 446.6 1319.5 446.6 1317.5 443.7 1310.5 443.7 1305.5 442.7 1304.5 442.7 1299.5 441.7 1298.5 441.7 1293.5 440.7 1292.5 439.7 1283.5 436.7 1278.5 436.7 1276.5 433.7 1271.5 433.7 1269.5 426.7 1256.5 425.7 1249.5 424.7 1248.5 424.7 1244.5 423.7 1243.5 423.7 1239.5 422.7 1238.5 422.7 1234.5 411.8 1218.5 399.8 1193.5 395.8 1188.5 394.7 1185.5 388.7 1176.5 384.5 1172.3 380.5 1170.3 366.5 1159.3 364.5 1159.3 351.5 1153.3 348.5 1153.3 347.5 1152.3 342.5 1151.3 341.5 1150.3 338.5 1150.3 334.5 1148.3 331.5 1148.3 324.5 1145.3 305.5 1146.3 304.5 1147.3 292.5 1147.3 290.5 1148.3 277.7 1141.5 277.6 1139.5 284.6 1129.5 284.6 1127.5 279.6 1117.5 279.6 1115.5 275.6 1107.5 275.6 1105.5 265.6 1088.5 265.6 1086.5 264.6 1085.5 263.6 1080.5 262.6 1079.5 262.6 1077.5 258.6 1067.5 253.6 1050.5 252.6 1049.5 252.6 1047.5 251.6 1046.5 251.6 1043.5 247.6 1032.5 245.6 1022.5 241.6 1012.5 241.6 1009.5 240.6 1008.5 239.6 1003.5 238.6 1002.5 238.6 996.5 237.6 995.5 236.6 984.5 223.6 963.5 218.6 957.5 217.6 944.5 213.6 936.5 212.6 930.5 211.6 929.5 210.6 920.5 208.6 915.5 208.6 911.5 206.6 906.5 205.6 898.5 204.6 897.5 204.6 888.5 203.6 887.5 203.6 885.5 189.6 871.5 189.6 870.5 182.5 862.4 180.5 862.4 177.5 860.4 174.5 863.4 173.5 863.4 167.4 868.5 167.4 912.5 164.4 916.5 164.4 962.5 163.4 963.5 163.4 965.5 164.4 966.5 164.4 975.5 165.4 976.5 165.4 985.5 166.4 986.5 167.4 1003.5 170.4 1011.5 173.4 1026.5 174.4 1027.5 174.4 1056.5 175.4 1057.5 175.4 1064.5 181.4 1077.5 182.4 1092.5 183.4 1093.5 183.4 1101.5 184.4 1102.5 181.5 1104.4 158.5 1105.4 156.4 1107.5 156.4 1109.5 148.3 1126.5 148.2 1155.5 148.2 1189.5 149.2 1190.5 149.2 1193.5 150.2 1194.5 153.2 1209.5 155.2 1213.5 155.2 1217.5 156.2 1218.5 156.3 1222.5 157.2 1223.5 157.3 1228.5 158.3 1229.5 158.3 1233.5 159.3 1234.5 159.3 1238.5 160.3 1239.5 160.3 1243.5 161.3 1244.5 161.3 1249.5 162.3 1250.5 162.3 1254.5 163.3 1255.5 163.3 1269.5 164.3 1270.5 164.3 1287.5 165.3 1288.5 165.4 1298.5 166.4 1299.5 166.4 1305.5 167.4 1306.5 167.4 1311.5 168.4 1312.5 168.4 1317.5 169.4 1318.5 169.4 1323.5 170.4 1324.5 170.4 1333.5 171.4 1334.5 171.4 1343.5 172.4 1345.5 145.3 1380.5 145.2 1397.5 144.2 1398.5 144.3 1434.5Z" fill="#f7d200" fill-rule="evenodd"/><path d="M623.7 1434.5 623.7 1432.5 624.7 1431.5 624.7 1421.5 625.7 1420.5 626.7 1408.5 627.7 1406.5 626.5 1405.3 623.5 1405.3 619.5 1403.3 616.5 1403.3 611.5 1401.3 594.5 1388.4 592.5 1388.4 591.5 1387.4 586.5 1387.4 585.5 1386.4 581.5 1386.4 580.5 1385.4 576.5 1385.4 575.5 1384.4 565.5 1383.4 564.5 1382.4 560.5 1382.4 559.5 1381.4 555.5 1381.4 554.5 1380.4 550.5 1380.4 549.5 1379.4 545.5 1379.4 544.5 1378.4 540.5 1378.4 539.5 1377.4 535.5 1377.4 534.5 1376.4 530.5 1376.4 529.5 1375.4 525.5 1375.4 524.5 1374.4 520.5 1374.4 519.5 1373.4 515.5 1373.4 514.5 1372.4 507.5 1372.4 506.5 1371.4 498.5 1371.4 497.5 1370.4 490.5 1370.4 489.5 1369.4 481.5 1369.4 480.5 1368.5 476.5 1368.4 469.6 1361.5 453.6 1337.5 452.6 1333.5 450.6 1330.5 448.6 1322.5 446.6 1319.5 446.6 1317.5 443.6 1310.5 443.6 1305.5 442.6 1304.5 442.6 1299.5 441.6 1298.5 441.6 1293.5 440.6 1292.5 439.6 1283.5 436.7 1278.5 436.7 1276.5 433.7 1271.5 433.7 1269.5 426.7 1256.5 425.7 1249.5 424.7 1248.5 424.7 1244.5 423.7 1243.5 423.7 1239.5 422.7 1238.5 422.7 1234.5 411.7 1218.5 399.7 1193.5 395.7 1188.5 394.7 1185.5 388.7 1176.5 384.5 1172.3 380.5 1170.3 366.5 1159.3 364.5 1159.3 351.5 1153.3 348.5 1153.3 347.5 1152.3 342.5 1151.3 341.5 1150.3 338.5 1150.3 334.5 1148.3 331.5 1148.3 324.5 1145.3 305.5 1146.3 304.5 1147.3 292.5 1147.3 290.5 1148.3 277.6 1141.5 277.6 1139.5 284.6 1129.5 284.6 1127.5 279.6 1117.5 279.6 1115.5 275.5 1107.5 275.5 1105.5 265.5 1088.5 263.5 1080.5 262.5 1079.5 262.5 1077.5 261.5 1076.5 257.5 1062.5 251.5 1046.5 251.5 1043.5 250.5 1042.5 249.5 1036.5 247.5 1032.5 247.5 1029.5 245.5 1025.5 245.5 1022.5 241.5 1012.5 241.5 1009.5 239.5 1005.5 239.5 1003.5 238.5 1002.5 238.5 996.5 237.5 995.5 236.5 984.5 225.5 966.5 218.5 957.5 217.5 944.5 213.5 936.5 212.5 930.5 211.5 929.5 210.5 920.5 209.5 919.5 208.5 911.5 206.5 906.5 206.5 902.5 204.5 897.5 204.5 888.5 203.5 887.5 203.5 885.5 189.5 871.5 189.5 870.5 182.5 862.5 180.5 862.5 177.5 860.5 173.5 863.5 167.5 868.5 167.5 912.5 164.5 916.5 164.5 962.5 163.5 963.5 163.5 965.5 164.5 966.5 164.5 975.5 165.5 976.5 165.5 985.5 166.5 986.5 167.5 1003.5 168.5 1004.5 168.5 1007.5 170.5 1011.5 171.5 1018.5 172.5 1019.5 172.5 1022.5 174.5 1027.5 174.5 1056.5 175.5 1057.5 175.5 1064.5 181.5 1077.5 182.5 1092.5 183.5 1093.5 183.4 1101.5 184.4 1102.5 181.5 1104.4 158.5 1105.4 156.4 1107.5 156.4 1109.5 148.4 1126.5 148.2 1156.5 148.2 1189.5 149.2 1190.5 149.3 1193.5 150.3 1194.5 153.3 1209.5 155.3 1213.5 155.3 1217.5 156.3 1218.5 156.3 1222.5 157.3 1223.5 157.3 1228.5 158.3 1229.5 158.3 1233.5 159.3 1234.5 159.3 1238.5 160.3 1239.5 160.3 1243.5 161.3 1244.5 161.3 1249.5 162.3 1250.5 162.3 1254.5 163.3 1255.5 163.4 1269.5 164.4 1270.5 164.4 1287.5 165.4 1288.5 165.4 1298.5 166.4 1299.5 166.4 1305.5 167.4 1306.5 167.4 1311.5 168.4 1312.5 168.4 1317.5 169.4 1318.5 169.4 1323.5 170.4 1324.5 170.4 1333.5 171.4 1334.5 171.4 1343.5 172.4 1345.5 145.4 1380.5 145.3 1397.5 144.3 1398.5 144.3 1434.5Z" fill="#f4c200" fill-rule="evenodd"/><path d="M623.7 1434.5 623.7 1432.5 624.7 1431.5 624.7 1421.5 625.7 1420.5 626.6 1408.5 627.6 1406.5 626.5 1405.4 623.5 1405.4 619.5 1403.4 616.5 1403.4 611.5 1401.4 594.5 1388.4 592.5 1388.4 591.5 1387.4 586.5 1387.4 585.5 1386.4 581.5 1386.4 580.5 1385.4 576.5 1385.4 575.5 1384.4 565.5 1383.4 564.5 1382.4 560.5 1382.4 559.5 1381.4 555.5 1381.4 554.5 1380.5 550.5 1380.4 549.5 1379.5 545.5 1379.5 544.5 1378.5 540.5 1378.5 539.5 1377.5 535.5 1377.5 534.5 1376.5 530.5 1376.5 529.5 1375.5 525.5 1375.5 524.5 1374.5 520.5 1374.5 519.5 1373.5 515.5 1373.5 514.5 1372.5 507.5 1372.5 506.5 1371.5 498.5 1371.5 497.5 1370.5 490.5 1370.5 489.5 1369.5 481.5 1369.5 480.5 1368.5 476.5 1368.5 469.5 1361.5 453.5 1337.5 452.5 1333.5 450.6 1330.5 448.6 1322.5 446.6 1319.5 446.6 1317.5 443.6 1310.5 443.6 1305.5 442.6 1304.5 442.6 1299.5 441.6 1298.5 441.6 1293.5 440.6 1292.5 439.6 1283.5 436.6 1278.5 436.6 1276.5 433.6 1271.5 433.6 1269.5 426.7 1256.5 425.7 1249.5 424.7 1248.5 424.7 1244.5 423.7 1243.5 423.7 1239.5 422.7 1238.5 422.7 1234.5 411.7 1218.5 399.7 1193.5 395.7 1188.5 394.7 1185.5 388.7 1176.5 384.5 1172.3 380.5 1170.3 366.5 1159.3 364.5 1159.3 351.5 1153.3 348.5 1153.3 347.5 1152.3 342.5 1151.3 341.5 1150.3 338.5 1150.3 334.5 1148.3 331.5 1148.3 324.5 1145.4 305.5 1146.4 304.5 1147.4 292.5 1147.4 290.5 1148.4 277.6 1141.5 277.6 1139.5 284.6 1129.5 284.6 1127.5 279.5 1117.5 279.5 1115.5 275.5 1107.5 275.5 1105.5 265.5 1088.5 265.5 1086.5 264.5 1085.5 263.5 1080.5 258.5 1067.5 252.5 1047.5 251.5 1046.5 251.5 1043.5 247.5 1032.5 245.5 1022.5 244.5 1021.5 243.5 1016.5 241.5 1012.5 241.5 1009.5 238.5 1002.5 238.5 996.5 237.5 995.5 236.5 984.5 223.5 963.5 218.5 957.5 217.5 944.5 213.5 936.5 212.5 930.5 211.5 929.5 210.5 920.5 209.5 919.5 208.5 911.5 206.5 906.5 206.5 902.5 204.5 897.5 204.5 888.5 203.5 887.5 203.5 885.5 189.5 871.5 189.5 870.5 182.5 862.5 180.5 862.5 177.5 860.5 174.5 863.5 173.5 863.5 167.5 868.5 167.5 912.5 164.5 916.5 164.5 962.5 163.5 963.5 163.5 965.5 164.5 966.5 164.5 975.5 165.5 976.5 165.5 985.5 166.5 986.5 167.5 1003.5 168.5 1004.5 168.5 1007.5 170.5 1011.5 171.5 1018.5 172.5 1019.5 172.5 1022.5 174.5 1027.5 174.5 1056.5 175.5 1057.5 175.5 1064.5 181.5 1077.5 182.5 1092.5 183.5 1093.5 183.5 1101.5 184.5 1102.5 181.5 1104.5 158.5 1105.5 156.5 1107.5 156.5 1109.5 148.4 1126.5 148.3 1157.5 148.3 1189.5 149.3 1190.5 149.3 1193.5 150.3 1194.5 153.3 1209.5 155.3 1213.5 155.3 1217.5 156.3 1218.5 156.3 1222.5 157.3 1223.5 157.3 1228.5 158.3 1229.5 158.3 1233.5 159.3 1234.5 159.3 1238.5 160.3 1239.5 160.3 1243.5 161.3 1244.5 161.4 1249.5 162.4 1250.5 162.4 1254.5 163.4 1255.5 163.4 1269.5 164.4 1270.5 164.4 1287.5 165.4 1288.5 165.4 1298.5 166.4 1299.5 166.4 1305.5 167.4 1306.5 167.4 1311.5 168.4 1312.5 168.4 1317.5 169.4 1318.5 169.5 1323.5 170.5 1324.5 170.5 1333.5 171.5 1334.5 171.5 1343.5 172.5 1345.5 145.4 1380.5 145.3 1397.5 144.3 1398.5 144.4 1434.5Z" fill="#f0b200" fill-rule="evenodd"/><path d="M623.6 1434.5 623.6 1432.5 624.6 1431.5 624.7 1421.5 625.6 1420.5 626.6 1408.5 627.6 1406.5 626.5 1405.4 623.5 1405.4 619.5 1403.4 616.5 1403.4 611.5 1401.4 594.5 1388.5 513.5 1373 498.5 1372 496.5 1371.1 481.5 1370.2 475.5 1368.9 469.3 1362.5 452.5 1335.5 452.5 1333.5 450.5 1330.5 448.5 1322.5 446.5 1319.5 446.5 1317.5 443.5 1310.5 443.5 1305.5 442.5 1304.5 442.6 1299.5 441.6 1298.5 441.6 1293.5 440.6 1292.5 439.6 1283.5 436.6 1278.5 436.6 1276.5 433.6 1271.5 433.6 1269.5 425.6 1253.5 425.6 1249.5 424.6 1248.5 422.6 1234.5 411.6 1218.5 399.6 1193.5 395.7 1188.5 394.6 1185.5 388.6 1176.5 384.5 1172.4 380.5 1170.4 368.5 1160.4 364.5 1159.4 361.5 1157.4 359.5 1157.4 351.5 1153.4 348.5 1153.4 347.5 1152.4 342.5 1151.4 341.5 1150.4 338.5 1150.4 334.5 1148.4 331.5 1148.4 324.5 1145.4 305.5 1146.4 304.5 1147.4 292.5 1147.4 290.5 1148.4 277.5 1141.5 277.5 1139.5 284.5 1129.5 284.5 1127.5 274.5 1106.5 263.8 1089.5 258.3 1074.5 248.8 1047.5 235.5 1003.5 233.4 986.5 215.5 958.5 214.4 946.5 208.5 930.5 207.4 922.5 201.5 898.5 201.4 890.5 200.4 887.5 187.5 874.3 181.5 866.3 178.5 865.1 175.5 866.5 170.6 871.5 170.6 912.5 167.6 918.5 167.1 964.5 170.6 1001.5 177.4 1026.5 177.4 1054.5 178.4 1057.5 178.3 1062.5 183.7 1076.5 184.7 1093.5 183.9 1100.5 184.6 1102.5 181.5 1104.5 159.5 1106 157.5 1107.5 153.5 1114.5 153.5 1116.5 148.4 1126.5 148.3 1141.5 148.3 1189.5 149.3 1190.5 149.3 1193.5 150.3 1194.5 153.3 1209.5 155.3 1213.5 155.3 1217.5 156.3 1218.5 156.4 1222.5 157.4 1223.5 157.4 1228.5 158.4 1229.5 158.4 1233.5 159.4 1234.5 159.4 1238.5 160.4 1239.5 160.4 1243.5 161.4 1244.5 161.4 1249.5 162.4 1250.5 162.4 1254.5 163.4 1255.5 163.4 1269.5 164.4 1270.5 164.5 1287.5 165.5 1288.5 165.5 1298.5 166.5 1299.5 166.5 1305.5 167.5 1306.5 167.5 1311.5 168.5 1312.5 168.5 1317.5 169.5 1318.5 169.5 1323.5 170.5 1324.5 170.6 1332.5 171.6 1334.5 171.9 1342.5 173 1345.5 145.4 1380.5 145.3 1397.5 144.3 1398.5 144.4 1434.5Z" fill="#eda400" fill-rule="evenodd"/><path d="M623.6 1434.5 623.6 1432.5 624.6 1431.5 624.6 1421.5 625.6 1420.5 626.6 1408.5 627.6 1406.5 626.5 1405.4 623.5 1405.4 619.5 1403.4 616.5 1403.4 611.5 1401.4 594.5 1388.9 513.5 1373.9 481.5 1371.1 474.7 1369.5 468.5 1363 452 1336.5 446.3 1319.5 444.5 1311.5 443.5 1310.5 443.5 1305.5 442.5 1304.5 442.5 1299.5 441.5 1298.5 441.5 1293.5 440.5 1292.5 439.5 1283.5 436.5 1278.5 436.5 1276.5 433.6 1271.5 433.6 1269.5 426.6 1256.5 425.6 1249.5 424.6 1248.5 424.6 1244.5 423.6 1243.5 423.6 1239.5 422.6 1238.5 422.6 1234.5 411.6 1218.5 399.6 1193.5 395.6 1188.5 394.6 1185.5 388.6 1176.5 384.5 1172.4 380.5 1170.4 368.5 1160.4 364.5 1159.4 361.5 1157.4 359.5 1157.4 351.5 1153.4 348.5 1153.4 347.5 1152.4 342.5 1151.4 341.5 1150.4 338.5 1150.4 334.5 1148.4 331.5 1148.4 324.5 1145.4 305.5 1146.4 304.5 1147.4 292.5 1147.5 290.5 1148.5 277.5 1141.6 277.5 1139.1 284 1128.5 273.2 1106.5 263.1 1090.5 258.2 1077.5 247.9 1048.5 234.3 1003.5 232.1 986.5 214.5 959.5 213 946.5 207.2 930.5 200.2 898.5 200 890.5 198.9 887.5 186.5 875.1 180.5 867.1 178.5 866.5 175.5 868.1 171.9 872.5 171.9 912.5 168.9 919.5 168.5 964.5 171.9 1001.5 178.7 1026.5 178.6 1054.5 179.5 1056.5 179.5 1062.5 184.9 1076.5 185.6 1102.5 184.5 1104 181.5 1105.2 159.5 1107 157.8 1108.5 148.5 1126.5 148.3 1152.5 148.3 1189.5 149.3 1190.5 149.4 1193.5 150.3 1194.5 153.4 1209.5 155.4 1213.5 155.4 1217.5 156.4 1218.5 156.4 1222.5 157.4 1223.5 157.4 1228.5 158.4 1229.5 158.4 1233.5 159.4 1234.5 159.4 1238.5 160.4 1239.5 160.4 1243.5 161.4 1244.5 161.4 1249.5 162.4 1250.5 162.4 1254.5 163.4 1255.5 164.5 1287.5 165.5 1288.5 165.7 1297.5 171.2 1324.5 171.5 1332.5 172.6 1334.5 172.9 1342.5 173.9 1345.5 167.5 1354.8 145.5 1380.5 145.4 1397.5 144.4 1398.5 144.4 1434.5Z" fill="#e99600" fill-rule="evenodd"/><path d="M623.6 1434.5 623.6 1432.5 624.6 1431.5 624.6 1421.5 625.6 1420.5 626.5 1408.5 627.5 1406.5 626.5 1405.5 623.5 1405.5 619.5 1403.5 616.5 1403.5 611.5 1401.5 605.5 1396.5 593.5 1389.5 512.5 1374.8 481.5 1372.1 474.3 1370.5 467.5 1363.5 450.9 1336.5 442.7 1310.5 439.2 1283.5 433.5 1271.5 433.5 1269.5 426.5 1256.5 425.5 1249.5 424.6 1248.5 424.6 1244.5 423.6 1243.5 423.6 1239.5 422.6 1238.5 422.6 1234.5 411.6 1218.5 399.6 1193.5 395.6 1188.5 394.6 1185.5 388.6 1176.5 384.5 1172.4 380.5 1170.4 368.5 1160.4 364.5 1159.4 361.5 1157.4 359.5 1157.4 351.5 1153.4 348.5 1153.4 347.5 1152.4 342.5 1151.4 341.5 1150.4 338.5 1150.4 334.5 1148.4 331.5 1148.4 324.5 1145.5 305.5 1146.5 304.5 1147.5 292.5 1147.5 290.5 1148.5 276.8 1142.5 276.5 1138.5 282.8 1128.5 271.3 1105.5 261.7 1090.5 256.1 1075.5 246.4 1048.5 233.1 1004.5 230.5 986.5 213 959.5 211.7 947.5 206 931.5 198.8 898.5 198.7 891.5 197.8 888.5 185.5 876 179.9 868.5 178.5 868 176.5 869.1 173.3 872.5 173.3 912.5 170.3 919.5 170.3 972.5 171.2 975.5 173.2 1000.5 180.1 1026.5 180 1053.5 181 1062.5 186.2 1076.5 186.6 1102.5 185.5 1104.4 182.5 1105.9 172.5 1106.4 159 1108.5 148.5 1127.5 148.4 1153.5 148.4 1189.5 149.4 1190.5 149.4 1193.5 150.4 1194.5 153.4 1209.5 155.4 1213.5 155.4 1217.5 156.4 1218.5 156.4 1222.5 157.4 1223.5 157.4 1228.5 158.4 1229.5 158.4 1233.5 159.4 1234.5 159.4 1238.5 160.4 1239.5 160.5 1243.5 161.5 1244.5 161.5 1249.5 162.5 1250.5 162.5 1254.5 163.5 1255.5 163.5 1269.3 164.5 1270.5 166.6 1297.5 172.2 1324.5 172.5 1331.5 175 1345.5 171.5 1351.5 145.6 1381.5 145.4 1397.5 144.4 1398.5 144.5 1434.5Z" fill="#e68900" fill-rule="evenodd"/><path d="M623.5 1434.5 623.5 1432.5 624.5 1431.5 624.6 1421.5 625.5 1420.5 625.5 1415.5 626.5 1414.5 626.6 1406.5 611 1401.5 593.5 1390.4 512.5 1375.8 480.5 1373.1 473.5 1371.3 466.8 1364.5 449.8 1336.5 441.9 1311.5 438.5 1284.5 425.5 1253.5 425.5 1249.5 424.5 1248.5 422.5 1234.5 411.5 1218.5 399.5 1193.5 395.5 1188.5 394.5 1185.5 388.5 1176.5 384.5 1172.5 380.5 1170.5 368.5 1160.5 364.5 1159.5 361.5 1157.5 359.5 1157.5 354.5 1154.5 348.5 1153.5 341.5 1150.5 331.5 1148.5 324.5 1145.5 293.5 1148.3 290.5 1149.3 276.4 1143.5 275.3 1138.5 281.3 1128.5 271 1107.5 260.7 1091.5 253.5 1072.5 244.8 1048.5 231.5 1004.5 229.2 987.5 211.7 960.5 210.2 947.5 205.4 935.5 197.4 899.5 197.2 891.5 195.7 888.5 184.5 877.3 179.2 870.5 178.5 869.8 177.3 870.5 174.8 873.5 174.8 913.5 171.8 919.5 171.8 972.5 174.8 1000.5 181.6 1026.5 181.5 1053.5 182.3 1061.5 187.7 1076.5 187.7 1102.5 186.5 1104.8 182.5 1106.8 172.5 1107.3 159.7 1109.5 149.4 1127.5 148.5 1133.1 148.4 1157.5 148.4 1189.5 149.4 1190.5 149.4 1193.5 150.4 1194.5 153.4 1209.5 155.4 1213.5 155.4 1217.5 156.4 1218.5 156.5 1222.5 157.5 1223.5 157.5 1228.5 158.5 1229.5 158.5 1233.5 159.5 1234.5 159.5 1238.5 160.5 1239.5 160.5 1243.5 161.5 1244.5 161.5 1249.5 162.5 1250.5 163.6 1255.5 167.5 1296.5 173 1323.5 173.5 1331.5 176.1 1345.5 175.5 1347.9 172.2 1352.5 146.5 1381.5 145.4 1397.5 144.4 1398.5 144.5 1434.5Z" fill="#e27d00" fill-rule="evenodd"/><path d="M623.4 1434.5 623.5 1432.5 624.5 1431.5 624.5 1421.5 625.5 1420.5 626.2 1413.5 625.5 1407.1 610.5 1402.2 593.5 1391.5 512.5 1376.9 480.5 1374.2 472.5 1372.1 465.5 1364.9 448.9 1337.5 440.8 1311.5 437.3 1284.5 425.9 1256.5 422.1 1235.5 416.5 1225.5 414.5 1223.5 413.5 1220.5 411.5 1218.5 399.5 1193.5 395.5 1188.5 394.5 1185.5 388.5 1176.5 384.5 1172.5 380.5 1170.5 368.5 1160.5 351.5 1153.6 348.5 1153.5 323.5 1146.3 289.5 1150.1 276.5 1144.9 274.9 1143.5 274.1 1138.5 278.6 1130.5 279.4 1127.5 268.8 1106.5 259 1091.5 250.9 1070.5 243.3 1049.5 229.9 1005.5 227.2 987.5 209.8 960.5 208.2 947.5 203.8 936.5 195.6 899.5 195.2 891.5 178.5 872.7 177.5 872.8 176.6 874.5 176.6 913.5 173.6 920.5 173.6 971.5 176.7 1000.5 183.4 1026.5 183.2 1052.5 184.2 1061.5 189 1074.5 189.8 1082.5 189 1101.5 187.2 1105.5 182.5 1107.8 172.5 1108.3 160.6 1110.5 150.1 1128.5 148.5 1138.4 148.4 1164.5 148.4 1189.5 149.4 1190.5 149.5 1193.5 150.4 1194.5 153.5 1209.5 155.5 1213.5 155.5 1217.5 156.5 1218.5 156.5 1222.5 157.5 1223.5 157.5 1228.5 158.5 1229.5 164.4 1255.5 168.5 1296.5 174.2 1323.5 177.3 1346.5 176 1349.5 170.4 1356.5 147.5 1381.7 145.5 1397.5 144.5 1398.5 144.5 1429.1 145.2 1434.5Z" fill="#df7100" fill-rule="evenodd"/><path d="M622.6 1434.5 623.9 1430.5 624.1 1421.5 624.9 1419.5 624.5 1407.7 610.5 1403.1 592.5 1392.1 511.5 1378 480.5 1375.5 471.5 1373 464.5 1366.1 447.6 1337.5 439.7 1311.5 436.5 1285.5 425.2 1257.5 421.2 1235.5 411.4 1219.5 399 1194.5 387.2 1176.5 367.9 1161.5 350.5 1154.4 322.5 1147.2 289.5 1151.2 274.1 1144.5 272.8 1141.5 272.9 1137.5 277.5 1129.5 277.8 1127.5 267.6 1107.5 257.6 1092.5 248.9 1070.5 241.2 1049.5 227.7 1005.5 225.3 988.5 208 961.5 206.3 948.5 201.7 936.5 193.6 900.5 192.9 891.5 179.5 876.9 178.7 878.5 178.7 913.5 175.7 921.5 175.7 971.5 178.7 999.5 185.4 1025.5 185.3 1052.5 186.1 1060.5 191.1 1075.5 191.6 1082.5 190.4 1101.5 188.5 1105.8 183.5 1108.6 161.5 1111.3 151.1 1128.5 148.5 1143.8 148.4 1160.5 148.5 1189.5 149.5 1190.5 152.5 1205.5 155.6 1213.5 165.3 1255.5 169.6 1296.5 175.4 1323.5 178.7 1346.5 177.8 1349.5 174.5 1353.8 148.3 1382.5 144.5 1402.8 144.5 1421.2 146.2 1434.5Z" fill="#db6600" fill-rule="evenodd"/><path d="M621.6 1434.5 623 1429.5 623.9 1419.5 623.6 1408.5 609.5 1403.6 592.5 1393.2 511.5 1379.2 474.5 1375.8 471.1 1374.5 467.3 1371.5 462.8 1366.5 446.4 1338.5 438.7 1312.5 435.4 1285.5 424.2 1257.5 420.1 1235.5 410.3 1219.5 398.1 1194.5 386.5 1177.1 367.5 1162.3 350.5 1155.5 322.5 1148.2 289.5 1152.3 275.5 1147.2 273.1 1145.5 271.5 1142.5 271.3 1137.5 276 1127.5 266 1108.5 255.8 1093.5 246.8 1071.5 239 1050.5 225.4 1006.5 222.8 989.5 215.5 977.5 208.1 967.5 205.3 961.5 203.6 948.5 199.3 937.5 191 900.5 190.6 892.5 181.5 883.4 181.3 913.5 180.4 917.5 178.3 921.5 178.3 970.5 181.3 999.5 188 1025.5 187.8 1051.5 188.6 1060.5 193.3 1074.5 193.7 1082.5 192 1101.5 189.5 1106.5 184.5 1109.4 162.2 1112.5 152.1 1128.5 148.7 1148.5 148.5 1157.5 148.7 1188.5 156.4 1213.5 166.1 1254.5 170.7 1295.5 176.7 1323.5 180.3 1346.5 179.1 1350.5 175.9 1354.5 149.4 1382.5 146.8 1397.5 145.7 1399.5 145 1407.5 145.3 1420.5 147.1 1434.5Z" fill="#d75c00" fill-rule="evenodd"/><path d="M620.6 1434.5 622.1 1429.5 623 1418.5 622.7 1409.5 609.5 1404.6 591.5 1394 511.5 1380.5 474.5 1377.3 470.5 1376 465.7 1372.5 461.2 1367.5 445.1 1339.5 437.3 1312.5 434 1285.5 423.2 1257.5 419.4 1236.5 409.8 1220.5 396.9 1194.5 385.6 1177.5 366.5 1163 352.5 1157.2 339.5 1153.5 322.5 1149.3 289.5 1153.6 274.5 1148.3 271.5 1146 269.7 1142.5 269.4 1137.5 274 1127.5 264.1 1109.5 253 1093.5 236.1 1051.5 222.3 1007.5 219.6 990.5 202.9 964.5 200.5 949.5 194.9 933.5 187.7 900.5 187.5 894.5 185.5 892 184.6 892.5 184.4 914.5 181.6 922.5 181.5 970.5 184.5 998.5 191.2 1025.5 190.9 1051.5 191.5 1059.5 196.1 1074.5 195.2 1092.5 193.2 1103.5 189.1 1108.5 182.5 1111.1 163.5 1113.2 160.5 1117 152.9 1129.5 150 1144.5 148.5 1158.8 149.5 1188.5 157 1212.5 167.1 1254.5 172 1295.5 178.1 1323.5 182 1347.5 180.1 1352.5 150.4 1383.5 146.5 1400.5 145.9 1407.5 146.2 1420.5 148.2 1434.5Z" fill="#d35300" fill-rule="evenodd"/><path d="M619.6 1434.5 621 1429.5 621.7 1410.5 608.5 1405.2 591.5 1395.2 572.5 1391.3 511.5 1381.9 473.5 1378.7 468.5 1376.9 462.4 1372.5 453.9 1359.5 443.2 1339.5 435.8 1312.5 432.9 1286.5 422.3 1258.5 418.2 1236.5 408.7 1220.5 396.4 1195.5 385 1178.5 366.5 1164.1 349.5 1157.3 321.5 1150.4 288.5 1154.8 273.5 1149.7 269.5 1146.5 267.6 1142.5 267.2 1137.5 271.4 1127.5 271.1 1126.5 261.7 1110.5 250.5 1095.2 236.9 1064.5 232.1 1052.5 218 1008.5 215.4 992.5 208.9 981.5 201.5 971.5 198.1 964.5 195.8 949.5 191.8 939.5 187.5 920.7 186 924.5 186 969.5 188.9 997.5 195.6 1025.5 195.7 1058.5 199.7 1073.5 199.6 1081.5 198.1 1091.5 195.6 1102.5 191.4 1108.5 183.5 1112.2 164.5 1114.4 157.5 1123.8 154.1 1129.5 151.8 1139.5 149.7 1153.5 149.1 1165.5 150.3 1187.5 158 1212.5 168.2 1254.5 173.4 1295.5 184.1 1347.5 182 1353.5 151.7 1383.5 147.4 1400.5 146.8 1407.5 147.1 1420.5 149.3 1434.5 299.9 1434.5 312.5 1433.3 326.4 1434.5Z" fill="#d04a00" fill-rule="evenodd"/><path d="M618.4 1434.5 620 1428.5 620.5 1411.1 608.5 1406.4 590.5 1396 551.5 1389 510.5 1383.1 472.5 1380.2 466.5 1378 458.6 1372.5 441.3 1340.5 434.2 1313.5 431.4 1286.5 421.1 1258.5 417.2 1237.5 408 1221.5 395.5 1196.3 389.9 1187.5 382.5 1177.5 370.5 1168.5 365.5 1164.9 352.5 1159.6 321.5 1151.7 288.5 1156.3 272.5 1151.3 268.3 1148.5 265.3 1143.5 264.5 1137.5 267.8 1126.5 258.3 1111.5 247.2 1096.5 234.3 1072.5 226.2 1054.5 214.8 1021.5 210.7 1008.5 208.4 994.5 194.5 973.9 194.2 978.5 196.2 997.5 202.5 1024.5 201.6 1049.5 202.1 1057.5 205.1 1070.5 204.2 1081.5 198.5 1101.5 193.9 1108.5 190.5 1110.9 184.5 1113.3 165.5 1115.8 158.6 1124.5 155.3 1129.5 153.1 1138.5 150.8 1151.5 149.9 1163.5 151.2 1187.5 159 1212.5 169.3 1254.5 174.8 1294.5 186.2 1343.5 186.6 1349.5 184.4 1354.5 152.8 1384.5 148.5 1400.5 147.7 1408.5 148.2 1421.5 150.6 1434.5 284.6 1434.5 312.5 1431 343.5 1434.5Z" fill="#cc4200" fill-rule="evenodd"/><path d="M617.1 1434.5 618.8 1428.5 619.1 1411.5 607.5 1407.1 590.5 1397.4 572.5 1393.7 520.5 1385.8 471.5 1381.8 465.5 1379.9 455.5 1374.2 445.8 1356.5 438.9 1341.5 432.3 1313.5 429.7 1286.5 420 1259.5 415.8 1237.5 406.7 1221.5 394.3 1196.5 382.8 1179.5 364.5 1165.8 351.5 1160.6 338.5 1157 321.5 1153.1 288.5 1158 272.5 1153.7 267.9 1151.5 263.3 1146.5 261.1 1139.5 261.1 1133.5 263.3 1126.5 254.5 1113.1 217.5 1064.3 212.4 1080.5 202 1101.5 197.7 1107.5 192.8 1111.5 186.5 1114.1 165.8 1117.5 156.8 1129.5 153 1143.5 151.1 1157.5 150.8 1169.5 152.2 1187.5 160 1212.5 170.6 1254.5 176.4 1294.5 184.5 1328.5 189.1 1343.5 189.9 1349.5 189.3 1353.5 187.5 1355.7 154.4 1384.5 149.4 1401.5 148.8 1408.5 149.3 1421.5 152 1434.5 272.4 1434.5 313.5 1428.1 356.8 1434.5Z" fill="#c83b00" fill-rule="evenodd"/><path d="M615.7 1434.5 617.5 1428.5 617.7 1412.5 607.5 1408.4 589.5 1398.3 525.5 1387.8 510.5 1386 470.5 1383.5 463.5 1381.5 450.5 1375.5 436.2 1343.5 430.2 1314.5 428.1 1287.5 418.5 1259.5 414.5 1238.3 393.4 1197.5 386.1 1186.5 380.9 1179.5 364.5 1167.4 348.5 1161.1 321.5 1154.7 288.5 1160 266.5 1154.3 261.5 1150.5 258.5 1145.8 256.5 1135.5 256.8 1126.5 250.8 1115.5 234.5 1097.4 223.5 1088.6 213.5 1094.4 202.4 1106.5 195.5 1112 185.5 1116 166.5 1119.1 158.4 1129.5 154.5 1141.9 152.1 1156.5 151.7 1168.5 153.1 1186.5 161.2 1212.5 171.7 1253.5 178.4 1294.5 187.1 1328.5 193.7 1346.5 194.5 1353.5 191 1357.5 166.5 1375.9 155.7 1385.5 150.6 1401.5 149.9 1408.5 150.5 1421.5 153.5 1434.5 261.6 1434.5 314.5 1424.2 368.1 1434.5Z" fill="#c33400" fill-rule="evenodd"/><path d="M614.2 1434.5 616.1 1427.5 616 1413.5 606.5 1409.4 588.5 1399.4 555.5 1393.4 525.5 1389.2 509.5 1387.4 469.5 1385.2 449 1379.5 442.1 1376.5 432.5 1345.5 427.7 1315.5 426.1 1288.5 417.1 1260.5 413 1238.5 392.9 1199.5 385.1 1187.5 379.9 1180.5 363.5 1168.5 348.5 1162.7 321.5 1156.6 287.5 1162.2 268.5 1158.9 261.5 1156.5 259 1154.5 255.1 1146.5 252.4 1136.5 251.1 1126.5 248.4 1121.5 237.5 1109 225.5 1100.4 214.5 1103.1 199 1112.5 191.5 1115.9 168 1120.5 159.5 1130.5 155.5 1142.8 153.1 1156.5 152.7 1168.5 154.2 1186.5 162.1 1211.5 173.2 1253.5 178 1282.5 185.2 1312.5 190.3 1328.5 202.7 1354.5 196.2 1359.5 172.5 1374 157.5 1386.1 152 1401.5 151.1 1409.5 152 1422.5 155.5 1434 251.2 1434.5 282.9 1428.5 316.5 1418 344.6 1427.5 378.5 1434.5Z" fill="#bf2d00" fill-rule="evenodd"/><path d="M607.7 1434.5 612.7 1433.5 614.6 1427.5 614.3 1414.5 587.5 1400.6 529.5 1391.2 509.5 1389 469.5 1387.2 441.5 1382.1 426.9 1380.5 428.5 1365.5 424.6 1315.5 424.1 1292.5 420 1274.5 414.6 1257.5 411.5 1239.5 391.5 1200.1 385.5 1190.8 378.5 1181.5 362.5 1169.8 347.5 1164.2 321.5 1158.6 310.5 1160 287.5 1164.9 260.5 1162.9 252.1 1149.5 244.3 1125.5 236.8 1116.5 226.5 1109.1 220.5 1108.6 214.5 1109.3 191.5 1117.9 169.5 1122 161.4 1130.5 156.6 1143.5 154.2 1156.5 153.8 1168.5 155.4 1186.5 163.4 1211.5 174.8 1253.5 180 1282.5 187.9 1312.5 193.7 1327.5 201.5 1339.2 212.5 1349 218.5 1351.9 226.5 1354 228.3 1357.5 211.5 1360 193.5 1366 174.5 1375.5 159.4 1386.5 153.5 1401.5 152.5 1408.5 153 1420.5 156.5 1432.6 169.7 1434.5 240.2 1434.5 258.5 1431.7 280.1 1426.5 298.2 1419.5 310.3 1411.5 316.5 1402.9 331.9 1405.5 330.2 1410.5 331.7 1414.5 337.3 1419.5 345.1 1423.5 363.7 1429.5 388.3 1434.5Z" fill="#bb2800" fill-rule="evenodd"/><path d="M226.8 1434.5 250.4 1431.5 270.5 1426.7 285.8 1420.5 295.6 1413.5 298.6 1409.5 300.1 1405.5 300.3 1401.5 299.2 1397.5 296.5 1392.8 292.5 1388.5 280.9 1380.5 282.5 1379.5 296.5 1375.9 309.5 1383.2 323.5 1388.4 338.5 1391.6 353.5 1392.5 366.5 1391.6 379.5 1388.9 391.6 1384.5 402.5 1378.5 408.5 1372.5 412.7 1366.5 415.9 1359.5 418.5 1350.5 420.8 1333.5 421.2 1292.5 417.9 1275.5 412.6 1257.5 409.5 1239.5 389.8 1200.5 377.5 1183 361.6 1171.5 357.5 1169.8 347.5 1166.2 321.5 1160.8 310.5 1162.3 288.5 1167.9 271.5 1169.1 261.5 1171.4 250.4 1155.5 239.4 1129.5 236.4 1124.5 227.5 1116.6 221.5 1114.9 214.5 1114.5 207.5 1115.5 187.5 1120.9 170.5 1123.8 163.5 1130.7 158.5 1141.9 155.4 1155.5 154.9 1167.5 156.6 1185.5 176.6 1253.5 184.9 1292.5 192.9 1317.5 198.4 1327.5 207.5 1336.8 218.5 1342 231.5 1343.7 242.8 1362.5 247.6 1368.5 227.5 1366.3 212.5 1366.6 197.5 1369.2 181.5 1374.9 171.5 1380.2 161.3 1387.5 154.7 1402.5 153.8 1413.5 155.5 1424.5 158.5 1431.3 182.7 1434.5ZM598.1 1434.5 611.3 1431.5 612.8 1427.5 612.9 1416.5 589.5 1403.1 554.5 1396.1 509.5 1390.5 469.5 1389.1 439.5 1385.9 415.5 1386.8 387.5 1392 366.5 1398.1 352 1405.5 348.5 1409 347 1412.5 347.4 1415.5 349.4 1418.5 358.9 1424.5 373.6 1429.5 397.9 1434.5Z" fill="#b72200" fill-rule="evenodd"/><path d="M357.4 1377.5 369.5 1375.6 381.5 1371.7 390.5 1366.9 398.5 1360.5 405.3 1352.5 410.3 1343.5 413.1 1335.5 415.5 1322.7 417.3 1305.5 417.8 1290.5 415.3 1276.5 410.5 1258.5 407.6 1240.5 389.2 1203.5 380.5 1190.2 376.1 1184.5 360.5 1173.3 346.5 1168.1 321.5 1163.5 310.5 1165.2 275.5 1175.1 269.5 1177.6 262.5 1182.5 247.5 1159.4 233.5 1130.5 227.4 1123.5 219.5 1120 210.5 1119 171.5 1125.7 165.3 1131.5 163.5 1134.4 159.9 1142.5 157.6 1150.5 156.1 1165.5 158 1185.5 178.2 1252.5 187.8 1292.5 194 1311.5 200.5 1322.9 207.5 1329.9 215.5 1334.2 224.5 1336.4 235.5 1336.8 251.5 1362 257.8 1367.5 265.5 1371.3 275.5 1373.1 285.5 1372.2 294.5 1369 303.5 1362.9 317.5 1370.2 330.5 1374.9 343.5 1377.3ZM222.7 1433.5 240.5 1431.5 254.5 1428.8 266.5 1425.2 277.1 1420.5 284.1 1415.5 288 1410.5 289.3 1404.5 287.7 1398.5 284.5 1393.9 279.7 1389.5 265.5 1381.3 246.5 1375 226.5 1371.8 208.5 1371.7 191.5 1374.6 174.5 1381.3 163.5 1388.5 156.4 1402.5 155.5 1408.4 156.1 1419.5 159.5 1429.7 189.5 1433.7ZM588.5 1434.5 609.5 1430.4 610.9 1425.5 610.5 1417 586.5 1403.6 549.5 1396.7 514.5 1392.5 445.5 1389.2 422.5 1390.2 396.5 1395.1 376.5 1401.1 364.2 1407.5 360.5 1411.4 359.5 1414.5 360.1 1417.5 362.6 1420.5 371.1 1425.5 386.8 1430.5 407.6 1434.5Z" fill="#b21e14" fill-rule="evenodd"/><path d="M285.3 1366.5 291.5 1364.3 297.5 1360.5 302.7 1355.5 306.5 1349.7 317.5 1356.4 329.5 1361.3 341.5 1364 353.5 1364.6 365.5 1363 376.5 1359.4 386.5 1353.9 395.5 1346.3 402.5 1337.2 407.5 1326.6 411.3 1312.5 413.8 1294.5 412.3 1277.5 405 1240.5 389.5 1208.5 380.9 1194.5 374.5 1186.2 359.5 1175.6 348.5 1171.3 330.5 1167.6 320.5 1166.6 311.5 1168.3 298.5 1172.3 279.2 1181.5 271.7 1187.5 264.5 1197.3 243.9 1162.5 229.2 1133.5 224.8 1128.5 216.5 1124.2 207.5 1122.8 196.5 1123.7 173.1 1127.5 165.5 1134.9 161.6 1142.5 159.1 1150.5 157.4 1165.5 159.5 1185.1 180.4 1252.5 187.6 1281.5 197.4 1310.5 204.1 1320.5 212.5 1327.1 223.5 1330.8 239.4 1331.5 254.9 1356.5 261.5 1362.8 266.5 1365.4 272.5 1367.1 278.5 1367.5ZM217.4 1432.5 247 1428.5 257.8 1425.5 267.5 1421.5 275 1416.5 279 1411.5 280.4 1405.5 278.5 1399.5 271.1 1391.5 258.8 1384.5 242.5 1379.1 224.5 1376.1 207.5 1375.7 192.5 1377.8 176.5 1383.2 165.5 1389.9 158.4 1402.5 157.2 1408.5 157.9 1419.5 161.5 1428.2 188.5 1432.3ZM578.5 1434.5 607.5 1428.5 608.7 1425.5 608.4 1418.5 596.5 1410.7 586.5 1405.4 554.5 1399 518.5 1394.5 449.5 1391.9 427.5 1393 404.5 1397.4 386.5 1402.8 374.5 1409 371.2 1412.5 370.1 1415.5 370.8 1418.5 373.4 1421.5 382.6 1426.5 396.5 1430.6 417.7 1434.5Z" fill="#ad193c" fill-rule="evenodd"/><path d="M283.6 1361.5 291.5 1358.3 298.5 1352.2 302.8 1344.5 304.5 1335.1 315.5 1343 327.5 1348.9 339.5 1352.2 352.5 1353.1 364.5 1351.4 376.5 1346.8 386.5 1340.2 394.9 1331.5 400.6 1322.5 405.5 1310.4 409 1294.5 409.2 1286.5 408.5 1277.5 402.8 1242.5 392.3 1219.5 384 1203.5 376.2 1192.5 372.5 1188.1 361.5 1180.1 354.5 1176.5 345.7 1173.5 335.5 1171.5 322.5 1170.3 312.5 1172.1 300.5 1176.5 284.8 1186.5 279.7 1191.5 275.4 1197.5 271.5 1205.5 268.5 1214.7 267.5 1215.2 225.5 1137.1 222.5 1133.4 215.2 1128.5 205.5 1126.2 194.5 1126.5 174.5 1129.4 170.3 1132.5 166.5 1137.3 162.7 1144.5 160.4 1151.5 158.9 1165.5 161.1 1184.5 182.8 1252.5 190.5 1280.7 200.7 1308.5 207.1 1317.5 216.5 1323.8 228.5 1326.6 242.5 1326.1 259 1352.5 262.5 1356.5 267.5 1359.8 272.5 1361.5 278.5 1362.1ZM209.1 1431.5 237.7 1428.5 250 1425.5 260.1 1421.5 266.5 1417.5 271 1412.5 272.6 1407.5 271.2 1401.5 265.3 1394.5 254.5 1387.9 240.5 1383 224.5 1379.9 208.5 1379.2 193.5 1380.8 179.5 1384.8 168.5 1390.6 163.5 1397.1 159.4 1406.5 159.3 1416.5 162.5 1426 183.9 1430.5ZM567.9 1434.5 589.5 1430.9 604.8 1426.5 606.1 1425.5 605.6 1419.5 595.5 1412.3 586.5 1407.4 570.5 1403.5 528.5 1397 491.5 1394.7 444.5 1394.5 420.5 1397.4 403.5 1401.5 390 1406.5 382.3 1411.5 379.8 1416.5 382.4 1421.5 391.4 1426.5 406.5 1430.9 428.4 1434.5Z" fill="#a91562" fill-rule="evenodd"/><path d="M280.9 1356.5 287.5 1354.4 292.8 1350.5 296.9 1344.5 298.3 1338.5 297.9 1333.5 296.4 1329.5 279 1301.5 278.7 1300.5 283.5 1293.5 294.7 1311.5 306.3 1324.5 319.5 1334.3 334.5 1340.6 350.5 1342.7 365.5 1340.1 379.5 1333.1 390.5 1322.6 396.5 1313.5 401.2 1302.5 403.4 1293.5 404.3 1280.5 399.8 1243.5 390.2 1221.5 381.9 1205.5 374 1194.5 370.5 1190.4 359.5 1182.7 344.5 1176.8 334.5 1175.1 320.5 1174.8 312.5 1177 300.5 1182.8 292.5 1189.1 286.6 1195.5 281.6 1203.5 277.8 1212.5 272.5 1237 251.9 1196.5 223 1142.5 219.5 1137.4 212.5 1132 203.5 1129.4 192.5 1129.3 175.9 1131.5 171.5 1134.9 167.5 1139.8 163.9 1146.5 161.7 1153.5 160.5 1165.5 163 1184.5 193.9 1280.5 203.5 1305.5 210.1 1314.5 219.5 1320.2 231.5 1322.5 246.5 1321.4 265.6 1351.5 272.5 1355.8ZM218 1429.5 241.5 1425.6 256.6 1419.5 261.7 1415.5 264.5 1411.5 265.3 1406.5 263.6 1401.5 260.3 1397.5 255.5 1393.8 242.5 1387.7 224.5 1383.4 207.5 1382.5 190.5 1384.4 175.5 1389.3 168.5 1394.4 162.4 1403.5 161.3 1408.5 161.2 1414.5 164.5 1424.5 176.5 1427.7 189.5 1429.6 203.5 1430.2ZM556.2 1434.5 575.5 1431.8 590.3 1428.5 600.8 1424.5 602.6 1423.5 603 1421.5 597.4 1416.5 589.5 1411.2 584.5 1408.8 574.5 1406.1 538.5 1399.8 500.5 1396.6 450.5 1396.6 430.5 1398.6 413.5 1402.4 401.1 1406.5 392.1 1411.5 388.8 1416.5 389.4 1419.5 392.2 1422.5 402.8 1427.5 419 1431.5 440.2 1434.5Z" fill="#a41285" fill-rule="evenodd"/><path d="M282.9 1349.5 286.7 1347.5 290.1 1343.5 291.5 1339.5 291.4 1335.5 271.6 1302.5 278 1294.5 281.9 1286.5 283.5 1279.5 282.6 1269.5 283.5 1268.6 290.3 1288.5 300.3 1305.5 312.5 1318.5 319.5 1323.7 327.5 1328.1 335.5 1331 343.5 1332.6 351.5 1332.8 359.5 1331.6 367.5 1328.9 374.5 1325.1 380.5 1320.5 386.5 1314.1 391.6 1306.5 395.8 1297.5 398.2 1287.5 399.1 1276.5 396.5 1245.5 385.5 1219 378.6 1206.5 368.5 1193.6 354.5 1184.4 344.5 1181 333.5 1179.6 320.5 1180.3 313.5 1182.7 303.5 1188.7 296.3 1195.5 289.9 1204.5 285.4 1214.5 282.2 1226.5 280.8 1238.5 281.1 1253.5 283.5 1268.5 282.5 1269.5 249 1201.5 220.5 1147.5 215.9 1140.5 210 1135.5 201.5 1132.6 190.5 1132.1 177.5 1133.7 172.5 1137.6 168.5 1142.5 163.5 1154.1 162.4 1165.5 165.2 1184.5 197.3 1279.5 207.1 1303.5 213.5 1311.8 223.5 1317.1 236.5 1318.5 250.5 1315.8 270.5 1346.7 276.5 1350ZM210.7 1428.5 232.5 1425.5 242.5 1422.7 249.5 1419.5 253.9 1416.5 257.3 1412.5 258.5 1408.5 257.4 1403.5 250.9 1396.5 239.5 1390.8 224.5 1386.9 208.5 1385.5 192.5 1386.8 178.5 1390.7 171.1 1395.5 165 1403.5 163.5 1408.5 163.4 1413.5 166.5 1422.7 176.5 1425.9 187.5 1428ZM542.5 1434.5 563.5 1432.1 580.5 1428.8 592.7 1424.5 597.4 1420.5 591.9 1415.5 584.5 1411 569.5 1406.8 533.5 1400.7 499.5 1398.2 454.5 1398.7 435.5 1400.6 420.5 1403.8 409.3 1407.5 401.5 1411.5 397.4 1416.5 397.8 1419.5 399.3 1421.5 407.5 1426.1 420.5 1429.9 439.5 1433 454.3 1434.5Z" fill="#9f0fa6" fill-rule="evenodd"/><path d="M238.8 1314.5 247.5 1312.8 255.7 1309.5 263.5 1304.6 270.1 1298.5 275.1 1291.5 278 1284.5 278.9 1277.5 277.7 1270.5 241.5 1197.5 218.5 1153.6 212.2 1143.5 206.6 1138.5 199.5 1135.8 190.5 1135 179.5 1136.2 174.5 1139.7 170.5 1144.1 167.4 1149.5 165.2 1156.5 164.7 1166.5 168.6 1187.5 195 1262.5 211.3 1302.5 216.3 1308.5 222.5 1312.3 230.5 1314.4ZM356.3 1322.5 366.5 1319.1 375.1 1313.5 382.5 1305.9 388.3 1296.5 391.9 1286.5 393.5 1276.5 393.5 1257.5 392.4 1246.5 385.7 1228.5 380 1216.5 375.2 1208.5 365.1 1196.5 353.5 1189.2 343.5 1186 332.5 1185.1 323.5 1186.2 314.5 1189.7 305.5 1196.6 298.5 1205.2 293.2 1215.5 289.7 1227.5 288.1 1240.5 288.5 1254.5 290.7 1267.5 294.9 1280.5 300.5 1291.8 308 1302.5 316.5 1311 325.5 1317.2 335.5 1321.4 345.5 1323.2ZM214.9 1426.5 233.5 1422.8 245.6 1417.5 249.1 1414.5 251.4 1410.5 251.7 1407.5 250.2 1403.5 243.9 1397.5 233.5 1392.7 219.5 1389.3 205.5 1388.3 191.5 1389.5 179.5 1392.9 172.5 1397.6 167.1 1404.5 165.8 1409.5 166 1414.5 168.2 1420.5 169.9 1421.5 179.5 1424.8 190.5 1426.9 202.5 1427.4ZM523.3 1434.5 550.5 1432.4 572.5 1428.6 586.7 1423.5 590.2 1420.5 590.8 1418.5 584.2 1413.5 579.2 1411.5 553.5 1405.2 522.5 1401.1 490.5 1399.7 451.5 1400.9 434.5 1403.5 422.7 1406.5 413.5 1410 407.9 1413.5 405.5 1417.5 407.4 1421.5 414.2 1425.5 424.5 1428.7 439.7 1431.5 473.8 1434.5Z" fill="#9a0cc2" fill-rule="evenodd"/><path d="M240.5 1310.5 247.5 1309 254.5 1306.1 261.5 1301.5 266.8 1296.5 271 1290.5 273.4 1284.5 274.2 1278.5 273.2 1272.5 233.5 1192.5 216.3 1159.5 208.5 1146.8 204.5 1142.4 198.5 1139.4 191.5 1138.2 182.5 1138.6 177.5 1141.3 173.1 1145.5 169.8 1150.5 167.7 1156.5 167.2 1165.5 171.3 1186.5 198.7 1261.5 215.3 1300.5 219.6 1305.5 225.5 1308.9 232.5 1310.6ZM351.8 1313.5 360.5 1311.4 368.5 1307.2 376 1300.5 381.6 1292.5 385.4 1283.5 387.5 1273.7 388.3 1259.5 387.6 1248.5 384.5 1237.8 377.5 1221.2 371.5 1211.3 363.5 1202.2 356.5 1197.2 348.5 1193.5 340.5 1191.8 329.5 1192.3 321.5 1194.8 314 1199.5 307.2 1206.5 301.7 1215.5 297.9 1225.5 295.8 1236.5 295.3 1248.5 296.7 1260.5 299.5 1271.6 304.1 1282.5 310.2 1292.5 317.3 1300.5 325.5 1307 333.5 1311 342.5 1313.4ZM209.1 1425.5 225.5 1422.5 238.2 1417.5 242.1 1414.5 244.1 1411.5 244.8 1408.5 243.5 1404.5 238.4 1399.5 228.5 1394.9 216.5 1392 203.5 1390.8 192.5 1391.6 182.5 1394.2 175.1 1398.5 169.8 1404.5 168.5 1408.5 168.4 1413.5 170.1 1418.5 172.5 1420.1 180.5 1423.3 189.5 1425.3ZM519.6 1433.5 546.5 1431.4 567.5 1427.8 579.5 1423.3 582.9 1420.5 583.7 1417.5 582.2 1415.5 573.5 1411.9 547.5 1405.8 517.5 1402.2 490.5 1401.3 455.5 1402.7 439.5 1405.2 420.5 1411 415.1 1414.5 413.3 1417.5 415.1 1421.5 419.9 1424.5 429.5 1427.7 443.8 1430.5 478.5 1433.5Z" fill="#940ad9" fill-rule="evenodd"/><path d="M240.7 1306.5 253.1 1302.5 263.2 1294.5 266.6 1289.5 268.6 1284.5 269.3 1279.5 268.5 1274.5 229.5 1195.8 206.5 1153.1 201.7 1146.5 197.5 1143.7 189.5 1141.7 183.5 1142.4 175.5 1147.8 172.5 1152.2 170.6 1157.5 170.4 1165.5 174.5 1185.7 203.4 1261.5 219.1 1297.5 222.5 1301.8 227.5 1304.9 233.5 1306.5ZM351.2 1303.5 358.5 1301.5 365.5 1297.6 371 1292.5 375.5 1286.2 379 1278.5 381.2 1269.5 382.2 1259.5 381.8 1249.5 379.5 1239.5 375.1 1227.5 370.2 1218.5 364.5 1211.2 356.8 1204.5 349.5 1201.1 341.5 1199.3 333.5 1199.7 325.5 1202.3 318.9 1206.5 313.5 1212 308.8 1219.5 305.5 1227.7 303.4 1237.5 302.9 1247.5 303.8 1257.5 306.2 1267.5 309.8 1276.5 315.2 1285.5 321.3 1292.5 328.5 1298.2 335.5 1301.6 343.5 1303.6ZM203.1 1424.5 217.5 1422.3 230.4 1417.5 234.7 1414.5 236.9 1411.5 237.5 1408.5 236.5 1405.5 232.5 1401.4 224.5 1397.3 213.5 1394.2 202.5 1393 192.5 1393.7 184.5 1395.7 177.5 1399.4 172.6 1404.5 170.9 1408.5 170.8 1412.5 171.9 1416.5 174.3 1418.5 186.5 1423.3ZM515.9 1432.5 540.5 1430.8 560.5 1427.5 573.7 1422.5 575.9 1420.5 576.7 1417.5 575.5 1415.5 568.7 1412.5 547.5 1407.3 517.5 1403.7 490.5 1402.9 459.5 1404.2 443.5 1406.8 427.9 1411.5 422.8 1414.5 420.7 1417.5 420.9 1419.5 422.4 1421.5 427.6 1424.5 447.7 1429.5 479.5 1432.4Z" fill="#8f08ec" fill-rule="evenodd"/><path d="M244.3 1301.5 253.4 1297.5 259.9 1291.5 263.6 1283.5 263.2 1276.5 221.5 1192.6 201.5 1156.4 197.5 1150.3 193.7 1147.5 188.5 1146.4 183.5 1147.5 179 1150.5 176 1154.5 174.4 1159.5 174.7 1164.5 177.9 1182.5 193.7 1224.5 208.5 1260.7 224.2 1295.5 227.5 1299.1 232.5 1301.5 238.5 1302.3ZM350.5 1292.5 356.5 1290.6 361.6 1287.5 366.5 1282.6 370.4 1276.5 373.1 1269.5 375 1260.5 375.5 1253.5 374.7 1244.5 370.1 1228.5 366.2 1221.5 361.5 1215.6 355.5 1210.8 350.5 1208.3 343.5 1206.8 337.5 1207 331.5 1208.7 325.5 1212.2 320.5 1216.9 316.5 1222.7 313.5 1229.5 311.5 1237.5 310.8 1245.5 311.4 1254.5 313.2 1262.5 316.3 1270.5 320.5 1277.6 325.5 1283.5 331.5 1288.3 337.5 1291.3 344.5 1292.8ZM208 1422.5 219.1 1419.5 227.6 1414.5 230.3 1409.5 228.3 1404.5 223 1400.5 215.5 1397.4 206.5 1395.4 197.5 1395 189.5 1396.1 182.7 1398.5 177.5 1402 174 1406.5 173.1 1410.5 173.7 1414.5 180.1 1419.5 186.5 1421.8 193.5 1423ZM512.6 1431.5 536.5 1429.9 555.5 1426.7 567 1422.5 569.4 1420.5 570.1 1417.5 567.5 1414.5 565 1413.5 547.5 1408.8 522.5 1405.5 498.5 1404.3 471.5 1405 451.5 1407.4 434.5 1412.2 430.2 1414.5 427.7 1417.5 428.4 1420.5 432.6 1423.5 440.5 1426.3 451.3 1428.5 479.5 1431.2Z" fill="#8906f8" fill-rule="evenodd"/><path d="M243 1296.5 249.5 1293.9 254.5 1289.5 257.2 1283.5 256.7 1278.5 225.5 1216.1 205.5 1178.4 193.5 1160.9 188.5 1156.6 185.5 1156.3 183.3 1158.5 182.4 1163.5 184.3 1181.5 202 1228.5 230.2 1292.5 235.5 1296.2ZM351 1279.5 355.5 1277.4 359.5 1274.2 366 1264.5 369.2 1252.5 368.9 1239.5 365 1227.5 358.5 1218.9 349.5 1213.5 344.5 1212.5 339.5 1212.8 334.5 1214.4 329.5 1217.4 325.4 1221.5 322.1 1226.5 318.4 1238.5 318.6 1251.5 323.1 1264.5 330.5 1274.1 335.5 1277.7 340.5 1279.7 345.5 1280.4ZM204.9 1421.5 215.6 1418.5 222.7 1413.5 224.2 1408.5 221 1403.5 216.3 1400.5 209.5 1398.1 195.5 1396.8 189.5 1397.8 183.5 1400 179.5 1402.8 176.5 1406.5 175.4 1410.5 175.9 1413.5 181.9 1418.5 192.5 1421.6ZM510.1 1430.5 532.5 1429.1 550.5 1426.1 560.7 1422.5 563.3 1420.5 563.9 1417.5 559 1413.5 538.5 1408.7 516.5 1406.3 490.5 1405.6 469.5 1406.7 450.5 1409.7 438.9 1413.5 435.5 1415.7 434 1418.5 435.9 1421.5 439.5 1423.5 456.5 1427.8 481.5 1430.2Z" fill="#8305fe" fill-rule="evenodd"/><path d="M348.7 1269.5 356.5 1265.4 361.9 1258.5 365 1249.5 365.2 1239.5 362.7 1230.5 357.2 1222.5 349.5 1217.7 341.5 1216.9 333.5 1220.1 327.4 1226.5 323.8 1235.5 323.3 1246.5 326.2 1256.5 332.5 1264.9 340.5 1269.4ZM201.9 1420.5 210.6 1418.5 217.3 1414.5 219.7 1409.5 217.2 1404.5 208.5 1399.8 196.5 1398.3 185.5 1400.9 181.4 1403.5 178.8 1406.5 177.7 1411.5 179.5 1414.5 182.5 1416.9 191.5 1420.2ZM508.7 1429.5 529.5 1428.2 545.9 1425.5 556.3 1421.5 558.1 1419.5 558.1 1417.5 552.6 1413.5 536.5 1409.7 515.5 1407.4 493.5 1406.8 473.5 1407.8 455.7 1410.5 443.6 1414.5 440.9 1416.5 440.1 1418.5 442.1 1421.5 446 1423.5 460.5 1427 482.5 1429.2Z" fill="#7c03fe" fill-rule="evenodd"/><path d="M348.4 1263.5 354.5 1260.4 359.4 1254.5 362.1 1246.5 362.1 1238.5 360.1 1231.5 355.5 1225 349.5 1221.1 342.5 1220.3 335.5 1223 330.2 1228.5 327.1 1236.5 326.9 1245.5 329.5 1253.5 334.5 1259.9 341.5 1263.5ZM205.4 1418.5 212.3 1415.5 214.5 1413.5 216 1410.5 214.5 1405.8 209.5 1402.2 201.5 1400 192.5 1400.2 185.5 1402.6 180.6 1407.5 180 1409.5 180.7 1412.5 186.5 1417.3 195.5 1419.4ZM508.4 1428.5 526.5 1427.3 540.5 1425.1 549.5 1422.1 551.9 1420.5 552.8 1418.5 551.8 1416.5 548.7 1414.5 538.5 1411.4 520.5 1408.9 498.5 1407.9 478.5 1408.7 461.5 1411 449.9 1414.5 446.8 1416.5 445.8 1418.5 446.8 1420.5 449.9 1422.5 464.5 1426.3 484.5 1428.2Z" fill="#7602f8" fill-rule="evenodd"/><path d="M347.5 1259.5 352.5 1257.3 356.8 1252.5 359.5 1245.5 359.6 1238.5 357.5 1232 353.5 1226.7 348.5 1223.8 342.5 1223.3 336.5 1225.9 332.4 1230.5 329.8 1237.5 329.7 1244.5 332.1 1251.5 336.2 1256.5 341.5 1259.3ZM203.3 1417.5 209.5 1414.9 212.5 1411.5 212.3 1407.5 207.8 1403.5 201.2 1401.5 193.5 1401.5 187.2 1403.5 182.9 1407.5 182.5 1410.5 183.2 1412.5 187.5 1416.1 194.5 1418ZM508.7 1427.5 523.6 1426.5 536.4 1424.5 545.2 1421.5 547.5 1418.5 546.3 1416.5 543.5 1414.8 533.5 1411.9 517.5 1409.8 499.5 1409.1 481.5 1409.8 465.5 1411.9 455.5 1414.7 452.5 1416.5 451.3 1418.5 452.3 1420.5 455.8 1422.5 467.9 1425.5 486.5 1427.3Z" fill="#6e02ec" fill-rule="evenodd"/><path d="M349.1 1255.5 353.3 1252.5 355.9 1248.5 357.3 1243.5 357 1237.5 355.1 1232.5 351.5 1228.3 347.5 1226.3 342.5 1226.1 337.5 1228.5 334.2 1232.5 332.2 1238.5 332.4 1244.5 334.5 1250 338.5 1254.3 343.5 1256.3ZM200.9 1416.5 206.6 1414.5 209.5 1411.5 209.7 1408.5 206.5 1405 200.5 1402.9 194.5 1402.9 189 1404.5 185.5 1407.5 185.2 1411.5 188.1 1414.5 193.6 1416.5ZM509 1426.5 522.5 1425.5 534 1423.5 539.7 1421.5 542.3 1418.5 539.2 1415.5 528.8 1412.5 515.5 1410.8 499.5 1410.2 483.5 1410.8 470.1 1412.5 459.7 1415.5 456.7 1418.5 457.8 1420.5 461.5 1422.4 472.5 1424.9 489.5 1426.5Z" fill="#6701d9" fill-rule="evenodd"/><path d="M348.4 1252.5 351.5 1250.3 354 1246.5 355 1242.5 354.6 1237.5 352.9 1233.5 350.2 1230.5 346.5 1228.8 342.5 1228.9 338.5 1231.1 335.9 1234.5 334.5 1239.5 334.9 1244.5 337.4 1249.5 340.5 1252.1 344.5 1253.2ZM202.2 1414.5 205.5 1412.6 206.8 1410.5 205.9 1407.5 203.2 1405.5 199.5 1404.5 194.5 1404.5 190.5 1405.8 187.8 1408.5 188 1411.5 191.5 1414.3 196.5 1415.3ZM508.8 1425.5 529.5 1423 535.8 1420.5 537.1 1418.5 533.5 1415.5 526.3 1413.5 513.5 1411.8 499.5 1411.3 485.5 1411.8 472.8 1413.5 465.7 1415.5 462.1 1418.5 465.2 1421.5 476.5 1424.2 491.5 1425.5Z" fill="#5f01c2" fill-rule="evenodd"/><path d="M347.5 1249.5 351.5 1245.5 352.3 1238.5 349.5 1233.4 346.5 1231.7 343.5 1231.6 340.5 1233 338.4 1235.5 337.1 1239.5 337.4 1243.5 338.7 1246.5 341.5 1249.2 344.5 1250.1ZM201.3 1412.5 203.3 1409.5 201.8 1407.5 199.5 1406.5 194.5 1406.5 192.2 1407.5 190.8 1409.5 191.4 1411.5 194.5 1413.1ZM507.6 1424.5 524.6 1422.5 530.2 1420.5 531.7 1418.5 529.7 1416.5 522.5 1414.3 499.5 1412.4 476.5 1414.3 469.5 1416.5 467.6 1418.5 469.1 1420.5 471.3 1421.5 480.5 1423.5Z" fill="#5600a6" fill-rule="evenodd"/><path d="M347.1 1245.5 349.2 1242.5 349.1 1238.5 346.6 1235.5 343.5 1235.3 340.5 1238.5 340.5 1242.7 343.5 1246ZM504.2 1423.5 520.5 1421.7 524 1420.5 525.8 1418.5 523.4 1416.5 517.5 1415 499.5 1413.6 481.5 1415 476 1416.5 473.5 1418.5 475.4 1420.5 483.3 1422.5Z" fill="#4b0085" fill-rule="evenodd"/><path d="M511.9 1421.5 516.4 1420.5 519 1418.5 512.5 1415.9 499.5 1414.9 486.5 1416 480.5 1418.5 483.1 1420.5 490.5 1421.8Z" fill="#400062" fill-rule="evenodd"/><path d="M508 1419.5 509.1 1418.5 502.5 1417 494.5 1417.2 490.5 1418.5 491.6 1419.5 497.5 1420.3Z" fill="#31003c" fill-rule="evenodd"/></g></g></g>
<circle cx="119.8" cy="825.3" r="1.6" fill="#fbfbfb" stroke="#9a9a9a" stroke-width="0.7"/><circle cx="122.1" cy="824.8" r="1.6" fill="#fbfbfb" stroke="#9a9a9a" stroke-width="0.7"/>
<circle cx="140" cy="825.4" r="1.6" fill="#fbfbfb" stroke="#9a9a9a" stroke-width="0.7"/><circle cx="138.4" cy="825.1" r="1.6" fill="#fbfbfb" stroke="#9a9a9a" stroke-width="0.7"/>
<circle cx="160.6" cy="826.5" r="1.6" fill="#fbfbfb" stroke="#9a9a9a" stroke-width="0.7"/><circle cx="158" cy="824" r="1.6" fill="#fbfbfb" stroke="#9a9a9a" stroke-width="0.7"/>
<circle cx="188" cy="826.5" r="1.6" fill="#fbfbfb" stroke="#9a9a9a" stroke-width="0.7"/><circle cx="191" cy="822.7" r="1.6" fill="#fbfbfb" stroke="#9a9a9a" stroke-width="0.7"/>
<circle cx="227.4" cy="827.3" r="1.6" fill="#fbfbfb" stroke="#9a9a9a" stroke-width="0.7"/><circle cx="225.8" cy="825.6" r="1.6" fill="#fbfbfb" stroke="#9a9a9a" stroke-width="0.7"/>
<circle cx="148.3" cy="857.6" r="1.6" fill="#fbfbfb" stroke="#9a9a9a" stroke-width="0.7"/><circle cx="150.1" cy="857.8" r="1.6" fill="#fbfbfb" stroke="#9a9a9a" stroke-width="0.7"/>
<circle cx="183.5" cy="858.7" r="1.6" fill="#fbfbfb" stroke="#9a9a9a" stroke-width="0.7"/><circle cx="182.7" cy="859.8" r="1.6" fill="#fbfbfb" stroke="#9a9a9a" stroke-width="0.7"/>
<circle cx="214.7" cy="861.7" r="1.6" fill="#fbfbfb" stroke="#9a9a9a" stroke-width="0.7"/><circle cx="215.1" cy="860.7" r="1.6" fill="#fbfbfb" stroke="#9a9a9a" stroke-width="0.7"/>
<circle cx="250" cy="860.8" r="1.6" fill="#fbfbfb" stroke="#9a9a9a" stroke-width="0.7"/><circle cx="249.8" cy="858.9" r="1.6" fill="#fbfbfb" stroke="#9a9a9a" stroke-width="0.7"/>
<circle cx="147.5" cy="897.5" r="1.6" fill="#fbfbfb" stroke="#9a9a9a" stroke-width="0.7"/><circle cx="146.7" cy="896" r="1.6" fill="#fbfbfb" stroke="#9a9a9a" stroke-width="0.7"/>
<circle cx="179.1" cy="893.6" r="1.6" fill="#fbfbfb" stroke="#9a9a9a" stroke-width="0.7"/><circle cx="178.9" cy="892.9" r="1.6" fill="#fbfbfb" stroke="#9a9a9a" stroke-width="0.7"/>
<circle cx="221.3" cy="894.5" r="1.6" fill="#fbfbfb" stroke="#9a9a9a" stroke-width="0.7"/><circle cx="221.7" cy="894.4" r="1.6" fill="#fbfbfb" stroke="#9a9a9a" stroke-width="0.7"/>
<circle cx="254.3" cy="896.7" r="1.6" fill="#fbfbfb" stroke="#9a9a9a" stroke-width="0.7"/><circle cx="249.5" cy="893.5" r="1.6" fill="#fbfbfb" stroke="#9a9a9a" stroke-width="0.7"/>
<circle cx="152.1" cy="929.8" r="1.6" fill="#fbfbfb" stroke="#9a9a9a" stroke-width="0.7"/><circle cx="152.4" cy="929.5" r="1.6" fill="#fbfbfb" stroke="#9a9a9a" stroke-width="0.7"/>
<circle cx="187.9" cy="930.6" r="1.6" fill="#fbfbfb" stroke="#9a9a9a" stroke-width="0.7"/><circle cx="191.4" cy="928.8" r="1.6" fill="#fbfbfb" stroke="#9a9a9a" stroke-width="0.7"/>
<circle cx="222.9" cy="929.2" r="1.6" fill="#fbfbfb" stroke="#9a9a9a" stroke-width="0.7"/><circle cx="227.3" cy="931.3" r="1.6" fill="#fbfbfb" stroke="#9a9a9a" stroke-width="0.7"/>
<circle cx="253.1" cy="928.7" r="1.6" fill="#fbfbfb" stroke="#9a9a9a" stroke-width="0.7"/><circle cx="253" cy="927.8" r="1.6" fill="#fbfbfb" stroke="#9a9a9a" stroke-width="0.7"/>
<circle cx="116.5" cy="858.4" r="1.6" fill="#fbfbfb" stroke="#9a9a9a" stroke-width="0.7"/><circle cx="115.3" cy="859.7" r="1.6" fill="#fbfbfb" stroke="#9a9a9a" stroke-width="0.7"/>
<circle cx="118.5" cy="896.2" r="1.6" fill="#fbfbfb" stroke="#9a9a9a" stroke-width="0.7"/><circle cx="118.2" cy="895.7" r="1.6" fill="#fbfbfb" stroke="#9a9a9a" stroke-width="0.7"/>
<path d="M104 808.3 L245.2 808.3 L265.5 946.2 L125 946.2Z" fill="none" stroke="#333" stroke-width="1.1"/>
<circle cx="118.4" cy="806.8" r="5.2" fill="url(#rg)"/>
<circle cx="121.4" cy="808.8" r="5.2" fill="url(#rg)"/>
<circle cx="153.8" cy="806.8" r="5.2" fill="url(#rg)"/>
<circle cx="156.8" cy="808.8" r="5.2" fill="url(#rg)"/>
<circle cx="189.3" cy="806.8" r="5.2" fill="url(#rg)"/>
<circle cx="192.3" cy="808.8" r="5.2" fill="url(#rg)"/>
<circle cx="125.8" cy="841.8" r="5.2" fill="url(#rg)"/>
<circle cx="128.8" cy="843.8" r="5.2" fill="url(#rg)"/>
<circle cx="163" cy="844.5" r="5.2" fill="url(#rg)"/>
<circle cx="198" cy="842.8" r="5.2" fill="url(#rg)"/>
<circle cx="231.3" cy="841.8" r="5.2" fill="url(#rg)"/>
<circle cx="234.3" cy="843.8" r="5.2" fill="url(#rg)"/>
<circle cx="131.3" cy="877.8" r="5.2" fill="url(#rg)"/>
<circle cx="165.5" cy="877.5" r="5.2" fill="url(#rg)"/>
<circle cx="168.5" cy="879.5" r="5.2" fill="url(#rg)"/>
<circle cx="200.5" cy="876.8" r="5.2" fill="url(#rg)"/>
<circle cx="203.5" cy="878.8" r="5.2" fill="url(#rg)"/>
<circle cx="236.5" cy="877.8" r="5.2" fill="url(#rg)"/>
<circle cx="136.7" cy="911.7" r="5.2" fill="url(#rg)"/>
<circle cx="170.6" cy="911.5" r="5.2" fill="url(#rg)"/>
<circle cx="173.6" cy="913.5" r="5.2" fill="url(#rg)"/>
<circle cx="207.4" cy="911.7" r="5.2" fill="url(#rg)"/>
<circle cx="241.3" cy="910.7" r="5.2" fill="url(#rg)"/>
<circle cx="244.3" cy="912.7" r="5.2" fill="url(#rg)"/>
<circle cx="141.7" cy="945.7" r="5.2" fill="url(#rg)"/>
<circle cx="144.7" cy="947.7" r="5.2" fill="url(#rg)"/>
<circle cx="178.2" cy="947" r="5.2" fill="url(#rg)"/>
<circle cx="211.7" cy="945.7" r="5.2" fill="url(#rg)"/>
<circle cx="214.7" cy="947.7" r="5.2" fill="url(#rg)"/>
<circle cx="246" cy="945.7" r="5.2" fill="url(#rg)"/>
<circle cx="249" cy="947.7" r="5.2" fill="url(#rg)"/>
<circle cx="297.9" cy="824" r="1.6" fill="#fbfbfb" stroke="#9a9a9a" stroke-width="0.7"/><circle cx="300.4" cy="824.7" r="1.6" fill="#fbfbfb" stroke="#9a9a9a" stroke-width="0.7"/>
<circle cx="335.5" cy="839.4" r="1.6" fill="#fbfbfb" stroke="#9a9a9a" stroke-width="0.7"/><circle cx="334.8" cy="842.3" r="1.6" fill="#fbfbfb" stroke="#9a9a9a" stroke-width="0.7"/>
<circle cx="369.9" cy="835.4" r="1.6" fill="#fbfbfb" stroke="#9a9a9a" stroke-width="0.7"/><circle cx="371.8" cy="833.4" r="1.6" fill="#fbfbfb" stroke="#9a9a9a" stroke-width="0.7"/>
<circle cx="403.3" cy="828" r="1.6" fill="#fbfbfb" stroke="#9a9a9a" stroke-width="0.7"/><circle cx="406.6" cy="824.7" r="1.6" fill="#fbfbfb" stroke="#9a9a9a" stroke-width="0.7"/>
<circle cx="313.4" cy="863.2" r="1.6" fill="#fbfbfb" stroke="#9a9a9a" stroke-width="0.7"/><circle cx="317.2" cy="860.5" r="1.6" fill="#fbfbfb" stroke="#9a9a9a" stroke-width="0.7"/>
<circle cx="352.3" cy="871.9" r="1.6" fill="#fbfbfb" stroke="#9a9a9a" stroke-width="0.7"/><circle cx="350.5" cy="869.6" r="1.6" fill="#fbfbfb" stroke="#9a9a9a" stroke-width="0.7"/>
<circle cx="383" cy="863.7" r="1.6" fill="#fbfbfb" stroke="#9a9a9a" stroke-width="0.7"/><circle cx="387.3" cy="864.7" r="1.6" fill="#fbfbfb" stroke="#9a9a9a" stroke-width="0.7"/>
<circle cx="301" cy="896.8" r="1.6" fill="#fbfbfb" stroke="#9a9a9a" stroke-width="0.7"/><circle cx="301.6" cy="898.5" r="1.6" fill="#fbfbfb" stroke="#9a9a9a" stroke-width="0.7"/>
<circle cx="317" cy="898.4" r="1.6" fill="#fbfbfb" stroke="#9a9a9a" stroke-width="0.7"/><circle cx="319.1" cy="897.8" r="1.6" fill="#fbfbfb" stroke="#9a9a9a" stroke-width="0.7"/>
<circle cx="348.6" cy="905.3" r="1.6" fill="#fbfbfb" stroke="#9a9a9a" stroke-width="0.7"/><circle cx="351.8" cy="905.6" r="1.6" fill="#fbfbfb" stroke="#9a9a9a" stroke-width="0.7"/>
<circle cx="381.9" cy="900.1" r="1.6" fill="#fbfbfb" stroke="#9a9a9a" stroke-width="0.7"/><circle cx="381.5" cy="895.6" r="1.6" fill="#fbfbfb" stroke="#9a9a9a" stroke-width="0.7"/>
<circle cx="303.8" cy="932.7" r="1.6" fill="#fbfbfb" stroke="#9a9a9a" stroke-width="0.7"/><circle cx="302.8" cy="931.4" r="1.6" fill="#fbfbfb" stroke="#9a9a9a" stroke-width="0.7"/>
<circle cx="339.3" cy="940.4" r="1.6" fill="#fbfbfb" stroke="#9a9a9a" stroke-width="0.7"/><circle cx="338.2" cy="939.3" r="1.6" fill="#fbfbfb" stroke="#9a9a9a" stroke-width="0.7"/>
<circle cx="377" cy="937.4" r="1.6" fill="#fbfbfb" stroke="#9a9a9a" stroke-width="0.7"/><circle cx="375.8" cy="936" r="1.6" fill="#fbfbfb" stroke="#9a9a9a" stroke-width="0.7"/>
<circle cx="408.4" cy="933.2" r="1.6" fill="#fbfbfb" stroke="#9a9a9a" stroke-width="0.7"/><circle cx="405.7" cy="932.6" r="1.6" fill="#fbfbfb" stroke="#9a9a9a" stroke-width="0.7"/>
<circle cx="292.1" cy="866" r="1.6" fill="#fbfbfb" stroke="#9a9a9a" stroke-width="0.7"/><circle cx="292.3" cy="862.6" r="1.6" fill="#fbfbfb" stroke="#9a9a9a" stroke-width="0.7"/>
<circle cx="410.7" cy="865.9" r="1.6" fill="#fbfbfb" stroke="#9a9a9a" stroke-width="0.7"/><circle cx="411.2" cy="865.1" r="1.6" fill="#fbfbfb" stroke="#9a9a9a" stroke-width="0.7"/>
<path d="M285.5 814.1 L425.3 814.1 L410.1 956 L270.8 956Z" fill="none" stroke="#333" stroke-width="1.1"/>
<circle cx="336.2" cy="820.7" r="5.2" fill="url(#rg)"/>
<circle cx="371.6" cy="817.6" r="5.2" fill="url(#rg)"/>
<circle cx="299.5" cy="844" r="5.2" fill="url(#rg)"/>
<circle cx="403.8" cy="846.3" r="5.2" fill="url(#rg)"/>
<circle cx="332.7" cy="856.4" r="5.2" fill="url(#rg)"/>
<circle cx="368.4" cy="852.6" r="5.2" fill="url(#rg)"/>
<circle cx="296.7" cy="879" r="5.2" fill="url(#rg)"/>
<circle cx="400.3" cy="881.3" r="5.2" fill="url(#rg)"/>
<circle cx="330.3" cy="891.8" r="5.2" fill="url(#rg)"/>
<circle cx="365.3" cy="887.6" r="5.2" fill="url(#rg)"/>
<circle cx="293" cy="915.2" r="5.2" fill="url(#rg)"/>
<circle cx="396.8" cy="916.8" r="5.2" fill="url(#rg)"/>
<circle cx="326.4" cy="926.8" r="5.2" fill="url(#rg)"/>
<circle cx="361.1" cy="922.9" r="5.2" fill="url(#rg)"/>
<circle cx="288.3" cy="949.5" r="5.2" fill="url(#rg)"/>
<circle cx="392.2" cy="951.8" r="5.2" fill="url(#rg)"/>
<rect x="287.2" y="998.4" width="140" height="144.7" fill="none" stroke="#333" stroke-width="1.1"/>
<circle cx="304.9" cy="1011.2" r="1.7" fill="#fbfbfb" stroke="#9a9a9a" stroke-width="0.7"/>
<circle cx="306.9" cy="1012.2" r="1.7" fill="#fbfbfb" stroke="#9a9a9a" stroke-width="0.7"/>
<circle cx="304.9" cy="1047.4" r="1.7" fill="#fbfbfb" stroke="#9a9a9a" stroke-width="0.7"/>
<circle cx="306.9" cy="1048.4" r="1.7" fill="#fbfbfb" stroke="#9a9a9a" stroke-width="0.7"/>
<circle cx="304.9" cy="1083.5" r="1.7" fill="#fbfbfb" stroke="#9a9a9a" stroke-width="0.7"/>
<circle cx="306.9" cy="1084.5" r="1.7" fill="#fbfbfb" stroke="#9a9a9a" stroke-width="0.7"/>
<circle cx="304.9" cy="1119.7" r="1.7" fill="#fbfbfb" stroke="#9a9a9a" stroke-width="0.7"/>
<circle cx="306.9" cy="1120.7" r="1.7" fill="#fbfbfb" stroke="#9a9a9a" stroke-width="0.7"/>
<circle cx="376" cy="1010.6" r="1.7" fill="#fbfbfb" stroke="#9a9a9a" stroke-width="0.7"/>
<circle cx="378" cy="1011.6" r="1.7" fill="#fbfbfb" stroke="#9a9a9a" stroke-width="0.7"/>
<circle cx="376" cy="1047.1" r="1.7" fill="#fbfbfb" stroke="#9a9a9a" stroke-width="0.7"/>
<circle cx="378" cy="1048.1" r="1.7" fill="#fbfbfb" stroke="#9a9a9a" stroke-width="0.7"/>
<circle cx="376" cy="1082.9" r="1.7" fill="#fbfbfb" stroke="#9a9a9a" stroke-width="0.7"/>
<circle cx="378" cy="1083.9" r="1.7" fill="#fbfbfb" stroke="#9a9a9a" stroke-width="0.7"/>
<circle cx="376" cy="1119.1" r="1.7" fill="#fbfbfb" stroke="#9a9a9a" stroke-width="0.7"/>
<circle cx="378" cy="1120.1" r="1.7" fill="#fbfbfb" stroke="#9a9a9a" stroke-width="0.7"/>
<circle cx="340.9" cy="1019.4" r="1.7" fill="#fbfbfb" stroke="#9a9a9a" stroke-width="0.7"/>
<circle cx="342.9" cy="1020.4" r="1.7" fill="#fbfbfb" stroke="#9a9a9a" stroke-width="0.7"/>
<circle cx="340.9" cy="1055.4" r="1.7" fill="#fbfbfb" stroke="#9a9a9a" stroke-width="0.7"/>
<circle cx="342.9" cy="1056.4" r="1.7" fill="#fbfbfb" stroke="#9a9a9a" stroke-width="0.7"/>
<circle cx="340.9" cy="1091" r="1.7" fill="#fbfbfb" stroke="#9a9a9a" stroke-width="0.7"/>
<circle cx="342.9" cy="1092" r="1.7" fill="#fbfbfb" stroke="#9a9a9a" stroke-width="0.7"/>
<circle cx="340.9" cy="1128.1" r="1.7" fill="#fbfbfb" stroke="#9a9a9a" stroke-width="0.7"/>
<circle cx="342.9" cy="1129.1" r="1.7" fill="#fbfbfb" stroke="#9a9a9a" stroke-width="0.7"/>
<circle cx="410.3" cy="1020.3" r="1.7" fill="#fbfbfb" stroke="#9a9a9a" stroke-width="0.7"/>
<circle cx="412.3" cy="1021.3" r="1.7" fill="#fbfbfb" stroke="#9a9a9a" stroke-width="0.7"/>
<circle cx="410.3" cy="1057.1" r="1.7" fill="#fbfbfb" stroke="#9a9a9a" stroke-width="0.7"/>
<circle cx="412.3" cy="1058.1" r="1.7" fill="#fbfbfb" stroke="#9a9a9a" stroke-width="0.7"/>
<circle cx="410.3" cy="1093" r="1.7" fill="#fbfbfb" stroke="#9a9a9a" stroke-width="0.7"/>
<circle cx="412.3" cy="1094" r="1.7" fill="#fbfbfb" stroke="#9a9a9a" stroke-width="0.7"/>
<circle cx="410.3" cy="1129" r="1.7" fill="#fbfbfb" stroke="#9a9a9a" stroke-width="0.7"/>
<circle cx="412.3" cy="1130" r="1.7" fill="#fbfbfb" stroke="#9a9a9a" stroke-width="0.7"/>
<circle cx="325" cy="1033.3" r="1.6" fill="#fbfbfb" stroke="#9a9a9a" stroke-width="0.7"/><circle cx="323.2" cy="1035.9" r="1.6" fill="#fbfbfb" stroke="#9a9a9a" stroke-width="0.7"/>
<circle cx="358.6" cy="1034.9" r="1.6" fill="#fbfbfb" stroke="#9a9a9a" stroke-width="0.7"/><circle cx="357.8" cy="1035.2" r="1.6" fill="#fbfbfb" stroke="#9a9a9a" stroke-width="0.7"/>
<circle cx="394.7" cy="1034.4" r="1.6" fill="#fbfbfb" stroke="#9a9a9a" stroke-width="0.7"/><circle cx="393.7" cy="1036.6" r="1.6" fill="#fbfbfb" stroke="#9a9a9a" stroke-width="0.7"/>
<circle cx="321.5" cy="1069.7" r="1.6" fill="#fbfbfb" stroke="#9a9a9a" stroke-width="0.7"/><circle cx="321.2" cy="1071.5" r="1.6" fill="#fbfbfb" stroke="#9a9a9a" stroke-width="0.7"/>
<circle cx="355.3" cy="1069.5" r="1.6" fill="#fbfbfb" stroke="#9a9a9a" stroke-width="0.7"/><circle cx="354.5" cy="1069.3" r="1.6" fill="#fbfbfb" stroke="#9a9a9a" stroke-width="0.7"/>
<circle cx="391.4" cy="1069.3" r="1.6" fill="#fbfbfb" stroke="#9a9a9a" stroke-width="0.7"/><circle cx="391.6" cy="1073" r="1.6" fill="#fbfbfb" stroke="#9a9a9a" stroke-width="0.7"/>
<circle cx="323.5" cy="1106.9" r="1.6" fill="#fbfbfb" stroke="#9a9a9a" stroke-width="0.7"/><circle cx="321.6" cy="1106.9" r="1.6" fill="#fbfbfb" stroke="#9a9a9a" stroke-width="0.7"/>
<circle cx="357.3" cy="1106.8" r="1.6" fill="#fbfbfb" stroke="#9a9a9a" stroke-width="0.7"/><circle cx="358.4" cy="1105.3" r="1.6" fill="#fbfbfb" stroke="#9a9a9a" stroke-width="0.7"/>
<circle cx="393" cy="1104.1" r="1.6" fill="#fbfbfb" stroke="#9a9a9a" stroke-width="0.7"/><circle cx="392.4" cy="1105.9" r="1.6" fill="#fbfbfb" stroke="#9a9a9a" stroke-width="0.7"/>
<circle cx="286.9" cy="1035.8" r="1.6" fill="#fbfbfb" stroke="#9a9a9a" stroke-width="0.7"/><circle cx="288" cy="1035.5" r="1.6" fill="#fbfbfb" stroke="#9a9a9a" stroke-width="0.7"/>
<circle cx="289.7" cy="1071" r="1.6" fill="#fbfbfb" stroke="#9a9a9a" stroke-width="0.7"/><circle cx="286" cy="1071.2" r="1.6" fill="#fbfbfb" stroke="#9a9a9a" stroke-width="0.7"/>
<circle cx="285.7" cy="1104.8" r="1.6" fill="#fbfbfb" stroke="#9a9a9a" stroke-width="0.7"/><circle cx="283.7" cy="1107.6" r="1.6" fill="#fbfbfb" stroke="#9a9a9a" stroke-width="0.7"/>
<circle cx="426.6" cy="1034.8" r="1.6" fill="#fbfbfb" stroke="#9a9a9a" stroke-width="0.7"/><circle cx="427.6" cy="1034.3" r="1.6" fill="#fbfbfb" stroke="#9a9a9a" stroke-width="0.7"/>
<circle cx="426.7" cy="1067.8" r="1.6" fill="#fbfbfb" stroke="#9a9a9a" stroke-width="0.7"/><circle cx="425.7" cy="1070.2" r="1.6" fill="#fbfbfb" stroke="#9a9a9a" stroke-width="0.7"/>
<circle cx="427.7" cy="1108.5" r="1.6" fill="#fbfbfb" stroke="#9a9a9a" stroke-width="0.7"/><circle cx="425.5" cy="1107.3" r="1.6" fill="#fbfbfb" stroke="#9a9a9a" stroke-width="0.7"/>
<circle cx="304.9" cy="1029.2" r="5.3" fill="url(#rg)"/>
<circle cx="304.9" cy="1065.4" r="5.3" fill="url(#rg)"/>
<circle cx="304.9" cy="1101.5" r="5.3" fill="url(#rg)"/>
<circle cx="304.9" cy="1137.7" r="5.3" fill="url(#rg)"/>
<circle cx="340.9" cy="1003.4" r="5.3" fill="url(#rg)"/>
<circle cx="340.9" cy="1039.4" r="5.3" fill="url(#rg)"/>
<circle cx="340.9" cy="1075" r="5.3" fill="url(#rg)"/>
<circle cx="340.9" cy="1112.1" r="5.3" fill="url(#rg)"/>
<circle cx="376" cy="1028.6" r="5.3" fill="url(#rg)"/>
<circle cx="376" cy="1065.1" r="5.3" fill="url(#rg)"/>
<circle cx="376" cy="1100.9" r="5.3" fill="url(#rg)"/>
<circle cx="376" cy="1137.1" r="5.3" fill="url(#rg)"/>
<circle cx="410.3" cy="1004.3" r="5.3" fill="url(#rg)"/>
<circle cx="410.3" cy="1041.1" r="5.3" fill="url(#rg)"/>
<circle cx="410.3" cy="1077" r="5.3" fill="url(#rg)"/>
<circle cx="410.3" cy="1113" r="5.3" fill="url(#rg)"/>
<path d="M554.4 830.2 L651 892.5 L662.8 982.9 L575.3 1014.9 L479 951.6 L467.4 862Z" fill="none" stroke="#444" stroke-width="1"/>
<line x1="563.5" y1="922.8" x2="554.4" y2="830.2" stroke="#444" stroke-width="1"/>
<line x1="563.5" y1="922.8" x2="651" y2="892.5" stroke="#444" stroke-width="1"/>
<line x1="563.5" y1="922.8" x2="662.8" y2="982.9" stroke="#444" stroke-width="1"/>
<line x1="563.5" y1="922.8" x2="575.3" y2="1014.9" stroke="#444" stroke-width="1"/>
<line x1="563.5" y1="922.8" x2="479" y2="951.6" stroke="#444" stroke-width="1"/>
<line x1="563.5" y1="922.8" x2="467.4" y2="862" stroke="#444" stroke-width="1"/>
<circle cx="476.1" cy="867.4" r="1.5" fill="#fbfbfb" stroke="#9a9a9a" stroke-width="0.7"/><circle cx="477.5" cy="866.9" r="1.5" fill="#fbfbfb" stroke="#9a9a9a" stroke-width="0.7"/>
<circle cx="520.9" cy="866.7" r="1.5" fill="#fbfbfb" stroke="#9a9a9a" stroke-width="0.7"/><circle cx="521.4" cy="865.8" r="1.5" fill="#fbfbfb" stroke="#9a9a9a" stroke-width="0.7"/>
<circle cx="545.3" cy="867.8" r="1.5" fill="#fbfbfb" stroke="#9a9a9a" stroke-width="0.7"/><circle cx="546.6" cy="870.4" r="1.5" fill="#fbfbfb" stroke="#9a9a9a" stroke-width="0.7"/>
<circle cx="577.7" cy="867.2" r="1.5" fill="#fbfbfb" stroke="#9a9a9a" stroke-width="0.7"/><circle cx="577.7" cy="866.5" r="1.5" fill="#fbfbfb" stroke="#9a9a9a" stroke-width="0.7"/>
<circle cx="535.3" cy="876.3" r="1.5" fill="#fbfbfb" stroke="#9a9a9a" stroke-width="0.7"/><circle cx="532.7" cy="878" r="1.5" fill="#fbfbfb" stroke="#9a9a9a" stroke-width="0.7"/>
<circle cx="555.9" cy="880.4" r="1.5" fill="#fbfbfb" stroke="#9a9a9a" stroke-width="0.7"/><circle cx="555.1" cy="882.3" r="1.5" fill="#fbfbfb" stroke="#9a9a9a" stroke-width="0.7"/>
<circle cx="493.3" cy="901.5" r="1.5" fill="#fbfbfb" stroke="#9a9a9a" stroke-width="0.7"/><circle cx="494.6" cy="901" r="1.5" fill="#fbfbfb" stroke="#9a9a9a" stroke-width="0.7"/>
<circle cx="520.5" cy="896.4" r="1.5" fill="#fbfbfb" stroke="#9a9a9a" stroke-width="0.7"/><circle cx="521.7" cy="899.2" r="1.5" fill="#fbfbfb" stroke="#9a9a9a" stroke-width="0.7"/>
<circle cx="554.5" cy="898" r="1.5" fill="#fbfbfb" stroke="#9a9a9a" stroke-width="0.7"/><circle cx="555.2" cy="897.6" r="1.5" fill="#fbfbfb" stroke="#9a9a9a" stroke-width="0.7"/>
<circle cx="601.8" cy="899.5" r="1.5" fill="#fbfbfb" stroke="#9a9a9a" stroke-width="0.7"/><circle cx="599" cy="899.6" r="1.5" fill="#fbfbfb" stroke="#9a9a9a" stroke-width="0.7"/>
<circle cx="632.5" cy="898" r="1.5" fill="#fbfbfb" stroke="#9a9a9a" stroke-width="0.7"/><circle cx="634.4" cy="897.1" r="1.5" fill="#fbfbfb" stroke="#9a9a9a" stroke-width="0.7"/>
<circle cx="515.6" cy="914.9" r="1.5" fill="#fbfbfb" stroke="#9a9a9a" stroke-width="0.7"/><circle cx="514.2" cy="913.7" r="1.5" fill="#fbfbfb" stroke="#9a9a9a" stroke-width="0.7"/>
<circle cx="542.4" cy="912.7" r="1.5" fill="#fbfbfb" stroke="#9a9a9a" stroke-width="0.7"/><circle cx="542" cy="911" r="1.5" fill="#fbfbfb" stroke="#9a9a9a" stroke-width="0.7"/>
<circle cx="590.4" cy="913.9" r="1.5" fill="#fbfbfb" stroke="#9a9a9a" stroke-width="0.7"/><circle cx="589.7" cy="913" r="1.5" fill="#fbfbfb" stroke="#9a9a9a" stroke-width="0.7"/>
<circle cx="621.6" cy="911.3" r="1.5" fill="#fbfbfb" stroke="#9a9a9a" stroke-width="0.7"/><circle cx="622" cy="913.2" r="1.5" fill="#fbfbfb" stroke="#9a9a9a" stroke-width="0.7"/>
<circle cx="512.8" cy="931" r="1.5" fill="#fbfbfb" stroke="#9a9a9a" stroke-width="0.7"/><circle cx="512.9" cy="930.9" r="1.5" fill="#fbfbfb" stroke="#9a9a9a" stroke-width="0.7"/>
<circle cx="537.2" cy="927.4" r="1.5" fill="#fbfbfb" stroke="#9a9a9a" stroke-width="0.7"/><circle cx="534.6" cy="928.9" r="1.5" fill="#fbfbfb" stroke="#9a9a9a" stroke-width="0.7"/>
<circle cx="582.3" cy="933.6" r="1.5" fill="#fbfbfb" stroke="#9a9a9a" stroke-width="0.7"/><circle cx="581.5" cy="933.6" r="1.5" fill="#fbfbfb" stroke="#9a9a9a" stroke-width="0.7"/>
<circle cx="602.6" cy="927.3" r="1.5" fill="#fbfbfb" stroke="#9a9a9a" stroke-width="0.7"/><circle cx="603.4" cy="928.7" r="1.5" fill="#fbfbfb" stroke="#9a9a9a" stroke-width="0.7"/>
<circle cx="495.2" cy="942.7" r="1.5" fill="#fbfbfb" stroke="#9a9a9a" stroke-width="0.7"/><circle cx="494.5" cy="944.8" r="1.5" fill="#fbfbfb" stroke="#9a9a9a" stroke-width="0.7"/>
<circle cx="537.2" cy="941.5" r="1.5" fill="#fbfbfb" stroke="#9a9a9a" stroke-width="0.7"/><circle cx="535.9" cy="939.9" r="1.5" fill="#fbfbfb" stroke="#9a9a9a" stroke-width="0.7"/>
<circle cx="555.6" cy="942" r="1.5" fill="#fbfbfb" stroke="#9a9a9a" stroke-width="0.7"/><circle cx="553.7" cy="943.5" r="1.5" fill="#fbfbfb" stroke="#9a9a9a" stroke-width="0.7"/>
<circle cx="597" cy="941" r="1.5" fill="#fbfbfb" stroke="#9a9a9a" stroke-width="0.7"/><circle cx="595.8" cy="941.6" r="1.5" fill="#fbfbfb" stroke="#9a9a9a" stroke-width="0.7"/>
<circle cx="619.7" cy="943.4" r="1.5" fill="#fbfbfb" stroke="#9a9a9a" stroke-width="0.7"/><circle cx="621.8" cy="940.7" r="1.5" fill="#fbfbfb" stroke="#9a9a9a" stroke-width="0.7"/>
<circle cx="523.3" cy="959.1" r="1.5" fill="#fbfbfb" stroke="#9a9a9a" stroke-width="0.7"/><circle cx="525.2" cy="957.8" r="1.5" fill="#fbfbfb" stroke="#9a9a9a" stroke-width="0.7"/>
<circle cx="554.6" cy="960" r="1.5" fill="#fbfbfb" stroke="#9a9a9a" stroke-width="0.7"/><circle cx="552.7" cy="959.4" r="1.5" fill="#fbfbfb" stroke="#9a9a9a" stroke-width="0.7"/>
<circle cx="581.2" cy="959" r="1.5" fill="#fbfbfb" stroke="#9a9a9a" stroke-width="0.7"/><circle cx="581.6" cy="957.7" r="1.5" fill="#fbfbfb" stroke="#9a9a9a" stroke-width="0.7"/>
<circle cx="628.9" cy="956.2" r="1.5" fill="#fbfbfb" stroke="#9a9a9a" stroke-width="0.7"/><circle cx="628" cy="956.7" r="1.5" fill="#fbfbfb" stroke="#9a9a9a" stroke-width="0.7"/>
<circle cx="503.5" cy="972.6" r="1.5" fill="#fbfbfb" stroke="#9a9a9a" stroke-width="0.7"/><circle cx="503.4" cy="973.2" r="1.5" fill="#fbfbfb" stroke="#9a9a9a" stroke-width="0.7"/>
<circle cx="536.8" cy="970.5" r="1.5" fill="#fbfbfb" stroke="#9a9a9a" stroke-width="0.7"/><circle cx="536.4" cy="971.3" r="1.5" fill="#fbfbfb" stroke="#9a9a9a" stroke-width="0.7"/>
<circle cx="577.5" cy="974.8" r="1.5" fill="#fbfbfb" stroke="#9a9a9a" stroke-width="0.7"/><circle cx="579.8" cy="975.4" r="1.5" fill="#fbfbfb" stroke="#9a9a9a" stroke-width="0.7"/>
<circle cx="608.8" cy="969.4" r="1.5" fill="#fbfbfb" stroke="#9a9a9a" stroke-width="0.7"/><circle cx="609.1" cy="972.1" r="1.5" fill="#fbfbfb" stroke="#9a9a9a" stroke-width="0.7"/>
<circle cx="637.6" cy="969.2" r="1.5" fill="#fbfbfb" stroke="#9a9a9a" stroke-width="0.7"/><circle cx="635.1" cy="971.4" r="1.5" fill="#fbfbfb" stroke="#9a9a9a" stroke-width="0.7"/>
<circle cx="536.3" cy="991.5" r="1.5" fill="#fbfbfb" stroke="#9a9a9a" stroke-width="0.7"/><circle cx="538.5" cy="990" r="1.5" fill="#fbfbfb" stroke="#9a9a9a" stroke-width="0.7"/>
<circle cx="568.5" cy="994.4" r="1.5" fill="#fbfbfb" stroke="#9a9a9a" stroke-width="0.7"/><circle cx="565.3" cy="992.5" r="1.5" fill="#fbfbfb" stroke="#9a9a9a" stroke-width="0.7"/>
<circle cx="563.7" cy="1002" r="1.5" fill="#fbfbfb" stroke="#9a9a9a" stroke-width="0.7"/><circle cx="561.3" cy="1001.7" r="1.5" fill="#fbfbfb" stroke="#9a9a9a" stroke-width="0.7"/>
<circle cx="582.6" cy="1003.8" r="1.5" fill="#fbfbfb" stroke="#9a9a9a" stroke-width="0.7"/><circle cx="581.2" cy="1002.3" r="1.5" fill="#fbfbfb" stroke="#9a9a9a" stroke-width="0.7"/>
<circle cx="621.6" cy="1005.7" r="1.5" fill="#fbfbfb" stroke="#9a9a9a" stroke-width="0.7"/><circle cx="618" cy="1002.3" r="1.5" fill="#fbfbfb" stroke="#9a9a9a" stroke-width="0.7"/>
<circle cx="479.8" cy="859.2" r="4.7" fill="url(#rg)"/>
<circle cx="513.3" cy="859.2" r="4.7" fill="url(#rg)"/>
<circle cx="547" cy="858.7" r="4.7" fill="url(#rg)"/>
<circle cx="580.5" cy="859.2" r="4.7" fill="url(#rg)"/>
<circle cx="532.7" cy="870.3" r="4.7" fill="url(#rg)"/>
<circle cx="566.5" cy="870.8" r="4.7" fill="url(#rg)"/>
<circle cx="493.8" cy="890.5" r="4.7" fill="url(#rg)"/>
<circle cx="527.8" cy="889.5" r="4.7" fill="url(#rg)"/>
<circle cx="561.5" cy="889.5" r="4.7" fill="url(#rg)"/>
<circle cx="595.5" cy="889.5" r="4.7" fill="url(#rg)"/>
<circle cx="628.3" cy="890.8" r="4.7" fill="url(#rg)"/>
<circle cx="513" cy="901.8" r="4.7" fill="url(#rg)"/>
<circle cx="547" cy="901.8" r="4.7" fill="url(#rg)"/>
<circle cx="580.5" cy="901.8" r="4.7" fill="url(#rg)"/>
<circle cx="614" cy="901.8" r="4.7" fill="url(#rg)"/>
<circle cx="509.3" cy="920.8" r="4.7" fill="url(#rg)"/>
<circle cx="542.6" cy="920.8" r="4.7" fill="url(#rg)"/>
<circle cx="577" cy="920.8" r="4.7" fill="url(#rg)"/>
<circle cx="610.8" cy="920.8" r="4.7" fill="url(#rg)"/>
<circle cx="494.5" cy="932.4" r="4.7" fill="url(#rg)"/>
<circle cx="527.8" cy="932.4" r="4.7" fill="url(#rg)"/>
<circle cx="561.5" cy="932.4" r="4.7" fill="url(#rg)"/>
<circle cx="595.5" cy="932.4" r="4.7" fill="url(#rg)"/>
<circle cx="628.8" cy="932.4" r="4.7" fill="url(#rg)"/>
<circle cx="524.1" cy="951.1" r="4.7" fill="url(#rg)"/>
<circle cx="557.8" cy="951.1" r="4.7" fill="url(#rg)"/>
<circle cx="591.8" cy="951.1" r="4.7" fill="url(#rg)"/>
<circle cx="625.6" cy="951.1" r="4.7" fill="url(#rg)"/>
<circle cx="509.8" cy="963.9" r="4.7" fill="url(#rg)"/>
<circle cx="543.1" cy="962.7" r="4.7" fill="url(#rg)"/>
<circle cx="576.3" cy="962.7" r="4.7" fill="url(#rg)"/>
<circle cx="610.8" cy="962.7" r="4.7" fill="url(#rg)"/>
<circle cx="644" cy="962.7" r="4.7" fill="url(#rg)"/>
<circle cx="539.4" cy="981.2" r="4.7" fill="url(#rg)"/>
<circle cx="572.9" cy="982.4" r="4.7" fill="url(#rg)"/>
<circle cx="557.8" cy="994.2" r="4.7" fill="url(#rg)"/>
<circle cx="591.8" cy="994.2" r="4.7" fill="url(#rg)"/>
<circle cx="625.6" cy="993" r="4.7" fill="url(#rg)"/>
<circle cx="538.6" cy="1079.3" r="1.7" fill="#fbfbfb" stroke="#9a9a9a" stroke-width="0.7"/><circle cx="537.8" cy="1078.7" r="1.7" fill="#fbfbfb" stroke="#9a9a9a" stroke-width="0.7"/><circle cx="536.5" cy="1079.5" r="1.7" fill="#fbfbfb" stroke="#9a9a9a" stroke-width="0.7"/>
<circle cx="573.2" cy="1079.9" r="1.7" fill="#fbfbfb" stroke="#9a9a9a" stroke-width="0.7"/><circle cx="571.4" cy="1080.3" r="1.7" fill="#fbfbfb" stroke="#9a9a9a" stroke-width="0.7"/><circle cx="575" cy="1078" r="1.7" fill="#fbfbfb" stroke="#9a9a9a" stroke-width="0.7"/>
<circle cx="608.4" cy="1080.5" r="1.7" fill="#fbfbfb" stroke="#9a9a9a" stroke-width="0.7"/><circle cx="608.2" cy="1078.1" r="1.7" fill="#fbfbfb" stroke="#9a9a9a" stroke-width="0.7"/><circle cx="607.1" cy="1079.5" r="1.7" fill="#fbfbfb" stroke="#9a9a9a" stroke-width="0.7"/>
<circle cx="642.2" cy="1081.2" r="1.7" fill="#fbfbfb" stroke="#9a9a9a" stroke-width="0.7"/><circle cx="645.6" cy="1080.4" r="1.7" fill="#fbfbfb" stroke="#9a9a9a" stroke-width="0.7"/><circle cx="645.9" cy="1080" r="1.7" fill="#fbfbfb" stroke="#9a9a9a" stroke-width="0.7"/>
<circle cx="536.2" cy="1115.3" r="1.7" fill="#fbfbfb" stroke="#9a9a9a" stroke-width="0.7"/><circle cx="536.6" cy="1117" r="1.7" fill="#fbfbfb" stroke="#9a9a9a" stroke-width="0.7"/><circle cx="537.9" cy="1113.8" r="1.7" fill="#fbfbfb" stroke="#9a9a9a" stroke-width="0.7"/>
<circle cx="575.3" cy="1116" r="1.7" fill="#fbfbfb" stroke="#9a9a9a" stroke-width="0.7"/><circle cx="574.7" cy="1116.3" r="1.7" fill="#fbfbfb" stroke="#9a9a9a" stroke-width="0.7"/><circle cx="573.1" cy="1116.6" r="1.7" fill="#fbfbfb" stroke="#9a9a9a" stroke-width="0.7"/>
<circle cx="610.3" cy="1115.8" r="1.7" fill="#fbfbfb" stroke="#9a9a9a" stroke-width="0.7"/><circle cx="609.8" cy="1116.1" r="1.7" fill="#fbfbfb" stroke="#9a9a9a" stroke-width="0.7"/><circle cx="608.2" cy="1115.9" r="1.7" fill="#fbfbfb" stroke="#9a9a9a" stroke-width="0.7"/>
<circle cx="642.4" cy="1114.2" r="1.7" fill="#fbfbfb" stroke="#9a9a9a" stroke-width="0.7"/><circle cx="644.2" cy="1112.7" r="1.7" fill="#fbfbfb" stroke="#9a9a9a" stroke-width="0.7"/><circle cx="643.7" cy="1115.5" r="1.7" fill="#fbfbfb" stroke="#9a9a9a" stroke-width="0.7"/>
<circle cx="537.1" cy="1148.6" r="1.7" fill="#fbfbfb" stroke="#9a9a9a" stroke-width="0.7"/><circle cx="538.6" cy="1150.5" r="1.7" fill="#fbfbfb" stroke="#9a9a9a" stroke-width="0.7"/><circle cx="535.9" cy="1150.5" r="1.7" fill="#fbfbfb" stroke="#9a9a9a" stroke-width="0.7"/>
<circle cx="573.8" cy="1149.9" r="1.7" fill="#fbfbfb" stroke="#9a9a9a" stroke-width="0.7"/><circle cx="573" cy="1151.9" r="1.7" fill="#fbfbfb" stroke="#9a9a9a" stroke-width="0.7"/><circle cx="574.1" cy="1150.6" r="1.7" fill="#fbfbfb" stroke="#9a9a9a" stroke-width="0.7"/>
<circle cx="609.8" cy="1151.9" r="1.7" fill="#fbfbfb" stroke="#9a9a9a" stroke-width="0.7"/><circle cx="606.5" cy="1150.3" r="1.7" fill="#fbfbfb" stroke="#9a9a9a" stroke-width="0.7"/><circle cx="609.7" cy="1148.7" r="1.7" fill="#fbfbfb" stroke="#9a9a9a" stroke-width="0.7"/>
<circle cx="643.9" cy="1147.8" r="1.7" fill="#fbfbfb" stroke="#9a9a9a" stroke-width="0.7"/><circle cx="643" cy="1149.2" r="1.7" fill="#fbfbfb" stroke="#9a9a9a" stroke-width="0.7"/><circle cx="642.5" cy="1148.7" r="1.7" fill="#fbfbfb" stroke="#9a9a9a" stroke-width="0.7"/>
<circle cx="538.4" cy="1185.1" r="1.7" fill="#fbfbfb" stroke="#9a9a9a" stroke-width="0.7"/><circle cx="536.6" cy="1186.9" r="1.7" fill="#fbfbfb" stroke="#9a9a9a" stroke-width="0.7"/><circle cx="536.9" cy="1187" r="1.7" fill="#fbfbfb" stroke="#9a9a9a" stroke-width="0.7"/>
<circle cx="574.1" cy="1186.2" r="1.7" fill="#fbfbfb" stroke="#9a9a9a" stroke-width="0.7"/><circle cx="571.6" cy="1185.3" r="1.7" fill="#fbfbfb" stroke="#9a9a9a" stroke-width="0.7"/><circle cx="574.6" cy="1182.8" r="1.7" fill="#fbfbfb" stroke="#9a9a9a" stroke-width="0.7"/>
<circle cx="610.5" cy="1183.4" r="1.7" fill="#fbfbfb" stroke="#9a9a9a" stroke-width="0.7"/><circle cx="608.5" cy="1183.4" r="1.7" fill="#fbfbfb" stroke="#9a9a9a" stroke-width="0.7"/><circle cx="608.6" cy="1185.3" r="1.7" fill="#fbfbfb" stroke="#9a9a9a" stroke-width="0.7"/>
<circle cx="642.4" cy="1186.8" r="1.7" fill="#fbfbfb" stroke="#9a9a9a" stroke-width="0.7"/><circle cx="644" cy="1185" r="1.7" fill="#fbfbfb" stroke="#9a9a9a" stroke-width="0.7"/><circle cx="644.7" cy="1184.3" r="1.7" fill="#fbfbfb" stroke="#9a9a9a" stroke-width="0.7"/>
<circle cx="519.6" cy="1061.9" r="1.6" fill="#fbfbfb" stroke="#9a9a9a" stroke-width="0.7"/><circle cx="520.7" cy="1060.4" r="1.6" fill="#fbfbfb" stroke="#9a9a9a" stroke-width="0.7"/>
<circle cx="555.9" cy="1060.5" r="1.6" fill="#fbfbfb" stroke="#9a9a9a" stroke-width="0.7"/><circle cx="553.1" cy="1060.3" r="1.6" fill="#fbfbfb" stroke="#9a9a9a" stroke-width="0.7"/>
<circle cx="589.2" cy="1059.9" r="1.6" fill="#fbfbfb" stroke="#9a9a9a" stroke-width="0.7"/><circle cx="592" cy="1060.9" r="1.6" fill="#fbfbfb" stroke="#9a9a9a" stroke-width="0.7"/>
<circle cx="628.6" cy="1062.3" r="1.6" fill="#fbfbfb" stroke="#9a9a9a" stroke-width="0.7"/><circle cx="625.2" cy="1063.3" r="1.6" fill="#fbfbfb" stroke="#9a9a9a" stroke-width="0.7"/>
<circle cx="663.8" cy="1059.6" r="1.6" fill="#fbfbfb" stroke="#9a9a9a" stroke-width="0.7"/><circle cx="663.6" cy="1061" r="1.6" fill="#fbfbfb" stroke="#9a9a9a" stroke-width="0.7"/>
<circle cx="520.4" cy="1099.5" r="1.6" fill="#fbfbfb" stroke="#9a9a9a" stroke-width="0.7"/><circle cx="519.5" cy="1097.7" r="1.6" fill="#fbfbfb" stroke="#9a9a9a" stroke-width="0.7"/>
<circle cx="556.7" cy="1098.5" r="1.6" fill="#fbfbfb" stroke="#9a9a9a" stroke-width="0.7"/><circle cx="554.9" cy="1099.5" r="1.6" fill="#fbfbfb" stroke="#9a9a9a" stroke-width="0.7"/>
<circle cx="592.3" cy="1098" r="1.6" fill="#fbfbfb" stroke="#9a9a9a" stroke-width="0.7"/><circle cx="589.5" cy="1098.1" r="1.6" fill="#fbfbfb" stroke="#9a9a9a" stroke-width="0.7"/>
<circle cx="626.8" cy="1096.4" r="1.6" fill="#fbfbfb" stroke="#9a9a9a" stroke-width="0.7"/><circle cx="625.2" cy="1097.7" r="1.6" fill="#fbfbfb" stroke="#9a9a9a" stroke-width="0.7"/>
<circle cx="660.5" cy="1097.4" r="1.6" fill="#fbfbfb" stroke="#9a9a9a" stroke-width="0.7"/><circle cx="662.7" cy="1097.4" r="1.6" fill="#fbfbfb" stroke="#9a9a9a" stroke-width="0.7"/>
<circle cx="519.5" cy="1132.5" r="1.6" fill="#fbfbfb" stroke="#9a9a9a" stroke-width="0.7"/><circle cx="520.2" cy="1133.3" r="1.6" fill="#fbfbfb" stroke="#9a9a9a" stroke-width="0.7"/>
<circle cx="555.1" cy="1134.2" r="1.6" fill="#fbfbfb" stroke="#9a9a9a" stroke-width="0.7"/><circle cx="556.8" cy="1133.1" r="1.6" fill="#fbfbfb" stroke="#9a9a9a" stroke-width="0.7"/>
<circle cx="590" cy="1130.7" r="1.6" fill="#fbfbfb" stroke="#9a9a9a" stroke-width="0.7"/><circle cx="592.6" cy="1133.3" r="1.6" fill="#fbfbfb" stroke="#9a9a9a" stroke-width="0.7"/>
<circle cx="627.5" cy="1131.6" r="1.6" fill="#fbfbfb" stroke="#9a9a9a" stroke-width="0.7"/><circle cx="626.1" cy="1132.9" r="1.6" fill="#fbfbfb" stroke="#9a9a9a" stroke-width="0.7"/>
<circle cx="662.3" cy="1132.6" r="1.6" fill="#fbfbfb" stroke="#9a9a9a" stroke-width="0.7"/><circle cx="662.5" cy="1133.2" r="1.6" fill="#fbfbfb" stroke="#9a9a9a" stroke-width="0.7"/>
<circle cx="519.3" cy="1166.3" r="1.6" fill="#fbfbfb" stroke="#9a9a9a" stroke-width="0.7"/><circle cx="522.4" cy="1169" r="1.6" fill="#fbfbfb" stroke="#9a9a9a" stroke-width="0.7"/>
<circle cx="556.5" cy="1165.5" r="1.6" fill="#fbfbfb" stroke="#9a9a9a" stroke-width="0.7"/><circle cx="553.2" cy="1166.4" r="1.6" fill="#fbfbfb" stroke="#9a9a9a" stroke-width="0.7"/>
<circle cx="590.7" cy="1167.8" r="1.6" fill="#fbfbfb" stroke="#9a9a9a" stroke-width="0.7"/><circle cx="589.4" cy="1167.5" r="1.6" fill="#fbfbfb" stroke="#9a9a9a" stroke-width="0.7"/>
<circle cx="625.3" cy="1165.6" r="1.6" fill="#fbfbfb" stroke="#9a9a9a" stroke-width="0.7"/><circle cx="627.7" cy="1167.5" r="1.6" fill="#fbfbfb" stroke="#9a9a9a" stroke-width="0.7"/>
<circle cx="662.5" cy="1166.8" r="1.6" fill="#fbfbfb" stroke="#9a9a9a" stroke-width="0.7"/><circle cx="661.9" cy="1166.1" r="1.6" fill="#fbfbfb" stroke="#9a9a9a" stroke-width="0.7"/>
<circle cx="519.9" cy="1203.4" r="1.6" fill="#fbfbfb" stroke="#9a9a9a" stroke-width="0.7"/><circle cx="521.9" cy="1200.7" r="1.6" fill="#fbfbfb" stroke="#9a9a9a" stroke-width="0.7"/>
<circle cx="553.5" cy="1203.6" r="1.6" fill="#fbfbfb" stroke="#9a9a9a" stroke-width="0.7"/><circle cx="555.5" cy="1203.5" r="1.6" fill="#fbfbfb" stroke="#9a9a9a" stroke-width="0.7"/>
<circle cx="589.9" cy="1202.1" r="1.6" fill="#fbfbfb" stroke="#9a9a9a" stroke-width="0.7"/><circle cx="590" cy="1203.6" r="1.6" fill="#fbfbfb" stroke="#9a9a9a" stroke-width="0.7"/>
<circle cx="626.5" cy="1203" r="1.6" fill="#fbfbfb" stroke="#9a9a9a" stroke-width="0.7"/><circle cx="629" cy="1201.7" r="1.6" fill="#fbfbfb" stroke="#9a9a9a" stroke-width="0.7"/>
<circle cx="662.2" cy="1203.4" r="1.6" fill="#fbfbfb" stroke="#9a9a9a" stroke-width="0.7"/><circle cx="663.7" cy="1202.1" r="1.6" fill="#fbfbfb" stroke="#9a9a9a" stroke-width="0.7"/>
<path d="M520.4 1062.2 L661.6 1062.2 L662.4 1201.9 L521.3 1202.4Z" fill="none" stroke="#111" stroke-width="1.3"/>
<circle cx="535.8" cy="1060.5" r="5.6" fill="url(#rg)"/>
<circle cx="537.8" cy="1062.8" r="5.6" fill="url(#rg)"/>
<circle cx="572.7" cy="1060.5" r="5.6" fill="url(#rg)"/>
<circle cx="574.7" cy="1062.8" r="5.6" fill="url(#rg)"/>
<circle cx="608.6" cy="1061.3" r="5.7" fill="url(#rg)"/>
<circle cx="643.5" cy="1060.5" r="5.6" fill="url(#rg)"/>
<circle cx="645.5" cy="1062.8" r="5.6" fill="url(#rg)"/>
<circle cx="535.8" cy="1096.8" r="5.6" fill="url(#rg)"/>
<circle cx="537.8" cy="1099.1" r="5.6" fill="url(#rg)"/>
<circle cx="573.5" cy="1097.6" r="5.7" fill="url(#rg)"/>
<circle cx="607.8" cy="1096.8" r="5.6" fill="url(#rg)"/>
<circle cx="609.8" cy="1099.1" r="5.6" fill="url(#rg)"/>
<circle cx="644.3" cy="1097.6" r="5.7" fill="url(#rg)"/>
<circle cx="535.8" cy="1131.4" r="5.6" fill="url(#rg)"/>
<circle cx="537.8" cy="1133.7" r="5.6" fill="url(#rg)"/>
<circle cx="573.5" cy="1132.2" r="5.7" fill="url(#rg)"/>
<circle cx="607.8" cy="1131.4" r="5.6" fill="url(#rg)"/>
<circle cx="609.8" cy="1133.7" r="5.6" fill="url(#rg)"/>
<circle cx="643.5" cy="1131.4" r="5.6" fill="url(#rg)"/>
<circle cx="645.5" cy="1133.7" r="5.6" fill="url(#rg)"/>
<circle cx="536.6" cy="1167.3" r="5.7" fill="url(#rg)"/>
<circle cx="572.7" cy="1166.5" r="5.6" fill="url(#rg)"/>
<circle cx="574.7" cy="1168.8" r="5.6" fill="url(#rg)"/>
<circle cx="607.8" cy="1166.5" r="5.6" fill="url(#rg)"/>
<circle cx="609.8" cy="1168.8" r="5.6" fill="url(#rg)"/>
<circle cx="644.3" cy="1167.3" r="5.7" fill="url(#rg)"/>
<circle cx="536.6" cy="1202.4" r="5.7" fill="url(#rg)"/>
<circle cx="572.7" cy="1201.6" r="5.6" fill="url(#rg)"/>
<circle cx="574.7" cy="1203.9" r="5.6" fill="url(#rg)"/>
<circle cx="607.8" cy="1201.6" r="5.6" fill="url(#rg)"/>
<circle cx="609.8" cy="1203.9" r="5.6" fill="url(#rg)"/>
<circle cx="643.5" cy="1201.6" r="5.6" fill="url(#rg)"/>
<circle cx="645.5" cy="1203.9" r="5.6" fill="url(#rg)"/>
<path d="M468.7 1213.5 L678.5 1211.3 L681.2 1362.1 L470.2 1364.5Z" fill="none" stroke="#222" stroke-width="1.2"/>
<line x1="469.5" y1="1289.4" x2="678.5" y2="1286.8" stroke="#222" stroke-width="1.3"/>
<circle cx="540.3" cy="1232.2" r="1.7" fill="#fbfbfb" stroke="#9a9a9a" stroke-width="0.7"/>
<circle cx="589.8" cy="1236.3" r="1.7" fill="#fbfbfb" stroke="#9a9a9a" stroke-width="0.7"/><circle cx="589.3" cy="1234.4" r="1.7" fill="#fbfbfb" stroke="#9a9a9a" stroke-width="0.7"/>
<circle cx="503.8" cy="1256" r="1.7" fill="#fbfbfb" stroke="#9a9a9a" stroke-width="0.7"/>
<circle cx="550" cy="1253.5" r="1.7" fill="#fbfbfb" stroke="#9a9a9a" stroke-width="0.7"/><circle cx="548.2" cy="1252.1" r="1.7" fill="#fbfbfb" stroke="#9a9a9a" stroke-width="0.7"/>
<circle cx="603.3" cy="1252.6" r="1.7" fill="#fbfbfb" stroke="#9a9a9a" stroke-width="0.7"/>
<circle cx="677.2" cy="1248.1" r="1.7" fill="#fbfbfb" stroke="#9a9a9a" stroke-width="0.7"/>
<circle cx="473.5" cy="1271.6" r="1.7" fill="#fbfbfb" stroke="#9a9a9a" stroke-width="0.7"/>
<circle cx="521.8" cy="1270.4" r="1.7" fill="#fbfbfb" stroke="#9a9a9a" stroke-width="0.7"/>
<circle cx="577.4" cy="1268" r="1.7" fill="#fbfbfb" stroke="#9a9a9a" stroke-width="0.7"/>
<circle cx="648.5" cy="1270.7" r="1.7" fill="#fbfbfb" stroke="#9a9a9a" stroke-width="0.7"/>
<circle cx="520" cy="1288.3" r="1.7" fill="#fbfbfb" stroke="#9a9a9a" stroke-width="0.7"/><circle cx="522.3" cy="1289.6" r="1.7" fill="#fbfbfb" stroke="#9a9a9a" stroke-width="0.7"/>
<circle cx="562.5" cy="1291.1" r="1.7" fill="#fbfbfb" stroke="#9a9a9a" stroke-width="0.7"/>
<circle cx="613.7" cy="1292.4" r="1.7" fill="#fbfbfb" stroke="#9a9a9a" stroke-width="0.7"/><circle cx="613.6" cy="1292.7" r="1.7" fill="#fbfbfb" stroke="#9a9a9a" stroke-width="0.7"/>
<circle cx="681.3" cy="1291.3" r="1.7" fill="#fbfbfb" stroke="#9a9a9a" stroke-width="0.7"/><circle cx="680.1" cy="1289.7" r="1.7" fill="#fbfbfb" stroke="#9a9a9a" stroke-width="0.7"/>
<circle cx="473.3" cy="1309.6" r="1.7" fill="#fbfbfb" stroke="#9a9a9a" stroke-width="0.7"/><circle cx="472.2" cy="1310.5" r="1.7" fill="#fbfbfb" stroke="#9a9a9a" stroke-width="0.7"/>
<circle cx="528.1" cy="1308.9" r="1.7" fill="#fbfbfb" stroke="#9a9a9a" stroke-width="0.7"/><circle cx="529.5" cy="1311.5" r="1.7" fill="#fbfbfb" stroke="#9a9a9a" stroke-width="0.7"/>
<circle cx="577" cy="1305.4" r="1.7" fill="#fbfbfb" stroke="#9a9a9a" stroke-width="0.7"/><circle cx="580.1" cy="1304.7" r="1.7" fill="#fbfbfb" stroke="#9a9a9a" stroke-width="0.7"/>
<circle cx="633.1" cy="1306.8" r="1.7" fill="#fbfbfb" stroke="#9a9a9a" stroke-width="0.7"/>
<circle cx="509.7" cy="1328.6" r="1.7" fill="#fbfbfb" stroke="#9a9a9a" stroke-width="0.7"/><circle cx="511.8" cy="1327.5" r="1.7" fill="#fbfbfb" stroke="#9a9a9a" stroke-width="0.7"/>
<circle cx="574.1" cy="1326.7" r="1.7" fill="#fbfbfb" stroke="#9a9a9a" stroke-width="0.7"/><circle cx="576" cy="1327.7" r="1.7" fill="#fbfbfb" stroke="#9a9a9a" stroke-width="0.7"/>
<circle cx="622" cy="1323.2" r="1.7" fill="#fbfbfb" stroke="#9a9a9a" stroke-width="0.7"/>
<circle cx="658.5" cy="1326.5" r="1.7" fill="#fbfbfb" stroke="#9a9a9a" stroke-width="0.7"/><circle cx="659.1" cy="1329.9" r="1.7" fill="#fbfbfb" stroke="#9a9a9a" stroke-width="0.7"/>
<circle cx="495.1" cy="1350.7" r="1.7" fill="#fbfbfb" stroke="#9a9a9a" stroke-width="0.7"/><circle cx="494.3" cy="1348.5" r="1.7" fill="#fbfbfb" stroke="#9a9a9a" stroke-width="0.7"/>
<circle cx="527.9" cy="1346.4" r="1.7" fill="#fbfbfb" stroke="#9a9a9a" stroke-width="0.7"/><circle cx="524.8" cy="1346.1" r="1.7" fill="#fbfbfb" stroke="#9a9a9a" stroke-width="0.7"/>
<circle cx="590.5" cy="1347.1" r="1.7" fill="#fbfbfb" stroke="#9a9a9a" stroke-width="0.7"/>
<circle cx="628.5" cy="1345.9" r="1.7" fill="#fbfbfb" stroke="#9a9a9a" stroke-width="0.7"/>
<circle cx="534.7" cy="1222.2" r="5" fill="url(#rg)"/>
<circle cx="587.4" cy="1221.7" r="5" fill="url(#rg)"/>
<circle cx="508.3" cy="1241.1" r="5" fill="url(#rg)"/>
<circle cx="562.1" cy="1240.5" r="5" fill="url(#rg)"/>
<circle cx="614.3" cy="1240" r="5" fill="url(#rg)"/>
<circle cx="667.6" cy="1240.2" r="5" fill="url(#rg)"/>
<circle cx="482.5" cy="1260.6" r="5" fill="url(#rg)"/>
<circle cx="534.7" cy="1260" r="5" fill="url(#rg)"/>
<circle cx="587.9" cy="1259.5" r="5" fill="url(#rg)"/>
<circle cx="640.8" cy="1258.8" r="5" fill="url(#rg)"/>
<circle cx="509" cy="1278.9" r="5" fill="url(#rg)"/>
<circle cx="561.8" cy="1278.2" r="5" fill="url(#rg)"/>
<circle cx="614.8" cy="1278.2" r="5" fill="url(#rg)"/>
<circle cx="667.6" cy="1278.2" r="5" fill="url(#rg)"/>
<circle cx="482.5" cy="1297.9" r="5" fill="url(#rg)"/>
<circle cx="535.2" cy="1297.1" r="5" fill="url(#rg)"/>
<circle cx="587.9" cy="1297.1" r="5" fill="url(#rg)"/>
<circle cx="641.2" cy="1296.8" r="5" fill="url(#rg)"/>
<circle cx="509.8" cy="1316.3" r="5" fill="url(#rg)"/>
<circle cx="561.8" cy="1315.8" r="5" fill="url(#rg)"/>
<circle cx="614.8" cy="1315.8" r="5" fill="url(#rg)"/>
<circle cx="667.6" cy="1315.5" r="5" fill="url(#rg)"/>
<circle cx="483.4" cy="1336.4" r="5" fill="url(#rg)"/>
<circle cx="535.9" cy="1335.2" r="5" fill="url(#rg)"/>
<circle cx="588.6" cy="1334.9" r="5" fill="url(#rg)"/>
<circle cx="641.2" cy="1334.6" r="5" fill="url(#rg)"/>
<text x="142.5" y="802" font-size="28.5" font-weight="bold" letter-spacing="-0.4">SF1</text>
<text x="319.5" y="811.3" font-size="28.5" font-weight="bold" letter-spacing="-0.4">SF2</text>
<text x="514.5" y="819.8" font-size="28.5" font-weight="bold" letter-spacing="-0.8">P<tspan font-style="italic" dx="3">bcm</tspan></text>
<text x="314" y="991.2" font-size="28.5" font-weight="bold" letter-spacing="-0.8">P<tspan font-style="italic" dx="3">bcm</tspan></text>
<text x="579.5" y="1046.4" font-size="28.5" font-weight="bold">X</text>
<text x="314.5" y="1366" font-size="28.5" font-weight="bold" letter-spacing="-1.8">X<tspan dx="3">(cubic)</tspan></text>
<line x1="183.6" y1="948.8" x2="208.9" y2="1079.3" stroke="#000" stroke-width="4"/>
<line x1="288.8" y1="956.4" x2="214" y2="1255" stroke="#000" stroke-width="4"/>
<line x1="342" y1="1146.4" x2="205.1" y2="1414.7" stroke="#000" stroke-width="4"/>
<line x1="549.5" y1="1000.9" x2="344.6" y2="1247.3" stroke="#000" stroke-width="4"/>
<line x1="566.4" y1="1362.3" x2="500.5" y2="1417" stroke="#000" stroke-width="4"/>
<line x1="351.3" y1="1376.8" x2="296.8" y2="1418.5" stroke="#008000" stroke-width="4"/>
<path d="M208.9 1072.1L216.1 1079.3L208.9 1086.5L201.7 1079.3Z" fill="#000"/>
<path d="M214 1247.8L221.2 1255L214 1262.2L206.8 1255Z" fill="#000"/>
<path d="M205.1 1407.5L212.3 1414.7L205.1 1421.9L197.9 1414.7Z" fill="#000"/>
<path d="M344.6 1240.1L351.8 1247.3L344.6 1254.5L337.4 1247.3Z" fill="#000"/>
<path d="M500.5 1409.8L507.7 1417L500.5 1424.2L493.3 1417Z" fill="#000"/>
<path d="M296.8 1407.3L308.5 1418.5L296.8 1429.7L285.1 1418.5Z" fill="#008000"/>
<rect x="98.6" y="725.2" width="580.2" height="706.4" fill="none" stroke="#000" stroke-width="1.8"/>
<line x1="90.9" y1="1431.6" x2="98.6" y2="1431.6" stroke="#000" stroke-width="2"/>
<text x="81.4" y="1440" font-size="23.4" text-anchor="end">0.0</text>
<line x1="90.9" y1="1300.8" x2="98.6" y2="1300.8" stroke="#000" stroke-width="2"/>
<text x="81.4" y="1309.2" font-size="23.4" text-anchor="end">0.5</text>
<line x1="90.9" y1="1170" x2="98.6" y2="1170" stroke="#000" stroke-width="2"/>
<text x="81.4" y="1178.4" font-size="23.4" text-anchor="end">1.0</text>
<line x1="90.9" y1="1039.2" x2="98.6" y2="1039.2" stroke="#000" stroke-width="2"/>
<text x="81.4" y="1047.6" font-size="23.4" text-anchor="end">1.5</text>
<line x1="90.9" y1="908.4" x2="98.6" y2="908.4" stroke="#000" stroke-width="2"/>
<text x="81.4" y="916.8" font-size="23.4" text-anchor="end">2.0</text>
<line x1="90.9" y1="777.6" x2="98.6" y2="777.6" stroke="#000" stroke-width="2"/>
<text x="81.4" y="786" font-size="23.4" text-anchor="end">2.5</text>
<line x1="165.1" y1="1431.6" x2="165.1" y2="1439.3" stroke="#000" stroke-width="2"/>
<text x="165.1" y="1464.4" font-size="23.4" text-anchor="middle">2</text>
<line x1="300.2" y1="1431.6" x2="300.2" y2="1439.3" stroke="#000" stroke-width="2"/>
<text x="300.2" y="1464.4" font-size="23.4" text-anchor="middle">4</text>
<line x1="435.3" y1="1431.6" x2="435.3" y2="1439.3" stroke="#000" stroke-width="2"/>
<text x="435.3" y="1464.4" font-size="23.4" text-anchor="middle">6</text>
<line x1="570.4" y1="1431.6" x2="570.4" y2="1439.3" stroke="#000" stroke-width="2"/>
<text x="570.4" y="1464.4" font-size="23.4" text-anchor="middle">8</text>
<rect x="714.4" y="725.2" width="35.8" height="706.4" fill="url(#cmapg)"/>
<rect x="714.4" y="725.2" width="35.8" height="706.4" fill="none" stroke="#000" stroke-width="2"/>
<line x1="750.2" y1="878.8" x2="757.8" y2="878.8" stroke="#000" stroke-width="2"/>
<text x="765.8" y="887.1" font-size="23">0.045</text>
<line x1="750.2" y1="1040" x2="757.8" y2="1040" stroke="#000" stroke-width="2"/>
<text x="765.8" y="1048.3" font-size="23">0.030</text>
<line x1="750.2" y1="1201.7" x2="757.8" y2="1201.7" stroke="#000" stroke-width="2"/>
<text x="765.8" y="1210" font-size="23">0.015</text>
<line x1="750.2" y1="1363.3" x2="757.8" y2="1363.3" stroke="#000" stroke-width="2"/>
<text x="765.8" y="1371.6" font-size="23">0.000</text>
<text transform="translate(855.2 1079.5) rotate(-90)" font-size="28.7" text-anchor="middle">FES / eV f.u.<tspan font-size="19.5" dy="-12">−1</tspan></text>
<text x="8" y="768.8" font-size="42" font-weight="bold">d</text>
<text x="166.4" y="1503.9" font-size="22.5">CV</text>
<text x="196.3" y="1507.1" font-size="16">1</text>
<text x="205.3" y="1503.9" font-size="22.5">=</text>
<text x="250" y="1503.9" font-size="22.5">(</text>
<text x="256.5" y="1503.9" font-size="22.5" font-style="italic">I</text>
<text x="263.5" y="1507.1" font-size="16" font-style="italic">xx</text>
<text x="285.5" y="1503.9" font-size="22.5">−</text>
<text x="307.5" y="1503.9" font-size="22.5" font-style="italic">I</text>
<text x="314.5" y="1507.1" font-size="16" font-style="italic">yy</text>
<text x="334" y="1503.9" font-size="22.5">)</text>
<text x="343" y="1496.4" font-size="16">2</text>
<text x="357.5" y="1503.9" font-size="22.5">+</text>
<text x="374" y="1503.9" font-size="22.5">(</text>
<text x="387" y="1503.9" font-size="22.5" font-style="italic">I</text>
<text x="393.5" y="1507.1" font-size="16" font-style="italic">yy</text>
<text x="416.8" y="1503.9" font-size="22.5">−</text>
<text x="438" y="1503.9" font-size="22.5" font-style="italic">I</text>
<text x="444.5" y="1507.1" font-size="16" font-style="italic">zz</text>
<text x="461.2" y="1503.9" font-size="22.5">)</text>
<text x="470.2" y="1496.4" font-size="16">2</text>
<text x="484.8" y="1503.9" font-size="22.5">+</text>
<text x="502" y="1503.9" font-size="22.5">(</text>
<text x="514" y="1503.9" font-size="22.5" font-style="italic">I</text>
<text x="521" y="1507.1" font-size="16" font-style="italic">zz</text>
<text x="542.4" y="1503.9" font-size="22.5">−</text>
<text x="563" y="1503.9" font-size="22.5" font-style="italic">I</text>
<text x="570" y="1507.1" font-size="16" font-style="italic">xx</text>
<text x="589.2" y="1503.9" font-size="22.5">)</text>
<text x="598.2" y="1496.4" font-size="16">2</text>
<path d="M228.8 1494.8 L231.5 1493.2 L235.2 1509.5 L245.6 1478.3 L610.4 1478.3" fill="none" stroke="#000" stroke-width="1.4"/>
<g transform="translate(27.6 1184.6) rotate(-90)">
<text x="0" y="0" font-size="22.5">CV</text>
<text x="29.8" y="3.2" font-size="16">2</text>
<text x="44.5" y="0" font-size="22.5">=</text>
<text x="83.5" y="0" font-size="22.5" font-style="italic">I</text>
<text x="89.5" y="-12.6" font-size="16">2</text>
<text x="90.5" y="3.4" font-size="16" font-style="italic">xy</text>
<text x="114.2" y="0" font-size="22.5">+</text>
<text x="135.5" y="0" font-size="22.5" font-style="italic">I</text>
<text x="141.5" y="-12.6" font-size="16">2</text>
<text x="142.5" y="3.4" font-size="16" font-style="italic">xz</text>
<text x="164.6" y="0" font-size="22.5">+</text>
<text x="184.5" y="0" font-size="22.5" font-style="italic">I</text>
<text x="190.5" y="-12.6" font-size="16">2</text>
<text x="191.5" y="3.4" font-size="16" font-style="italic">yz</text>
<path d="M68.6 -8.7 L70.5 -10 L73.2 7.9 L81.1 -26.4 L211.2 -26.4" fill="none" stroke="#000" stroke-width="1.4"/>
</g>
<text x="233" y="778.2" font-size="32.6"><tspan font-style="italic">P</tspan>=400 GPa</text>
</svg></body></html>
